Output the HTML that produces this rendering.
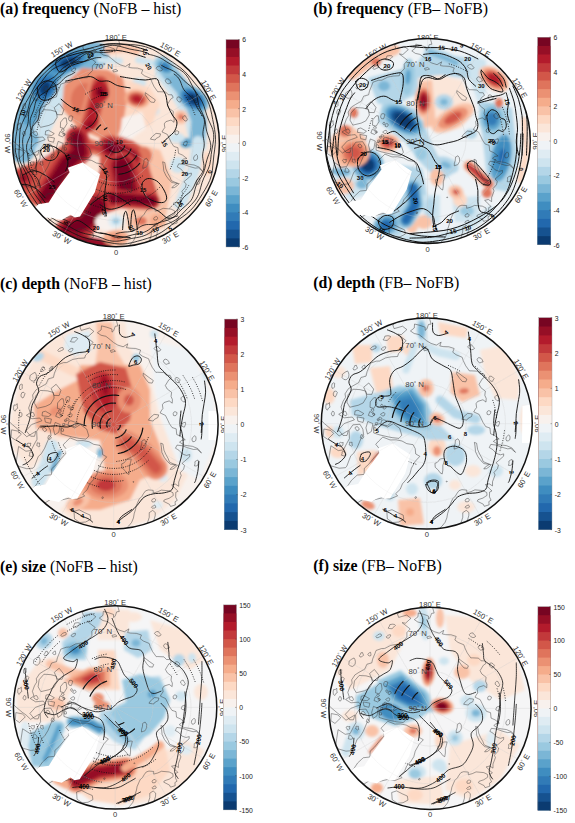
<!DOCTYPE html>
<html><head><meta charset="utf-8"><title>figure</title>
<style>html,body{margin:0;padding:0;background:#fff}body{width:575px;height:823px;overflow:hidden;font-family:"Liberation Sans",sans-serif}svg{display:block}</style>
</head><body>
<svg width="575" height="823" viewBox="0 0 575 823">
<defs>
<path id="coast" d="M0.094 1.078 0.091 1.041 0.114 1.001 0.145 0.971 0.173 0.936 0.190 0.894 0.197 0.854 0.210 0.813 0.216 0.780 0.233 0.740 0.245 0.713 0.271 0.687 0.287 0.660 0.306 0.635 0.333 0.626 0.379 0.630 0.379 0.656 0.419 0.645 0.456 0.628 0.532 0.635 0.568 0.653 0.571 0.680 0.532 0.706 0.486 0.721 0.478 0.735 0.535 0.764 0.545 0.784 0.591 0.770 0.588 0.739 0.609 0.726 0.594 0.695 0.595 0.649 0.617 0.639 0.596 0.617 0.555 0.579 0.591 0.570 0.623 0.591 0.623 0.551 0.647 0.487 0.637 0.463 0.670 0.427 0.679 0.392 0.656 0.371 0.694 0.339 0.728 0.309 0.729 0.287 0.697 0.296 0.658 0.282 0.625 0.246 0.592 0.227 0.607 0.197 0.659 0.204 0.712 0.224 0.766 0.239 0.798 0.236 0.841 0.273 0.807 0.231 0.755 0.209 0.680 0.199 0.631 0.169 0.654 0.151 0.686 0.146 0.643 0.113 0.604 0.096 0.599 0.042 0.559 0.029 0.534 -0.009 0.517 -0.045 0.496 -0.087 0.445 -0.111 0.456 -0.131 0.472 -0.153 0.467 -0.189 0.482 -0.210 0.532 -0.226 0.561 -0.204 0.563 -0.239 0.550 -0.268 0.555 -0.308 0.513 -0.340 0.495 -0.373 0.528 -0.427 0.553 -0.444 0.541 -0.470 0.505 -0.471 0.480 -0.497 0.420 -0.500 0.404 -0.499 0.369 -0.548 0.345 -0.598 0.335 -0.629 0.277 -0.653 0.246 -0.677 0.259 -0.712 0.209 -0.728 0.155 -0.730 0.123 -0.736 0.136 -0.772 0.091 -0.744 0.040 -0.760 0.000 -0.784 -0.043 -0.820 -0.074 -0.844 -0.120 -0.854 -0.155 -0.878 -0.119 -0.906 -0.116 -0.944 -0.065 -0.931 -0.016 -0.914 -0.015 -0.884 0.000 -0.896 0.016 -0.940 0.041 -0.943 0.026 -0.996 0.018 -1.030 0.073 -1.042 0.153 -1.090M0.540 0.430 0.566 0.427 0.593 0.408 0.611 0.389 0.541 0.379 0.514 0.353 0.485 0.315 0.462 0.267 0.457 0.213 0.451 0.178 0.472 0.186 0.482 0.246 0.501 0.289 0.522 0.326 0.535 0.361 0.595 0.386 0.555 0.411 0.540 0.430M0.080 0.414 0.077 0.377 0.099 0.368 0.109 0.357 0.123 0.337 0.147 0.331 0.169 0.332 0.162 0.365 0.152 0.397 0.152 0.441 0.146 0.478 0.125 0.465 0.110 0.442 0.080 0.414M0.259 0.242 0.260 0.218 0.269 0.188 0.271 0.157 0.295 0.144 0.310 0.165 0.310 0.201 0.294 0.230 0.259 0.242M0.379 -0.033 0.333 -0.041 0.345 -0.061 0.387 -0.097 0.431 -0.092 0.424 -0.067 0.389 -0.048 0.379 -0.033M0.369 -0.396 0.336 -0.400 0.311 -0.429 0.283 -0.470 0.284 -0.491 0.339 -0.450 0.380 -0.421 0.369 -0.396M0.018 -0.701 -0.024 -0.690 -0.031 -0.708 0.000 -0.716 0.018 -0.701M-0.276 -1.066 -0.278 -0.968 -0.322 -0.935 -0.310 -0.900 -0.230 -0.923 -0.189 -0.891 -0.242 -0.843 -0.276 -0.848 -0.244 -0.823 -0.196 -0.786 -0.229 -0.749 -0.228 -0.703 -0.268 -0.664 -0.277 -0.636 -0.336 -0.633 -0.390 -0.623 -0.447 -0.593 -0.479 -0.592 -0.534 -0.573 -0.544 -0.544 -0.566 -0.492 -0.576 -0.450 -0.624 -0.437 -0.646 -0.388 -0.702 -0.357 -0.743 -0.331 -0.775 -0.282 -0.770 -0.250 -0.793 -0.212 -0.813 -0.158 -0.798 -0.112 -0.835 -0.088 -0.782 -0.055 -0.706 -0.062 -0.686 -0.036 -0.784 0.000 -0.809 0.028 -0.838 0.059 -0.794 0.112 -0.757 0.113 -0.743 0.065 -0.831 0.117 -0.874 0.076 -0.913 0.048 -0.970 0.000 -1.007 -0.035 -1.042 -0.073 -1.097 -0.086M-0.550 -0.385 -0.504 -0.327 -0.521 -0.277 -0.570 -0.278 -0.598 -0.345 -0.550 -0.385M-0.632 -0.322 -0.577 -0.307 -0.569 -0.253 -0.603 -0.196 -0.649 -0.174 -0.730 -0.155 -0.757 -0.203 -0.747 -0.272 -0.700 -0.326 -0.632 -0.322M-0.482 -0.246 -0.474 -0.191 -0.502 -0.144 -0.538 -0.154 -0.536 -0.206 -0.503 -0.245 -0.482 -0.246M-0.652 -0.127 -0.597 -0.095 -0.622 -0.076 -0.685 -0.084 -0.680 -0.120 -0.652 -0.127M-0.661 -0.064 -0.595 -0.052 -0.604 -0.011 -0.653 -0.023 -0.661 -0.064M-0.559 -0.020 -0.511 0.000 -0.525 0.074 -0.562 0.099 -0.577 0.040 -0.559 -0.020M-0.540 -0.115 -0.492 -0.087 -0.518 -0.064 -0.554 -0.078 -0.540 -0.115M-0.409 -0.036 -0.336 -0.012 -0.373 0.020 -0.437 0.008 -0.428 -0.030 -0.409 -0.036M-0.503 0.018 -0.448 0.000 -0.372 0.033 -0.317 0.000 -0.257 0.045 -0.237 0.110 -0.264 0.140 -0.329 0.133 -0.393 0.120 -0.454 0.105 -0.503 0.089 -0.503 0.018M-0.771 0.418 -0.831 0.423 -0.903 0.402 -0.934 0.377 -0.923 0.300 -0.909 0.210 -0.839 0.256 -0.790 0.249 -0.760 0.190 -0.733 0.142 -0.736 0.064 -0.701 0.012 -0.634 0.006 -0.606 0.053 -0.599 0.106 -0.625 0.144 -0.660 0.227 -0.692 0.280 -0.721 0.306 -0.758 0.403 -0.771 0.418M-0.912 0.064 -0.883 0.093 -0.940 0.149 -0.981 0.121 -0.976 0.051 -0.912 0.064M-1.081 0.210 -1.004 0.213 -0.994 0.285 -1.017 0.370 -1.021 0.412M-0.751 0.805 -0.706 0.770 -0.649 0.746 -0.600 0.715 -0.558 0.715 -0.507 0.724 -0.423 0.704 -0.348 0.714 -0.277 0.685 -0.296 0.665 -0.252 0.623 -0.231 0.571 -0.191 0.526 -0.160 0.478 -0.146 0.423 -0.109 0.357 -0.066 0.310 -0.105 0.288 -0.110 0.237 -0.130 0.200 -0.190 0.190 -0.235 0.165 -0.290 0.154 -0.348 0.155 -0.417 0.128 -0.456 0.166 -0.484 0.196 -0.455 0.232 -0.454 0.273 -0.501 0.325 -0.550 0.385 -0.592 0.423 -0.594 0.481 -0.660 0.488 -0.715 0.539 -0.759 0.604 -0.786 0.660 -0.818 0.737M-0.374 0.903 -0.379 0.832 -0.330 0.816 -0.274 0.845 -0.224 0.867 -0.218 0.907 -0.267 0.933 -0.323 0.938 -0.374 0.903M0.322 1.053 0.309 0.979 0.324 0.942 0.341 0.888 0.341 0.844 0.374 0.822 0.399 0.843 0.398 0.873 0.383 0.924 0.380 0.973 0.403 1.024M-0.780 -0.079 -0.766 -0.074 -0.757 -0.089 -0.763 -0.103 -0.769 -0.115 -0.781 -0.116 -0.794 -0.110 -0.800 -0.094 -0.788 -0.084 -0.780 -0.079M-0.450 -0.218 -0.431 -0.215 -0.424 -0.232 -0.421 -0.242 -0.417 -0.259 -0.433 -0.267 -0.450 -0.264 -0.456 -0.249 -0.459 -0.234 -0.450 -0.218M-0.419 -0.073 -0.407 -0.072 -0.400 -0.082 -0.397 -0.094 -0.405 -0.105 -0.418 -0.102 -0.426 -0.097 -0.439 -0.089 -0.429 -0.078 -0.419 -0.073M-0.438 -0.040 -0.431 -0.042 -0.424 -0.046 -0.427 -0.053 -0.433 -0.057 -0.441 -0.061 -0.453 -0.059 -0.455 -0.049 -0.450 -0.041 -0.438 -0.040M-0.406 -0.139 -0.396 -0.138 -0.388 -0.146 -0.384 -0.157 -0.390 -0.167 -0.399 -0.172 -0.406 -0.162 -0.413 -0.156 -0.416 -0.144 -0.406 -0.139M-0.431 -0.159 -0.421 -0.159 -0.416 -0.166 -0.416 -0.173 -0.420 -0.178 -0.425 -0.185 -0.432 -0.181 -0.438 -0.174 -0.435 -0.166 -0.431 -0.159M-0.610 0.144 -0.603 0.136 -0.596 0.125 -0.605 0.115 -0.612 0.103 -0.623 0.107 -0.626 0.119 -0.630 0.132 -0.619 0.139 -0.610 0.144M-0.462 -0.028 -0.454 -0.026 -0.454 -0.034 -0.452 -0.041 -0.458 -0.043 -0.463 -0.044 -0.471 -0.044 -0.469 -0.035 -0.468 -0.029 -0.462 -0.028M-0.805 0.212 -0.795 0.204 -0.795 0.193 -0.792 0.179 -0.808 0.181 -0.819 0.178 -0.831 0.187 -0.822 0.200 -0.817 0.212 -0.805 0.212M-1.007 0.155 -0.996 0.147 -0.990 0.134 -0.998 0.123 -1.005 0.109 -1.020 0.110 -1.029 0.124 -1.024 0.138 -1.020 0.151 -1.007 0.155M-1.027 0.192 -1.018 0.188 -1.010 0.181 -1.017 0.174 -1.026 0.170 -1.036 0.172 -1.040 0.179 -1.043 0.186 -1.037 0.192 -1.027 0.192M-0.787 -0.419 -0.765 -0.415 -0.741 -0.435 -0.738 -0.464 -0.742 -0.482 -0.751 -0.499 -0.773 -0.488 -0.799 -0.469 -0.803 -0.435 -0.787 -0.419M-0.973 -0.382 -0.958 -0.376 -0.936 -0.406 -0.919 -0.445 -0.931 -0.460 -0.942 -0.467 -0.959 -0.451 -0.975 -0.425 -0.988 -0.387 -0.973 -0.382M-0.877 -0.259 -0.867 -0.253 -0.856 -0.272 -0.848 -0.296 -0.857 -0.306 -0.865 -0.308 -0.878 -0.305 -0.887 -0.282 -0.884 -0.264 -0.877 -0.259M-0.943 -0.127 -0.931 -0.148 -0.917 -0.156 -0.922 -0.175 -0.922 -0.199 -0.938 -0.186 -0.953 -0.187 -0.958 -0.163 -0.956 -0.140 -0.943 -0.127M-0.893 -0.072 -0.883 -0.075 -0.877 -0.088 -0.877 -0.103 -0.883 -0.114 -0.893 -0.118 -0.900 -0.105 -0.907 -0.091 -0.899 -0.082 -0.893 -0.072M-0.898 -0.336 -0.887 -0.334 -0.874 -0.347 -0.875 -0.365 -0.873 -0.382 -0.884 -0.386 -0.897 -0.377 -0.901 -0.360 -0.901 -0.349 -0.898 -0.336M-1.002 -0.220 -0.992 -0.217 -0.984 -0.240 -0.982 -0.260 -0.982 -0.279 -0.992 -0.282 -1.004 -0.269 -1.011 -0.246 -1.009 -0.227 -1.002 -0.220M-0.505 -0.077 -0.497 -0.078 -0.493 -0.085 -0.493 -0.092 -0.498 -0.097 -0.506 -0.103 -0.511 -0.095 -0.512 -0.089 -0.511 -0.083 -0.505 -0.077M-0.517 -0.115 -0.509 -0.117 -0.502 -0.123 -0.501 -0.132 -0.509 -0.136 -0.515 -0.140 -0.524 -0.138 -0.528 -0.129 -0.524 -0.121 -0.517 -0.115M-0.488 0.065 -0.480 0.065 -0.478 0.053 -0.481 0.042 -0.488 0.038 -0.496 0.033 -0.502 0.042 -0.501 0.056 -0.495 0.066 -0.488 0.065M-0.477 0.016 -0.472 0.007 -0.470 0.002 -0.465 -0.008 -0.474 -0.009 -0.480 -0.009 -0.488 -0.007 -0.488 0.002 -0.486 0.012 -0.477 0.016M-0.661 0.068 -0.646 0.062 -0.640 0.048 -0.651 0.039 -0.657 0.029 -0.670 0.031 -0.680 0.038 -0.677 0.050 -0.671 0.058 -0.661 0.068M-0.715 0.214 -0.705 0.207 -0.709 0.193 -0.708 0.177 -0.721 0.178 -0.731 0.175 -0.732 0.188 -0.736 0.201 -0.725 0.207 -0.715 0.214M-0.782 0.306 -0.767 0.301 -0.767 0.284 -0.779 0.274 -0.790 0.261 -0.803 0.268 -0.803 0.284 -0.809 0.300 -0.793 0.304 -0.782 0.306M-0.692 -0.508 -0.677 -0.511 -0.666 -0.517 -0.656 -0.527 -0.663 -0.538 -0.667 -0.552 -0.683 -0.550 -0.689 -0.534 -0.699 -0.521 -0.692 -0.508M-0.608 -0.523 -0.598 -0.519 -0.585 -0.522 -0.584 -0.535 -0.586 -0.543 -0.588 -0.555 -0.600 -0.550 -0.608 -0.544 -0.615 -0.533 -0.608 -0.523M-0.429 -0.700 -0.421 -0.696 -0.407 -0.695 -0.395 -0.708 -0.390 -0.718 -0.390 -0.728 -0.405 -0.728 -0.420 -0.719 -0.433 -0.708 -0.429 -0.700M-0.415 -0.794 -0.398 -0.790 -0.376 -0.788 -0.357 -0.806 -0.342 -0.821 -0.350 -0.830 -0.368 -0.833 -0.397 -0.829 -0.403 -0.810 -0.415 -0.794M-0.528 -0.700 -0.515 -0.700 -0.500 -0.707 -0.481 -0.716 -0.481 -0.728 -0.485 -0.736 -0.498 -0.736 -0.517 -0.728 -0.535 -0.710 -0.528 -0.700M0.584 -0.122 0.576 -0.117 0.570 -0.105 0.573 -0.087 0.586 -0.084 0.596 -0.086 0.603 -0.095 0.608 -0.113 0.594 -0.121 0.584 -0.122M0.671 -0.017 0.662 -0.015 0.655 -0.004 0.651 0.014 0.665 0.022 0.678 0.025 0.684 0.009 0.690 -0.004 0.686 -0.022 0.671 -0.017M0.657 -0.267 0.647 -0.257 0.644 -0.240 0.657 -0.228 0.668 -0.216 0.683 -0.218 0.690 -0.234 0.679 -0.251 0.671 -0.267 0.657 -0.267M0.596 -0.449 0.589 -0.438 0.590 -0.420 0.604 -0.404 0.621 -0.399 0.629 -0.413 0.638 -0.426 0.623 -0.442 0.610 -0.449 0.596 -0.449M0.482 -0.618 0.476 -0.605 0.486 -0.587 0.503 -0.575 0.517 -0.581 0.534 -0.585 0.526 -0.604 0.513 -0.620 0.493 -0.626 0.482 -0.618M0.397 -0.740 0.387 -0.727 0.403 -0.710 0.425 -0.700 0.443 -0.704 0.453 -0.716 0.434 -0.732 0.425 -0.747 0.408 -0.745 0.397 -0.740M0.776 0.106 0.765 0.119 0.753 0.128 0.750 0.148 0.758 0.165 0.773 0.163 0.786 0.154 0.789 0.135 0.787 0.117 0.776 0.106M0.808 0.340 0.793 0.346 0.778 0.356 0.779 0.376 0.774 0.396 0.788 0.397 0.803 0.393 0.810 0.373 0.813 0.356 0.808 0.340M0.401 0.716 0.393 0.708 0.381 0.710 0.370 0.716 0.364 0.728 0.369 0.741 0.384 0.741 0.396 0.738 0.402 0.727 0.401 0.716M0.400 0.780 0.394 0.770 0.382 0.778 0.372 0.781 0.362 0.792 0.370 0.801 0.382 0.800 0.393 0.799 0.405 0.791 0.400 0.780M0.575 0.872 0.562 0.866 0.547 0.869 0.527 0.874 0.527 0.893 0.533 0.908 0.552 0.911 0.568 0.901 0.583 0.887 0.575 0.872M0.624 0.847 0.613 0.845 0.604 0.842 0.598 0.849 0.594 0.860 0.603 0.871 0.615 0.878 0.621 0.867 0.626 0.860 0.624 0.847M-0.099 0.702 -0.098 0.695 -0.103 0.694 -0.107 0.693 -0.112 0.697 -0.113 0.704 -0.110 0.708 -0.105 0.710 -0.101 0.706 -0.099 0.702M0.194 0.549 0.192 0.546 0.188 0.544 0.186 0.547 0.185 0.550 0.187 0.553 0.189 0.555 0.191 0.554 0.193 0.552 0.194 0.549" fill="none" stroke="#333" stroke-width="0.0045" stroke-linejoin="round"/>
<filter id="bla" x="-20%" y="-20%" width="140%" height="140%"><feGaussianBlur stdDeviation="1.8"/></filter>
<filter id="blb" x="-20%" y="-20%" width="140%" height="140%"><feGaussianBlur stdDeviation="1.7"/></filter>
<filter id="blc" x="-20%" y="-20%" width="140%" height="140%"><feGaussianBlur stdDeviation="1.7"/></filter>
<filter id="bld" x="-20%" y="-20%" width="140%" height="140%"><feGaussianBlur stdDeviation="1.7"/></filter>
<filter id="ble" x="-20%" y="-20%" width="140%" height="140%"><feGaussianBlur stdDeviation="1.7"/></filter>
<filter id="blf" x="-20%" y="-20%" width="140%" height="140%"><feGaussianBlur stdDeviation="1.7"/></filter>
</defs>
<rect width="575" height="823" fill="#fff"/>
<text x="0" y="13.9" font-family="Liberation Serif, serif" font-size="15.8" fill="#000"><tspan font-weight="bold">(a) frequency</tspan> (NoFB – hist)</text>
<text x="313.2" y="14.4" font-family="Liberation Serif, serif" font-size="15.8" fill="#000"><tspan font-weight="bold">(b) frequency</tspan> (FB– NoFB)</text>
<text x="0" y="288.6" font-family="Liberation Serif, serif" font-size="15.8" fill="#000"><tspan font-weight="bold">(c) depth</tspan> (NoFB – hist)</text>
<text x="313.2" y="287.8" font-family="Liberation Serif, serif" font-size="15.8" fill="#000"><tspan font-weight="bold">(d) depth</tspan> (FB– NoFB)</text>
<text x="0" y="571.6" font-family="Liberation Serif, serif" font-size="15.8" fill="#000"><tspan font-weight="bold">(e) size</tspan> (NoFB – hist)</text>
<text x="313.2" y="571" font-family="Liberation Serif, serif" font-size="15.8" fill="#000"><tspan font-weight="bold">(f) size</tspan> (FB– NoFB)</text>
<!-- panel a -->
<g font-family="Liberation Sans, sans-serif" font-size="7.6" fill="#333" text-anchor="middle">
<text transform="translate(116 37.2) rotate(0)" y="2.7">180<tspan dy="-2.2" font-size="5">°</tspan><tspan dy="2.2"> </tspan>E</text>
<text transform="translate(170.3 49.3) rotate(30)" y="2.7">150<tspan dy="-2.2" font-size="5">°</tspan><tspan dy="2.2"> </tspan>E</text>
<text transform="translate(208.6 90) rotate(60)" y="2.7">120<tspan dy="-2.2" font-size="5">°</tspan><tspan dy="2.2"> </tspan>E</text>
<text transform="translate(224.4 143.4) rotate(-90)" y="2.7">90<tspan dy="-2.2" font-size="5">°</tspan><tspan dy="2.2"> </tspan>E</text>
<text transform="translate(211.2 198.4) rotate(-60)" y="2.7">60<tspan dy="-2.2" font-size="5">°</tspan><tspan dy="2.2"> </tspan>E</text>
<text transform="translate(170.3 237.5) rotate(-30)" y="2.7">30<tspan dy="-2.2" font-size="5">°</tspan><tspan dy="2.2"> </tspan>E</text>
<text transform="translate(116 252) rotate(0)" y="2.7">0</text>
<text transform="translate(61.7 237.5) rotate(30)" y="2.7">30<tspan dy="-2.2" font-size="5">°</tspan><tspan dy="2.2"> </tspan>W</text>
<text transform="translate(20.8 198.4) rotate(60)" y="2.7">60<tspan dy="-2.2" font-size="5">°</tspan><tspan dy="2.2"> </tspan>W</text>
<text transform="translate(7.6 143.4) rotate(90)" y="2.7">90<tspan dy="-2.2" font-size="5">°</tspan><tspan dy="2.2"> </tspan>W</text>
<text transform="translate(23.4 90) rotate(300)" y="2.7">120<tspan dy="-2.2" font-size="5">°</tspan><tspan dy="2.2"> </tspan>W</text>
<text transform="translate(61.7 49.3) rotate(330)" y="2.7">150<tspan dy="-2.2" font-size="5">°</tspan><tspan dy="2.2"> </tspan>W</text>
</g>
<clipPath id="cpa"><circle cx="116" cy="143.4" r="103.4"/></clipPath>
<g clip-path="url(#cpa)">
<rect x="10.6" y="38" width="210.8" height="210.8" fill="#fbe6d9"/>
<g filter="url(#bla)">
<polygon points="14,150 40,152 52,128 62,108 78,88 104,62 100,48 60,60 30,95 14,130" fill="#cee4ef"/>
<path d="M22 150 L21 122 L33 94 L51 70 L72 57 L96 55" fill="none" stroke="#7bb6d6" stroke-width="26" stroke-linecap="round" stroke-linejoin="round"/>
<path d="M30 118 L42 90 L60 68 L82 56" fill="none" stroke="#5aa2cb" stroke-width="16" stroke-linecap="round" stroke-linejoin="round"/>
<ellipse cx="68" cy="62" rx="19.5" ry="9.2" transform="rotate(-22 68 62)" fill="#3f8dc0"/>
<ellipse cx="68" cy="62" rx="15.8" ry="7.4" transform="rotate(-22 68 62)" fill="#317bb7"/>
<ellipse cx="68" cy="62" rx="12" ry="5.6" transform="rotate(-22 68 62)" fill="#2268ad"/>
<ellipse cx="68" cy="62" rx="8.2" ry="3.9" transform="rotate(-22 68 62)" fill="#0b3b71"/>
<ellipse cx="45" cy="88" rx="11.5" ry="16.1" transform="rotate(30 45 88)" fill="#3f8dc0"/>
<ellipse cx="45" cy="88" rx="9.3" ry="13" transform="rotate(30 45 88)" fill="#317bb7"/>
<ellipse cx="45" cy="88" rx="7.1" ry="9.9" transform="rotate(30 45 88)" fill="#2268ad"/>
<ellipse cx="45" cy="88" rx="4.8" ry="6.8" transform="rotate(30 45 88)" fill="#0b3b71"/>
<ellipse cx="31" cy="140" rx="8" ry="9" transform="rotate(0 31 140)" fill="#7bb6d6"/>
<ellipse cx="50" cy="160" rx="14" ry="7" transform="rotate(-20 50 160)" fill="#eff3f6"/>
<path d="M100 60 L120 61" fill="none" stroke="#cee4ef" stroke-width="6" stroke-linecap="round" stroke-linejoin="round"/>
<path d="M138 60 L158 64" fill="none" stroke="#cee4ef" stroke-width="6" stroke-linecap="round" stroke-linejoin="round"/>
<polygon points="155,55 175,65 198,95 208,125 206,150 190,150 185,120 170,95 155,75" fill="#cee4ef"/>
<path d="M162 64 L174 78 L190 97 L199 120 L197 142" fill="none" stroke="#7bb6d6" stroke-width="15" stroke-linecap="round" stroke-linejoin="round"/>
<ellipse cx="193" cy="99" rx="17.2" ry="11.5" transform="rotate(35 193 99)" fill="#7bb6d6"/>
<ellipse cx="193" cy="99" rx="13.9" ry="9.3" transform="rotate(35 193 99)" fill="#3f8dc0"/>
<ellipse cx="193" cy="99" rx="10.6" ry="7.1" transform="rotate(35 193 99)" fill="#2268ad"/>
<ellipse cx="193" cy="99" rx="7.2" ry="4.8" transform="rotate(35 193 99)" fill="#0b3b71"/>
<ellipse cx="165" cy="67" rx="11.5" ry="8" transform="rotate(35 165 67)" fill="#9ac9e0"/>
<ellipse cx="165" cy="67" rx="8.2" ry="5.7" transform="rotate(35 165 67)" fill="#5aa2cb"/>
<ellipse cx="165" cy="67" rx="4.8" ry="3.4" transform="rotate(35 165 67)" fill="#317bb7"/>
<path d="M198 142 L194 170 L182 200" fill="none" stroke="#cee4ef" stroke-width="12" stroke-linecap="round" stroke-linejoin="round"/>
<ellipse cx="186" cy="143" rx="6" ry="5" transform="rotate(0 186 143)" fill="#5aa2cb"/>
<ellipse cx="139" cy="83" rx="7" ry="5" transform="rotate(0 139 83)" fill="#cee4ef"/>
<ellipse cx="150" cy="113" rx="10" ry="5" transform="rotate(-20 150 113)" fill="#cee4ef"/>
<ellipse cx="128" cy="128" rx="6" ry="4" transform="rotate(-30 128 128)" fill="#cee4ef"/>
<ellipse cx="177" cy="138" rx="8" ry="5" transform="rotate(0 177 138)" fill="#cee4ef"/>
<ellipse cx="178" cy="165" rx="8" ry="8" transform="rotate(0 178 165)" fill="#cee4ef"/>
<ellipse cx="190" cy="176" rx="6" ry="6" transform="rotate(0 190 176)" fill="#cee4ef"/>
<ellipse cx="179" cy="205" rx="6" ry="4" transform="rotate(0 179 205)" fill="#cee4ef"/>
<polygon points="122,78 150,88 160,104 152,124 134,134 122,128" fill="#fdd9c4"/>
<polygon points="64,84 82,68 108,70 123,78 127,100 123,124 117,138 100,138 78,128 62,108" fill="#eb9173"/>
<ellipse cx="86" cy="100" rx="15" ry="17" transform="rotate(0 86 100)" fill="#df745c"/>
<polygon points="122,140 160,150 172,180 166,215 150,236 128,218 122,180" fill="#f9c2a7"/>
<path d="M108 50 L125 48 L136 51" fill="none" stroke="#f9c2a7" stroke-width="8" stroke-linecap="round" stroke-linejoin="round"/>
<ellipse cx="207" cy="164" rx="5" ry="12" transform="rotate(0 207 164)" fill="#fdd9c4"/>
<polygon points="100,138 125,136 146,150 150,170 158,195 150,210 120,208 100,216 92,236 70,240 54,228 76,212 92,192 100,170" fill="#d25749"/>
<polygon points="14,170 40,160 62,146 76,130 92,140 84,158 66,170 52,198 36,206 20,196" fill="#d25749"/>
<polygon points="122,118 142,112 146,128 130,140 120,136" fill="#f8f1ed"/>
<ellipse cx="144" cy="156" rx="8" ry="9" transform="rotate(0 144 156)" fill="#df745c"/>
<path d="M100 84 L96 100 L90 122" fill="none" stroke="#eb9173" stroke-width="23" stroke-linecap="round" stroke-linejoin="round"/>
<path d="M100 84 L96 100 L90 122" fill="none" stroke="#d25749" stroke-width="16.3" stroke-linecap="round" stroke-linejoin="round"/>
<path d="M100 84 L96 100 L90 122" fill="none" stroke="#b31b2c" stroke-width="9.7" stroke-linecap="round" stroke-linejoin="round"/>
<ellipse cx="100" cy="92" rx="9.2" ry="10.3" transform="rotate(0 100 92)" fill="#b31b2c"/>
<ellipse cx="100" cy="92" rx="3.9" ry="4.3" transform="rotate(0 100 92)" fill="#770522"/>
<ellipse cx="90" cy="124" rx="10.3" ry="6.9" transform="rotate(-40 90 124)" fill="#b31b2c"/>
<ellipse cx="90" cy="124" rx="4.3" ry="2.9" transform="rotate(-40 90 124)" fill="#960f26"/>
<ellipse cx="137" cy="99" rx="12.6" ry="9.2" transform="rotate(10 137 99)" fill="#f5ac8b"/>
<ellipse cx="137" cy="99" rx="9" ry="6.5" transform="rotate(10 137 99)" fill="#d25749"/>
<ellipse cx="137" cy="99" rx="5.3" ry="3.9" transform="rotate(10 137 99)" fill="#b31b2c"/>
<ellipse cx="181" cy="117" rx="6.9" ry="6.9" transform="rotate(0 181 117)" fill="#f9c2a7"/>
<ellipse cx="181" cy="117" rx="2.9" ry="2.9" transform="rotate(0 181 117)" fill="#df745c"/>
<path d="M84 144 L102 150" fill="none" stroke="#df745c" stroke-width="13.8" stroke-linecap="round" stroke-linejoin="round"/>
<path d="M84 144 L102 150" fill="none" stroke="#c2393b" stroke-width="5.8" stroke-linecap="round" stroke-linejoin="round"/>
<path d="M77 138 L80 152 L66 164 L56 180 L46 196" fill="none" stroke="#c2393b" stroke-width="23" stroke-linecap="round" stroke-linejoin="round"/>
<path d="M77 138 L80 152 L66 164 L56 180 L46 196" fill="none" stroke="#960f26" stroke-width="16.3" stroke-linecap="round" stroke-linejoin="round"/>
<path d="M77 138 L80 152 L66 164 L56 180 L46 196" fill="none" stroke="#770522" stroke-width="9.7" stroke-linecap="round" stroke-linejoin="round"/>
<ellipse cx="24" cy="178" rx="9.2" ry="10.3" transform="rotate(0 24 178)" fill="#c2393b"/>
<ellipse cx="24" cy="178" rx="3.9" ry="4.3" transform="rotate(0 24 178)" fill="#960f26"/>
<path d="M110 147 L130 158" fill="none" stroke="#c2393b" stroke-width="23" stroke-linecap="round" stroke-linejoin="round"/>
<path d="M110 147 L130 158" fill="none" stroke="#960f26" stroke-width="16.3" stroke-linecap="round" stroke-linejoin="round"/>
<path d="M110 147 L130 158" fill="none" stroke="#770522" stroke-width="9.7" stroke-linecap="round" stroke-linejoin="round"/>
<path d="M122 166 L127 190" fill="none" stroke="#c2393b" stroke-width="29.9" stroke-linecap="round" stroke-linejoin="round"/>
<path d="M122 166 L127 190" fill="none" stroke="#960f26" stroke-width="21.2" stroke-linecap="round" stroke-linejoin="round"/>
<path d="M122 166 L127 190" fill="none" stroke="#770522" stroke-width="12.6" stroke-linecap="round" stroke-linejoin="round"/>
<path d="M88 201 L120 198 L152 201" fill="none" stroke="#c2393b" stroke-width="16.1" stroke-linecap="round" stroke-linejoin="round"/>
<path d="M88 201 L120 198 L152 201" fill="none" stroke="#960f26" stroke-width="11.4" stroke-linecap="round" stroke-linejoin="round"/>
<path d="M88 201 L120 198 L152 201" fill="none" stroke="#770522" stroke-width="6.8" stroke-linecap="round" stroke-linejoin="round"/>
<path d="M98 205 L86 222 L68 231" fill="none" stroke="#c2393b" stroke-width="25.3" stroke-linecap="round" stroke-linejoin="round"/>
<path d="M98 205 L86 222 L68 231" fill="none" stroke="#960f26" stroke-width="18" stroke-linecap="round" stroke-linejoin="round"/>
<path d="M98 205 L86 222 L68 231" fill="none" stroke="#770522" stroke-width="10.6" stroke-linecap="round" stroke-linejoin="round"/>
<path d="M70 236 L90 243 L106 246" fill="none" stroke="#960f26" stroke-width="11" stroke-linecap="round" stroke-linejoin="round"/>
<ellipse cx="116" cy="238" rx="12.6" ry="8" transform="rotate(0 116 238)" fill="#f5ac8b"/>
<ellipse cx="116" cy="238" rx="5.3" ry="3.4" transform="rotate(0 116 238)" fill="#df745c"/>
<ellipse cx="141" cy="221" rx="13.8" ry="10.3" transform="rotate(0 141 221)" fill="#f9c2a7"/>
<ellipse cx="141" cy="221" rx="5.8" ry="4.3" transform="rotate(0 141 221)" fill="#df745c"/>
<ellipse cx="158" cy="221" rx="8" ry="7" transform="rotate(0 158 221)" fill="#f5ac8b"/>
<ellipse cx="108" cy="222" rx="13" ry="9" transform="rotate(0 108 222)" fill="#f8f1ed"/>
<ellipse cx="116" cy="221" rx="8" ry="6.9" transform="rotate(0 116 221)" fill="#dfecf3"/>
<ellipse cx="116" cy="221" rx="3.4" ry="2.9" transform="rotate(0 116 221)" fill="#9ac9e0"/>
</g>
<g stroke="#d0d0d0" stroke-width="0.3" opacity="0.55"><line x1="116" y1="145.5" x2="116" y2="246.8"/><line x1="117" y1="145.2" x2="167.7" y2="232.9"/><line x1="117.8" y1="144.4" x2="205.5" y2="195.1"/><line x1="118.1" y1="143.4" x2="219.4" y2="143.4"/><line x1="117.8" y1="142.4" x2="205.5" y2="91.7"/><line x1="117" y1="141.6" x2="167.7" y2="53.9"/><line x1="116" y1="141.3" x2="116" y2="40"/><line x1="115" y1="141.6" x2="64.3" y2="53.9"/><line x1="114.2" y1="142.4" x2="26.5" y2="91.7"/><line x1="113.9" y1="143.4" x2="12.6" y2="143.4"/><line x1="114.2" y1="144.4" x2="26.5" y2="195.1"/><line x1="115" y1="145.2" x2="64.3" y2="232.9"/><circle cx="116" cy="143.4" r="38.6" fill="none"/><circle cx="116" cy="143.4" r="77.1" fill="none"/></g>
<g font-family="Liberation Sans, sans-serif" font-size="7.8" fill="#444" text-anchor="end">
<text x="113" y="146.2">90<tspan dy="-2.2" font-size="5">°</tspan><tspan dy="2.2"> N</tspan></text>
<text x="113" y="107.6">80<tspan dy="-2.2" font-size="5">°</tspan><tspan dy="2.2"> N</tspan></text>
<text x="113" y="69.1">70<tspan dy="-2.2" font-size="5">°</tspan><tspan dy="2.2"> N</tspan></text>
</g>
<use href="#coast" transform="translate(116 143.4) scale(103.4)"/>
<path d="M56.6 60.7 C58.4 58.8 63 57.7 67.9 56.2 C72.8 54.7 81.8 52.1 86 51.7 C90.1 51.3 92.8 52.4 92.8 53.9 C92.8 55.4 89.4 58.8 86 60.7 C82.6 62.6 76.5 63.4 72.4 65.2 C68.3 67.1 63.7 71.7 61.1 72 C58.4 72.4 57.3 69.4 56.6 67.5 C55.8 65.6 54.7 62.6 56.6 60.7Z" fill="none" stroke="#111" stroke-width="1" stroke-linecap="round" stroke-linejoin="round"/>
<path d="M37.3 87.9 C38.1 84.9 42.4 81.8 45.2 81.1 C48.1 80.3 52.4 81.5 54.3 83.3 C56.2 85.2 57.3 89.8 56.6 92.4 C55.8 95 52.4 98.1 49.8 99.2 C47.1 100.3 42.8 101.1 40.7 99.2 C38.7 97.3 36.6 90.9 37.3 87.9Z" fill="none" stroke="#111" stroke-width="1" stroke-linecap="round" stroke-linejoin="round"/>
<path d="M61.1 99.2 C62.2 100.1 65.4 103.1 67.9 104.8 C70.3 106.5 73.2 108.4 75.8 109.4 C78.4 110.3 81.3 110.7 83.7 110.5 C86.2 110.3 88.2 107.5 90.5 108.2 C92.8 109 96.9 112.4 97.3 115 C97.7 117.7 94.6 121.8 92.8 124.1 C90.9 126.3 87.1 127.8 86 128.6" fill="none" stroke="#111" stroke-width="1" stroke-linecap="round" stroke-linejoin="round"/>
<path d="M65.6 81.1 C67.5 80.7 72.8 79.6 76.9 78.8 C81.1 78.1 86.7 76.2 90.5 76.6 C94.3 76.9 96.5 80.3 99.5 81.1 C102.6 81.8 105.6 80.3 108.6 81.1 C111.6 81.8 114.1 84.5 117.6 85.6 C121.2 86.7 128 87.5 130.1 87.9" fill="none" stroke="#111" stroke-width="1" stroke-linecap="round" stroke-linejoin="round"/>
<path d="M100 44.9 C102.3 44.7 109 43.8 113.6 43.8 C118.1 43.8 122.6 44.1 127.1 44.9 C131.7 45.6 137.3 47.3 140.7 48.3 C144.1 49.2 146.4 50.2 147.5 50.5" fill="none" stroke="#111" stroke-width="1" stroke-linecap="round" stroke-linejoin="round"/>
<path d="M100 50.5 C103 50.5 112.4 50 118.1 50.5 C123.8 51.1 129.4 52.8 133.9 53.9 C138.5 55.1 143.4 56.8 145.2 57.3" fill="none" stroke="#111" stroke-width="1" stroke-linecap="round" stroke-linejoin="round"/>
<path d="M120.4 76.6 C122.6 76.9 129.8 78.3 133.9 78.8 C138.1 79.4 141.5 80 145.2 80 C149 80 154.1 77.9 156.6 78.8 C159 79.8 158.4 83 160 85.6 C161.5 88.3 164.3 91.3 165.6 94.7 C166.9 98.1 166.7 102.6 167.9 106 C169 109.4 170.9 112.4 172.4 115 C173.9 117.7 176.5 119.2 176.9 121.8 C177.3 124.4 176.2 128.2 174.7 130.9 C173.2 133.5 169.8 135.8 167.9 137.6 C166 139.5 164.1 141.4 163.3 142.2" fill="none" stroke="#111" stroke-width="1" stroke-linecap="round" stroke-linejoin="round"/>
<path d="M141.9 184.3 C142.2 181.5 145.1 179.2 147.5 178.6 C150 178.1 153.9 179.2 156.6 180.9 C159.2 182.6 161.7 186 163.3 188.8 C165 191.7 166.7 195.6 166.7 197.9 C166.7 200.1 165.4 201.8 163.3 202.4 C161.3 203 157.3 202.4 154.3 201.3 C151.3 200.1 147.3 198.4 145.2 195.6 C143.2 192.8 141.5 187.1 141.9 184.3Z" fill="none" stroke="#111" stroke-width="1" stroke-linecap="round" stroke-linejoin="round"/>
<path d="M100 204.7 C101.5 205.4 105.7 208.8 109 209.2 C112.4 209.6 116.2 208.4 120.4 206.9 C124.5 205.4 129.8 200.5 133.9 200.1 C138.1 199.8 141.1 202.8 145.2 204.7 C149.4 206.5 155.1 209.2 158.8 211.4 C162.6 213.7 164.9 217.5 167.9 218.2 C170.9 219 175.4 216.3 176.9 216" fill="none" stroke="#111" stroke-width="1" stroke-linecap="round" stroke-linejoin="round"/>
<path d="M122.6 229.5 C122.8 227.3 123.2 219 123.8 216 C124.3 213 125.3 210.7 126 211.4 C126.8 212.2 127.7 217.5 128.3 220.5 C128.8 223.5 129.2 228 129.4 229.5" fill="none" stroke="#111" stroke-width="1" stroke-linecap="round" stroke-linejoin="round"/>
<path d="M130.5 229.5 C130.7 226.9 131.1 216.9 131.7 213.7 C132.2 210.5 133.2 209.2 133.9 210.3 C134.7 211.4 135.6 217.3 136.2 220.5 C136.8 223.7 137.1 228 137.3 229.5" fill="none" stroke="#111" stroke-width="1" stroke-linecap="round" stroke-linejoin="round"/>
<path d="M22.6 175.2 C24.5 174.5 30.2 170.7 33.9 170.7 C37.7 170.7 41.9 173.4 45.2 175.2 C48.6 177.1 52.8 180.9 54.3 182" fill="none" stroke="#111" stroke-width="1" stroke-linecap="round" stroke-linejoin="round"/>
<path d="M13.6 186.6 C15.5 186.2 21.1 183.9 24.9 184.3 C28.7 184.7 32.8 186.6 36.2 188.8 C39.6 191.1 43.7 196.4 45.2 197.9" fill="none" stroke="#111" stroke-width="1" stroke-linecap="round" stroke-linejoin="round"/>
<path d="M99.5 166.2 C100.7 167.7 105.4 171.5 106.3 175.2 C107.3 179 105.6 184.3 105.2 188.8 C104.8 193.3 103.9 197.9 104.1 202.4 C104.3 206.9 106 213.7 106.3 216" fill="none" stroke="#111" stroke-width="1" stroke-linecap="round" stroke-linejoin="round"/>
<path d="M90.5 204.7 C92 203.5 96.5 199.8 99.5 197.9 C102.6 196 105.2 193.3 108.6 193.3 C112 193.3 116.3 196 119.9 197.9 C123.5 199.8 128.4 203.5 130.1 204.7" fill="none" stroke="#111" stroke-width="1" stroke-linecap="round" stroke-linejoin="round"/>
<path d="M67.9 227.3 C69.4 226.2 73.9 220.9 76.9 220.5 C79.9 220.1 83 223.1 86 225 C89 226.9 91.6 230.3 95 231.8 C98.4 233.3 102.6 233.3 106.3 234.1 C110.1 234.8 113.7 235.8 117.6 236.3 C121.6 236.9 128 237.3 130.1 237.5" fill="none" stroke="#111" stroke-width="1" stroke-linecap="round" stroke-linejoin="round"/>
<path d="M56.6 148.1 C58.1 149.2 63.7 152.2 65.6 154.9 C67.5 157.5 67.9 161.3 67.9 163.9 C67.9 166.6 66 169.6 65.6 170.7" fill="none" stroke="#111" stroke-width="1" stroke-linecap="round" stroke-linejoin="round"/>
<path d="M40.7 150.4 C41.5 148.1 46.8 145.8 49.8 145.8 C52.8 145.8 58.1 148.1 58.8 150.4 C59.6 152.6 56.6 157.9 54.3 159.4 C52 160.9 47.5 160.9 45.2 159.4 C43 157.9 40 152.6 40.7 150.4Z" fill="none" stroke="#111" stroke-width="1" stroke-linecap="round" stroke-linejoin="round"/>
<path d="M150.5 48.6 C149.7 48.3 147.3 47.3 145.6 46.8 C144 46.3 142.3 45.9 140.6 45.6 C138.9 45.3 137.1 45.1 135.4 44.9 C133.7 44.8 132 44.7 130.2 44.6 C128.5 44.4 126.8 44.3 125.1 44.2 C123.4 44.1 121.7 44 120 43.9 C118.3 43.8 116.6 43.7 114.9 43.7 C113.1 43.7 111.4 43.8 109.7 43.9 C108 44 106.3 44.3 104.6 44.6 C103 44.9 101.3 45.3 99.6 45.7 C98 46.1 96.4 46.6 94.7 47 C93.1 47.5 91.4 47.9 89.8 48.3 C88.2 48.7 86.5 49.1 84.8 49.5 C83.2 49.9 81.5 50.2 79.8 50.6 C78.1 51 76.4 51.5 74.8 52 C73.2 52.6 71.5 53.2 70 53.9 C68.4 54.6 66.9 55.4 65.4 56.3 C63.9 57.2 62.5 58.2 61.1 59.2 C59.7 60.3 58.4 61.3 57 62.4 C55.7 63.5 54.3 64.6 53 65.6 C51.7 66.7 50.3 67.8 49 68.9 C47.7 70 46.4 71.2 45.2 72.3 C43.9 73.5 42.7 74.8 41.6 76.1 C40.5 77.4 39.4 78.8 38.4 80.2 C37.5 81.6 36.6 83.1 35.8 84.6 C34.9 86.1 34.1 87.6 33.3 89.2 C32.6 90.7 31.8 92.2 31 93.7 C30.2 95.2 29.3 96.6 28.5 98.1 C27.6 99.6 26.7 101 25.9 102.5 C25 104 24.2 105.4 23.4 107 C22.6 108.5 21.9 110 21.2 111.6 C20.6 113.2 20 114.9 19.6 116.5 C19.1 118.2 18.7 119.9 18.4 121.5 C18 123.2 17.8 124.9 17.5 126.6 C17.2 128.3 16.9 130 16.7 131.7 C16.4 133.4 16.1 135.1 15.9 136.8 C15.7 138.5 15.4 140.2 15.3 142 C15.2 143.7 15.1 145.4 15.2 147.2 C15.2 148.9 15.4 150.6 15.6 152.3 C15.9 154 16.3 155.7 16.8 157.4 C17.2 159.1 17.8 160.7 18.3 162.4 C18.8 164 19.4 165.6 19.9 167.2 C20.5 168.9 21 170.5 21.5 172.1 C22 173.7 22.5 175.3 23 177 C23.5 178.6 24 180.2 24.5 181.8 C25.1 183.4 25.7 185 26.4 186.6 C27.1 188.2 27.9 189.7 28.7 191.2 C29.5 192.7 30.5 194.1 31.4 195.5 C32.3 197 33.3 198.4 34.3 199.8 C35.2 201.2 36.2 202.6 37.2 204 C38.1 205.4 39.1 206.8 40.1 208.2 C41 209.7 42 211.1 43.1 212.5 C44.1 213.9 45.2 215.2 46.4 216.5 C47.5 217.8 48.8 219 50.1 220.1 C51.5 221.2 52.9 222.2 54.3 223.2 C55.8 224.1 57.3 224.9 58.9 225.8 C60.4 226.6 61.9 227.3 63.5 228.1 C65 228.9 66.5 229.7 68 230.4 C69.6 231.2 71.1 232 72.6 232.8 C74.1 233.5 75.6 234.3 77.2 235 C78.8 235.7 80.3 236.4 81.9 237 C83.6 237.5 85.2 238 86.9 238.4 C88.5 238.9 90.2 239.2 91.9 239.5 C93.5 239.8 95.2 240 96.9 240.3 C98.6 240.6 100.2 240.8 101.9 241.1 C103.6 241.4 105.3 241.8 106.9 242.1 C108.6 242.4 110.3 242.8 112 243.1 C113.7 243.4 115.4 243.7 117.1 243.8 C118.9 244 120.6 244.1 122.3 244 C124.1 244 125.8 243.8 127.5 243.6 C129.2 243.3 130.9 243 132.6 242.6 C134.3 242.2 136 241.7 137.6 241.2 C139.3 240.8 140.9 240.3 142.6 239.8 C144.2 239.3 145.9 238.8 147.5 238.3 C149.1 237.8 150.8 237.3 152.4 236.7 C154 236.1 155.6 235.4 157.1 234.7 C158.7 233.9 160.2 233.1 161.7 232.2 C163.1 231.3 164.5 230.3 165.9 229.3 C167.3 228.3 168.6 227.2 170 226.1 C171.3 225.1 172.6 224 174 223 C175.3 222 176.7 221 178.1 220 C179.4 219 180.9 218.1 182.2 217.1 C183.6 216.1 185.1 215.1 186.4 214 C187.7 212.9 189.1 211.8 190.3 210.6 C191.5 209.4 192.7 208.1 193.8 206.8 C194.9 205.5 195.9 204.1 196.9 202.6 C197.8 201.2 198.8 199.8 199.7 198.3 C200.6 196.9 201.5 195.4 202.4 193.9 C203.3 192.5 204.2 191 205.1 189.5 C205.9 188 206.8 186.5 207.6 185 C208.4 183.5 209.1 181.9 209.8 180.3 C210.4 178.7 210.9 177 211.4 175.4 C211.8 173.7 212.1 172 212.4 170.3 C212.6 168.6 212.8 166.8 212.9 165.1 C213.1 163.4 213.2 161.7 213.4 160 C213.6 158.3 213.7 156.6 213.9 154.9 C214.1 153.3 214.4 151.6 214.6 149.9 C214.8 148.2 215.1 146.5 215.2 144.8 C215.4 143.1 215.5 141.4 215.5 139.7 C215.5 138 215.4 136.3 215.3 134.6 C215.1 132.9 214.9 131.2 214.6 129.5 C214.4 127.8 214 126.1 213.7 124.4 C213.4 122.8 213 121.1 212.7 119.4 C212.4 117.7 212.1 116 211.7 114.3 C211.4 112.7 211 111 210.6 109.3 C210.2 107.6 209.7 105.9 209.1 104.3 C208.5 102.7 207.8 101.1 207 99.5 C206.2 98 205.3 96.5 204.4 95.1 C203.4 93.6 202.3 92.2 201.2 90.9 C200.2 89.5 199 88.2 197.9 86.9 C196.8 85.6 195.7 84.3 194.6 83 C193.5 81.7 192.5 80.3 191.4 79 C190.3 77.7 189.3 76.4 188.1 75.1 C187 73.8 185.8 72.6 184.6 71.4 C183.4 70.2 182.1 69.1 180.8 68 C179.4 66.9 178 65.9 176.6 65 C175.2 64 173.8 63.1 172.4 62.1 C171 61.2 169.5 60.3 168.1 59.3 C166.7 58.4 165.3 57.4 163.9 56.4 C162.5 55.4 161.1 54.4 159.7 53.5 C158.2 52.5 156.8 51.6 155.2 50.8 C153.7 49.9 151.3 48.9 150.5 48.5" fill="none" stroke="#111" stroke-width="0.8" stroke-linecap="round" stroke-linejoin="round"/>
<path d="M148.7 53.7 C147.9 53.4 145.6 52.4 144.1 51.9 C142.5 51.4 140.9 51.1 139.3 50.7 C137.7 50.4 136 50.2 134.4 49.9 C132.8 49.7 131.2 49.4 129.6 49 C128 48.6 126.4 48.1 124.8 47.7 C123.2 47.2 121.5 46.7 119.9 46.3 C118.2 45.9 116.6 45.5 114.9 45.4 C113.2 45.3 111.5 45.3 109.8 45.5 C108.2 45.8 106.5 46.2 104.9 46.7 C103.3 47.1 101.7 47.8 100.1 48.3 C98.5 48.8 96.9 49.4 95.3 49.8 C93.7 50.3 92.2 50.7 90.6 51.1 C89 51.5 87.3 51.9 85.8 52.3 C84.2 52.8 82.6 53.4 81.1 54.1 C79.6 54.7 78.2 55.6 76.8 56.4 C75.4 57.2 74 58.2 72.7 59.1 C71.3 60 70 60.9 68.5 61.7 C67.1 62.5 65.7 63.2 64.2 63.9 C62.7 64.6 61.1 65.2 59.5 65.8 C58 66.5 56.4 67.2 54.9 68 C53.4 68.8 52 69.7 50.7 70.8 C49.4 71.9 48.3 73.1 47.1 74.4 C46 75.6 45.1 77 44.1 78.3 C43.1 79.7 42.1 81.1 41.1 82.4 C40.1 83.7 39.1 85 38.1 86.3 C37 87.6 36 88.9 35 90.2 C34.1 91.6 33.1 93 32.4 94.5 C31.6 96 31 97.5 30.5 99.1 C30 100.7 29.7 102.4 29.3 104 C28.9 105.6 28.6 107.3 28.2 108.8 C27.7 110.4 27.3 112 26.7 113.5 C26.1 115 25.3 116.4 24.6 117.9 C23.9 119.4 23.1 120.9 22.5 122.5 C21.8 124 21.2 125.6 20.8 127.2 C20.3 128.8 20.1 130.4 19.9 132.1 C19.7 133.7 19.7 135.4 19.6 137 C19.6 138.7 19.6 140.4 19.5 142 C19.5 143.7 19.4 145.3 19.3 147 C19.2 148.7 19 150.4 19 152 C19 153.7 19 155.4 19.2 157.1 C19.4 158.7 19.8 160.4 20.3 162 C20.9 163.6 21.6 165.1 22.4 166.6 C23.1 168.1 24 169.6 24.8 171.1 C25.6 172.6 26.4 174 27 175.5 C27.7 177 28.2 178.5 28.7 180.1 C29.3 181.6 29.7 183.2 30.2 184.7 C30.8 186.3 31.3 187.9 32 189.4 C32.7 190.9 33.5 192.3 34.4 193.7 C35.3 195.1 36.3 196.4 37.3 197.7 C38.2 199 39.3 200.3 40.2 201.6 C41.2 203 42.1 204.4 43 205.8 C43.8 207.2 44.7 208.7 45.6 210.1 C46.5 211.5 47.4 213 48.5 214.3 C49.6 215.6 50.8 216.8 52.1 217.8 C53.4 218.9 54.8 219.8 56.3 220.6 C57.8 221.4 59.4 222 61 222.7 C62.5 223.4 64.1 224 65.6 224.7 C67.1 225.4 68.5 226.2 70 226.9 C71.4 227.7 72.8 228.6 74.3 229.4 C75.7 230.1 77.2 230.9 78.7 231.6 C80.2 232.2 81.7 232.8 83.3 233.2 C84.9 233.7 86.5 234 88.1 234.3 C89.7 234.6 91.4 234.9 92.9 235.2 C94.5 235.6 96.1 236 97.7 236.5 C99.2 237 100.8 237.6 102.3 238.2 C103.9 238.8 105.5 239.5 107.1 240 C108.8 240.4 110.4 240.9 112.1 241.1 C113.7 241.3 115.4 241.3 117.1 241.2 C118.8 241.1 120.5 240.8 122.1 240.4 C123.8 240.1 125.4 239.7 127 239.4 C128.7 239 130.3 238.7 131.9 238.4 C133.5 238.1 135.2 237.9 136.8 237.6 C138.4 237.3 140.1 237 141.7 236.5 C143.3 236 144.8 235.5 146.3 234.8 C147.8 234.1 149.3 233.2 150.7 232.3 C152.1 231.5 153.5 230.5 154.9 229.6 C156.3 228.7 157.6 227.9 159.1 227.2 C160.5 226.4 162 225.9 163.6 225.3 C165.1 224.6 166.7 224.2 168.3 223.6 C169.8 222.9 171.4 222.3 172.9 221.5 C174.4 220.8 175.8 219.9 177.1 218.8 C178.5 217.8 179.7 216.7 180.8 215.5 C182 214.3 183.1 213.1 184.3 211.9 C185.4 210.6 186.5 209.4 187.7 208.3 C188.9 207.1 190.1 205.9 191.3 204.7 C192.4 203.5 193.6 202.3 194.6 201 C195.7 199.7 196.6 198.3 197.4 196.8 C198.2 195.4 198.8 193.8 199.4 192.2 C199.9 190.6 200.3 188.9 200.7 187.3 C201.2 185.7 201.6 184 202.1 182.5 C202.6 180.9 203.2 179.4 203.8 178 C204.5 176.5 205.3 175 206 173.6 C206.7 172.1 207.5 170.6 208.2 169.1 C208.8 167.6 209.4 166 209.8 164.4 C210.2 162.8 210.4 161.2 210.7 159.5 C210.9 157.9 211 156.3 211.2 154.6 C211.4 153 211.6 151.4 211.9 149.7 C212.1 148.1 212.5 146.4 212.8 144.8 C213.1 143.1 213.4 141.4 213.6 139.8 C213.7 138.1 213.8 136.4 213.7 134.7 C213.6 133 213.2 131.4 212.8 129.7 C212.3 128.1 211.6 126.5 210.9 125 C210.3 123.4 209.5 121.9 208.8 120.4 C208.2 118.8 207.5 117.3 207 115.8 C206.4 114.2 206 112.7 205.5 111.1 C205 109.5 204.6 107.9 204.1 106.4 C203.5 104.9 202.9 103.3 202.2 101.9 C201.4 100.4 200.6 99 199.7 97.6 C198.8 96.2 197.8 94.9 196.9 93.6 C196 92.2 195 90.9 194.2 89.5 C193.4 88.1 192.6 86.6 191.9 85.1 C191.1 83.6 190.4 82 189.6 80.5 C188.8 79 188 77.5 187 76.2 C186 74.8 184.9 73.5 183.6 72.4 C182.4 71.3 180.9 70.3 179.5 69.4 C178.1 68.5 176.6 67.7 175.1 66.9 C173.7 66.1 172.2 65.3 170.8 64.4 C169.4 63.6 168 62.6 166.6 61.8 C165.2 60.9 163.9 59.9 162.4 59.1 C161 58.3 159.5 57.5 158 56.9 C156.5 56.3 154.9 55.8 153.3 55.4 C151.7 54.9 149.2 54.5 148.4 54.3" fill="none" stroke="#111" stroke-width="0.8" stroke-linecap="round" stroke-linejoin="round"/>
<path d="M112.8 51.5 C112 51.6 109.7 51.9 108.2 52.1 C106.6 52.2 105.1 52.4 103.5 52.5 C102 52.5 100.4 52.3 98.8 52.2 C97.1 52.1 95.5 51.9 93.9 51.9 C92.2 52 90.6 52.1 89 52.5 C87.5 52.9 86 53.6 84.6 54.4 C83.2 55.1 81.9 56.2 80.6 57.2 C79.3 58.1 78.1 59.2 76.7 60 C75.4 60.9 74.1 61.6 72.7 62.4 C71.3 63.1 69.9 63.7 68.5 64.5 C67.2 65.2 65.8 66 64.6 66.9 C63.3 67.9 62.2 69 61.1 70.1 C60 71.2 59 72.4 58 73.5 C56.9 74.6 55.8 75.7 54.6 76.7 C53.3 77.6 52 78.4 50.6 79.2 C49.2 80 47.7 80.7 46.3 81.6 C44.9 82.5 43.5 83.4 42.4 84.5 C41.3 85.6 40.3 86.9 39.5 88.3 C38.6 89.6 38 91.2 37.4 92.6 C36.7 94.1 36.1 95.5 35.4 97 C34.7 98.4 34 99.7 33.2 101.1 C32.5 102.5 31.6 103.8 30.9 105.2 C30.3 106.7 29.6 108.1 29.3 109.7 C28.9 111.2 28.7 112.8 28.6 114.4 C28.4 116 28.6 117.6 28.4 119.2 C28.3 120.8 28.3 122.3 27.9 123.8 C27.6 125.3 27.1 126.7 26.5 128.2 C25.9 129.7 25.1 131.1 24.6 132.6 C24 134.1 23.4 135.6 23.1 137.2 C22.7 138.7 22.6 140.3 22.6 141.9 C22.6 143.4 22.8 145 22.9 146.6 C23.1 148.2 23.2 149.7 23.3 151.3 C23.4 152.9 23.3 154.4 23.3 156 C23.4 157.6 23.3 159.3 23.4 160.8 C23.6 162.4 23.9 164 24.4 165.5 C25 167 25.8 168.4 26.6 169.8 C27.5 171.2 28.6 172.5 29.5 173.8 C30.4 175.1 31.4 176.4 32.1 177.8 C32.8 179.1 33.4 180.5 33.9 182 C34.4 183.4 34.8 185 35.3 186.5 C35.8 187.9 36.3 189.5 37 190.9 C37.6 192.3 38.5 193.6 39.4 194.8 C40.3 196.1 41.4 197.3 42.3 198.5 C43.2 199.7 44.2 201 45 202.3 C45.9 203.6 46.6 205 47.4 206.4 C48.2 207.8 48.9 209.4 49.9 210.7 C50.8 212 51.8 213.3 53 214.3 C54.2 215.3 55.7 216.2 57.1 216.9 C58.6 217.6 60.2 218.1 61.7 218.7 C63.2 219.3 64.8 219.7 66.2 220.4 C67.6 221.1 69.6 222.3 70.3 222.6" fill="none" stroke="#111" stroke-width="0.8" stroke-linecap="round" stroke-linejoin="round"/>
<path d="M100.2 232.9 C101 233 103.3 233.2 104.8 233.5 C106.3 233.9 107.8 234.5 109.3 235 C110.8 235.6 112.4 236.3 113.9 236.8 C115.5 237.2 117.1 237.7 118.7 237.8 C120.3 237.9 121.9 237.7 123.5 237.4 C125 237.1 126.6 236.6 128.1 236.1 C129.7 235.7 131.2 235.2 132.7 234.8 C134.2 234.4 135.8 234.1 137.3 233.8 C138.9 233.5 140.5 233.3 142 232.9 C143.5 232.4 145 231.9 146.4 231.2 C147.8 230.5 149.1 229.5 150.4 228.6 C151.7 227.7 152.9 226.5 154.2 225.7 C155.5 224.8 156.7 223.9 158.1 223.2 C159.5 222.5 161 222.1 162.5 221.6 C164 221.1 165.6 220.8 167.1 220.3 C168.7 219.7 170.2 219.2 171.6 218.4 C173 217.6 174.2 216.6 175.4 215.6 C176.6 214.6 177.7 213.4 178.8 212.2 C179.9 211.1 181 210 182.1 208.9 C183.3 207.8 184.6 206.9 185.7 205.8 C186.9 204.7 188.2 203.7 189.3 202.5 C190.3 201.4 191.3 200.1 192.1 198.7 C192.8 197.3 193.3 195.7 193.8 194.1 C194.3 192.6 194.6 190.9 195 189.3 C195.4 187.8 195.8 186.3 196.5 184.9 C197.1 183.5 197.9 182.2 198.7 180.8 C199.5 179.5 200.5 178.3 201.3 176.9 C202.1 175.6 202.9 174.2 203.5 172.8 C204.1 171.3 204.5 169.8 204.9 168.3 C205.3 166.8 205.5 165.2 205.9 163.7 C206.2 162.2 206.6 160.7 207.1 159.2 C207.5 157.6 208.2 156.2 208.7 154.6 C209.3 153.1 209.9 151.6 210.3 150 C210.6 148.4 210.8 146.8 210.8 145.2 C210.7 143.6 210.3 142 209.8 140.4 C209.4 138.9 208.7 137.3 208.2 135.8 C207.6 134.2 207.1 132.8 206.7 131.2 C206.3 129.7 206.1 128.2 205.9 126.7 C205.7 125.1 205.6 123.6 205.3 122 C205 120.5 204.7 119 204.2 117.5 C203.7 116 203 114.6 202.4 113.2 C201.7 111.8 200.9 110.5 200.3 109 C199.7 107.6 199.1 106.2 198.7 104.7 C198.2 103.2 198 101.6 197.7 100 C197.3 98.4 197.1 96.7 196.6 95.1 C196.1 93.6 195.5 92.1 194.7 90.7 C193.8 89.3 192.7 88.2 191.6 87 C190.4 85.9 189.1 84.9 187.8 83.9 C186.6 82.9 185.4 81.9 184.2 80.8 C183.1 79.7 182 78.5 180.9 77.4 C179.8 76.3 178.8 75.1 177.6 74.1 C176.5 73 175.2 72.1 173.8 71.3 C172.5 70.5 171 69.9 169.5 69.2 C168.1 68.6 166.6 68.1 165.2 67.4 C163.8 66.7 161.9 65.5 161.2 65.1" fill="none" stroke="#111" stroke-width="0.8" stroke-linecap="round" stroke-linejoin="round"/>
<path d="M100.9 57.6 C100.1 57.6 97.8 57.5 96.4 57.7 C94.9 57.9 93.5 58.4 92.1 58.9 C90.7 59.3 89.4 60 88 60.5 C86.5 60.9 85.1 61.3 83.6 61.5 C82.1 61.7 80.4 61.6 78.9 61.8 C77.3 62 75.6 62.1 74.2 62.7 C72.8 63.2 71.4 64 70.3 65 C69.1 66 68.2 67.4 67.2 68.7 C66.2 69.9 65.3 71.3 64.3 72.4 C63.3 73.5 62.2 74.5 61 75.4 C59.9 76.3 58.6 77 57.4 78 C56.3 78.9 55.2 79.9 54.2 81 C53.3 82.2 52.5 83.5 51.7 84.8 C50.9 86 50.3 87.4 49.3 88.5 C48.4 89.6 47.3 90.6 46.1 91.6 C44.9 92.5 43.4 93.2 42.1 94.1 C40.8 95.1 39.4 96 38.4 97.1 C37.3 98.3 36.6 99.6 36 101 C35.4 102.4 35.2 104 34.8 105.5 C34.4 107 34.2 108.6 33.8 110 C33.3 111.4 32.7 112.8 32.1 114.2 C31.6 115.6 30.9 116.9 30.5 118.4 C30.2 119.8 30 121.4 30 122.9 C30 124.4 30.3 126 30.5 127.5 C30.7 129 31 130.5 30.9 132 C30.8 133.5 30.5 134.8 30.1 136.3 C29.6 137.7 28.7 139.1 28.2 140.6 C27.6 142 27 143.5 26.7 145 C26.5 146.5 26.5 148.1 26.6 149.6 C26.8 151.1 27.3 152.5 27.5 154 C27.8 155.5 28 157 28.2 158.5 C28.3 160 28.2 161.5 28.4 163 C28.5 164.6 28.5 166.1 29 167.6 C29.5 169 30.2 170.4 31.1 171.7 C32 173 33.3 174.1 34.4 175.3 C35.4 176.4 36.6 177.5 37.4 178.7 C38.2 180 38.7 181.3 39.2 182.7 C39.7 184.1 40.2 186.3 40.4 187.1" fill="none" stroke="#111" stroke-width="0.8" stroke-linecap="round" stroke-linejoin="round"/>
<path d="M116 233.7 C116.8 233.5 119 232.8 120.5 232.6 C122.1 232.3 123.5 232.2 125.1 232 C126.6 231.9 128.1 232 129.6 231.7 C131.1 231.5 132.6 231.1 134 230.5 C135.4 229.9 136.7 229 138.1 228.2 C139.4 227.4 140.6 226.4 142 225.8 C143.4 225.2 144.7 224.9 146.2 224.6 C147.7 224.4 149.4 224.6 151 224.5 C152.6 224.4 154.3 224.4 155.8 224 C157.3 223.6 158.7 223 160 222.2 C161.3 221.5 162.5 220.4 163.7 219.5 C164.9 218.6 166.1 217.6 167.4 216.8 C168.7 216 170.1 215.3 171.4 214.5 C172.7 213.7 174.2 213 175.3 212 C176.4 211 177.4 209.7 178.2 208.4 C179 207 179.5 205.3 180.1 203.9 C180.7 202.4 181.2 200.9 182 199.6 C182.7 198.3 183.7 197.2 184.8 196.2 C185.8 195.1 187.2 194.3 188.3 193.3 C189.5 192.3 190.7 191.2 191.6 190.1 C192.6 188.9 193.3 187.5 194 186.2 C194.7 184.8 195.1 183.4 195.8 182.1 C196.5 180.7 197.3 179.4 198.2 178.2 C199.1 176.9 200.3 175.7 201.2 174.4 C202 173.1 202.9 171.7 203.4 170.3 C203.9 168.8 204 167.2 204 165.6 C203.9 164 203.4 162.3 203.2 160.7 C203 159.2 202.6 157.6 202.6 156.1 C202.6 154.6 202.8 153.1 203.1 151.7 C203.3 150.2 203.8 148.7 204 147.2 C204.2 145.8 204.3 144.2 204.2 142.8 C204.1 141.3 203.7 139.8 203.5 138.3 C203.3 136.8 202.9 135.4 202.9 133.9 C202.9 132.4 203.1 130.9 203.4 129.3 C203.6 127.7 204.2 126.1 204.3 124.5 C204.5 122.9 204.6 121.2 204.3 119.7 C204 118.2 203.3 116.8 202.5 115.4 C201.8 114.1 200.6 112.8 199.7 111.5 C198.8 110.3 197.9 109 197.2 107.7 C196.5 106.3 196 104.9 195.3 103.6 C194.7 102.2 194.2 100.8 193.3 99.5 C192.5 98.2 191.5 97.1 190.4 96 C189.3 94.9 187.9 94.1 186.9 93 C185.8 92 184.7 91 183.9 89.7 C183 88.5 182.5 87.1 181.9 85.6 C181.3 84.2 180.9 82.4 180.2 81 C179.5 79.6 178.7 78.2 177.7 77 C176.7 75.9 174.7 74.6 174.1 74.1" fill="none" stroke="#111" stroke-width="0.8" stroke-linecap="round" stroke-linejoin="round"/>
<path d="M74.9 72.3 C74.3 72.6 72.7 73.8 71.5 74.4 C70.2 75.1 68.8 75.4 67.6 76.1 C66.4 76.8 65.2 77.5 64.2 78.4 C63.2 79.3 62.4 80.5 61.4 81.5 C60.4 82.4 59.4 83.4 58.2 84.2 C57 84.9 55.6 85.4 54.2 86.1 C52.9 86.7 51.3 87.2 50.1 88.1 C49 89 48 90.1 47.3 91.3 C46.6 92.6 46.3 94.2 45.9 95.6 C45.5 97.1 45.3 98.6 44.8 99.9 C44.3 101.2 43.6 102.4 42.9 103.6 C42.2 104.8 41.3 105.9 40.7 107.2 C40.2 108.4 39.8 109.8 39.5 111.2 C39.3 112.5 39.4 114.1 39.1 115.4 C38.9 116.8 38.7 118.1 38.1 119.4 C37.5 120.6 36.4 121.7 35.5 122.9 C34.6 124.1 33.4 125.3 32.6 126.5 C31.9 127.8 31.4 129.2 31.2 130.6 C31 132 31.3 133.5 31.4 134.9 C31.5 136.4 31.8 137.8 31.8 139.2 C31.8 140.6 31.5 142 31.5 143.4 C31.4 144.8 31.1 146.2 31.3 147.6 C31.5 149 32 150.4 32.6 151.7 C33.2 153.1 34.3 154.3 34.9 155.6 C35.6 156.9 36.2 158.1 36.5 159.5 C36.8 160.8 36.5 162.2 36.4 163.7 C36.4 165.1 35.9 166.7 35.9 168.1 C36 169.5 36.5 171.6 36.6 172.3" fill="none" stroke="#111" stroke-width="0.8" stroke-linecap="round" stroke-linejoin="round"/>
<text transform="translate(90.5 55.1) rotate(-15)" font-family="Liberation Sans, sans-serif" font-weight="bold" font-size="6" text-anchor="middle" y="2.2" fill="#000">20</text>
<text transform="translate(22.6 112.8) rotate(-75)" font-family="Liberation Sans, sans-serif" font-weight="bold" font-size="6" text-anchor="middle" y="2.2" fill="#000">10</text>
<text transform="translate(75.8 109.4) rotate(20)" font-family="Liberation Sans, sans-serif" font-weight="bold" font-size="6" text-anchor="middle" y="2.2" fill="#000">15</text>
<text transform="translate(46.4 149.4) rotate(0)" font-family="Liberation Sans, sans-serif" font-weight="bold" font-size="6" text-anchor="middle" y="2.2" fill="#000">20</text>
<text transform="translate(102.9 93.5) rotate(0)" font-family="Liberation Sans, sans-serif" font-weight="bold" font-size="6" text-anchor="middle" y="2.2" fill="#000">15</text>
<text transform="translate(145.2 51.7) rotate(90)" font-family="Liberation Sans, sans-serif" font-weight="bold" font-size="6" text-anchor="middle" y="2.2" fill="#000">15</text>
<text transform="translate(148.6 66.4) rotate(60)" font-family="Liberation Sans, sans-serif" font-weight="bold" font-size="6" text-anchor="middle" y="2.2" fill="#000">20</text>
<text transform="translate(164.5 143.3) rotate(60)" font-family="Liberation Sans, sans-serif" font-weight="bold" font-size="6" text-anchor="middle" y="2.2" fill="#000">15</text>
<text transform="translate(104.5 93.5) rotate(0)" font-family="Liberation Sans, sans-serif" font-weight="bold" font-size="6" text-anchor="middle" y="2.2" fill="#000">15</text>
<text transform="translate(143 190) rotate(0)" font-family="Liberation Sans, sans-serif" font-weight="bold" font-size="6" text-anchor="middle" y="2.2" fill="#000">15</text>
<text transform="translate(155.4 229.5) rotate(-20)" font-family="Liberation Sans, sans-serif" font-weight="bold" font-size="6" text-anchor="middle" y="2.2" fill="#000">10</text>
<text transform="translate(170.1 228.4) rotate(-30)" font-family="Liberation Sans, sans-serif" font-weight="bold" font-size="6" text-anchor="middle" y="2.2" fill="#000">5</text>
<text transform="translate(184.8 174.1) rotate(0)" font-family="Liberation Sans, sans-serif" font-weight="bold" font-size="6" text-anchor="middle" y="2.2" fill="#000">20</text>
<text transform="translate(184.8 161.7) rotate(0)" font-family="Liberation Sans, sans-serif" font-weight="bold" font-size="6" text-anchor="middle" y="2.2" fill="#000">20</text>
<text transform="translate(180.3 203.5) rotate(60)" font-family="Liberation Sans, sans-serif" font-weight="bold" font-size="6" text-anchor="middle" y="2.2" fill="#000">15</text>
<text transform="translate(210.4 171.9) rotate(90)" font-family="Liberation Sans, sans-serif" font-weight="bold" font-size="6" text-anchor="middle" y="2.2" fill="#000">0</text>
<text transform="translate(131.7 228.4) rotate(60)" font-family="Liberation Sans, sans-serif" font-weight="bold" font-size="6" text-anchor="middle" y="2.2" fill="#000">20</text>
<text transform="translate(139.6 232.9) rotate(0)" font-family="Liberation Sans, sans-serif" font-weight="bold" font-size="6" text-anchor="middle" y="2.2" fill="#000">15</text>
<text transform="translate(119.2 141.3) rotate(0)" font-family="Liberation Sans, sans-serif" font-weight="bold" font-size="6" text-anchor="middle" y="2.2" fill="#000">10</text>
<text transform="translate(46.4 145.8) rotate(0)" font-family="Liberation Sans, sans-serif" font-weight="bold" font-size="6" text-anchor="middle" y="2.2" fill="#000">20</text>
<text transform="translate(96.2 227.3) rotate(0)" font-family="Liberation Sans, sans-serif" font-weight="bold" font-size="6" text-anchor="middle" y="2.2" fill="#000">20</text>
<text transform="translate(67.9 157.1) rotate(70)" font-family="Liberation Sans, sans-serif" font-weight="bold" font-size="6" text-anchor="middle" y="2.2" fill="#000">15</text>
<text transform="translate(105.2 170.7) rotate(70)" font-family="Liberation Sans, sans-serif" font-weight="bold" font-size="6" text-anchor="middle" y="2.2" fill="#000">15</text>
<text transform="translate(105.2 197.9) rotate(80)" font-family="Liberation Sans, sans-serif" font-weight="bold" font-size="6" text-anchor="middle" y="2.2" fill="#000">30</text>
<text transform="translate(104.1 211.4) rotate(80)" font-family="Liberation Sans, sans-serif" font-weight="bold" font-size="6" text-anchor="middle" y="2.2" fill="#000">25</text>
<text transform="translate(65.6 222.8) rotate(-60)" font-family="Liberation Sans, sans-serif" font-weight="bold" font-size="6" text-anchor="middle" y="2.2" fill="#000">5</text>
<text transform="translate(52 186.6) rotate(0)" font-family="Liberation Sans, sans-serif" font-weight="bold" font-size="6" text-anchor="middle" y="2.2" fill="#000">25</text>
<path d="M109.6 149.8 L110.3 150.4 L111 150.9 L111.8 151.4 L112.6 151.7 L113.5 152 L114.3 152.2 L115.2 152.4 L116.1 152.4 L117 152.3 L117.9 152.2 L118.8 152 L119.6 151.6 L120.4 151.2 L121.2 150.8 L121.9 150.2 L122.5 149.6 L123.1 148.9 L123.6 148.2 L124.1 147.4 L124.4 146.6 L124.7 145.7" fill="none" stroke="#111" stroke-width="1.1" stroke-linecap="round"/>
<path d="M105.7 155.7 L107 156.6 L108.4 157.5 L109.8 158.2 L111.4 158.7 L112.9 159.1 L114.5 159.3 L116.1 159.4 L117.8 159.3 L119.4 159 L120.9 158.6 L122.4 158.1 L123.9 157.3 L125.2 156.5 L126.5 155.5 L127.7 154.3 L128.7 153.1 L129.6 151.8 L130.4 150.4 L131 148.9" fill="none" stroke="#111" stroke-width="1.1" stroke-linecap="round"/>
<path d="M113.9 167.3 L116.4 167.4 L118.8 167.2 L121.3 166.8 L123.7 166.1 L126 165.2 L128.2 164.1 L130.2 162.7 L132.1 161.2 L133.9 159.4 L135.4 157.5 L136.8 155.4" fill="none" stroke="#111" stroke-width="1.1" stroke-linecap="round"/>
<path d="M118.7 174.3 L121.7 173.9 L124.7 173.2 L127.6 172.2 L130.3 170.9 L132.9 169.4 L135.4 167.6 L137.7 165.6 L139.7 163.3" fill="none" stroke="#111" stroke-width="1.1" stroke-linecap="round"/>
<path d="M100.6 125 L99 126.4 L97.6 128 L96.3 129.6" fill="none" stroke="#111" stroke-width="1.2" stroke-linecap="round"/>
<path d="M107 127.8 L105.7 128.7 L104.4 129.6" fill="none" stroke="#111" stroke-width="1.2" stroke-linecap="round"/>
<path d="M95 179.8 L98.8 181.7 L102.8 183.3 L106.9 184.4 L111.1 185.1 L115.4 185.4 L119.7 185.2 L123.9 184.7 L128 183.6 L132.1 182.2 L135.9 180.4 L139.6 178.2 L143 175.6" fill="none" stroke="#111" stroke-width="0.9" stroke-linecap="round" stroke-dasharray="0.1 2.3"/>
<path d="M92.5 187.5 L97.1 189.7 L101.9 191.4 L106.8 192.5 L111.8 193.2 L116.9 193.4 L121.9 193 L126.9 192.2 L131.8 190.8 L136.5 189 L141 186.7" fill="none" stroke="#111" stroke-width="0.9" stroke-linecap="round" stroke-dasharray="0.1 2.3"/>
<path d="M78.7 187.8 L83.1 191.2 L87.8 194.1 L92.7 196.5 L97.9 198.5 L103.2 200 L108.7 200.9 L114.2 201.4 L119.7 201.3 L125.2 200.7 L130.6 199.5 L135.8 197.9" fill="none" stroke="#111" stroke-width="0.9" stroke-linecap="round" stroke-dasharray="0.1 2.3"/>
<path d="M69.3 190.1 L74.3 194.6 L79.7 198.5 L85.5 201.9 L91.6 204.7 L98 206.9 L104.5 208.4" fill="none" stroke="#111" stroke-width="0.9" stroke-linecap="round" stroke-dasharray="0.1 2.3"/>
<path d="M61 192.9 L66.1 198 L71.7 202.7 L77.7 206.7 L84 210.1 L90.7 212.9" fill="none" stroke="#111" stroke-width="0.9" stroke-linecap="round" stroke-dasharray="0.1 2.3"/>
<path d="M103.1 95.1 L98.9 96.4 L94.9 98.1 L91 100.1" fill="none" stroke="#111" stroke-width="0.9" stroke-linecap="round" stroke-dasharray="0.1 2.3"/>
<path d="M101 87.4 L95.5 89.1 L90.3 91.4 L85.3 94.2" fill="none" stroke="#111" stroke-width="0.9" stroke-linecap="round" stroke-dasharray="0.1 2.3"/>
<path d="M137.2 201.7 L142.2 199.6 L147 197.1 L151.6 194.2 L155.9 190.9 L159.8 187.2" fill="none" stroke="#111" stroke-width="0.9" stroke-linecap="round" stroke-dasharray="0.1 2.3"/>
<path d="M194.9 114.7 L192.1 107.9 L188.7 101.4 L184.8 95.2" fill="none" stroke="#111" stroke-width="0.9" stroke-linecap="round" stroke-dasharray="0.1 2.3"/>
<path d="M201.6 115.6 L199 108.7 L196 102.1 L192.3 95.7" fill="none" stroke="#111" stroke-width="0.9" stroke-linecap="round" stroke-dasharray="0.1 2.3"/>
<path d="M34.2 116.8 L37 109.3 L40.5 102.1 L44.7 95.3 L49.5 88.9 L54.8 82.9 L60.7 77.5" fill="none" stroke="#111" stroke-width="0.9" stroke-linecap="round" stroke-dasharray="0.1 2.3"/>
<path d="M37.2 129.5 L39 121.6 L41.7 113.9 L45 106.5 L49.2 99.4 L54 92.9 L59.4 86.8" fill="none" stroke="#111" stroke-width="0.9" stroke-linecap="round" stroke-dasharray="0.1 2.3"/>
<path d="M39.8 187.4 L36.2 180.6 L33.3 173.5 L31 166.2 L29.3 158.7 L28.3 151.1" fill="none" stroke="#111" stroke-width="0.9" stroke-linecap="round" stroke-dasharray="0.1 2.3"/>
<path d="M170 207.7 L175.4 202.8 L180.3 197.4 L184.8 191.6 L188.7 185.4" fill="none" stroke="#111" stroke-width="0.9" stroke-linecap="round" stroke-dasharray="0.1 2.3"/>
<path d="M170.4 168.8 L172.4 163.9 L174 158.9 L175.1 153.8 L175.8 148.6" fill="none" stroke="#111" stroke-width="0.9" stroke-linecap="round" stroke-dasharray="0.1 2.3"/>
<polygon points="67.8,167.8 82.6,162.6 100,173.9 94.8,192.2 80,216.5 74.8,217.4 70.4,214.7 61.7,220 51.3,217.8 43.6,217.8 33.3,209.6 38.3,204.3 48.7,202.6 57.4,188.7 69.6,172.2" fill="#fff"/>
<g stroke="#d0d0d0" stroke-width="0.3" opacity="0.55"><line x1="116" y1="145.5" x2="116" y2="246.8"/><line x1="117" y1="145.2" x2="167.7" y2="232.9"/><line x1="117.8" y1="144.4" x2="205.5" y2="195.1"/><line x1="118.1" y1="143.4" x2="219.4" y2="143.4"/><line x1="117.8" y1="142.4" x2="205.5" y2="91.7"/><line x1="117" y1="141.6" x2="167.7" y2="53.9"/><line x1="116" y1="141.3" x2="116" y2="40"/><line x1="115" y1="141.6" x2="64.3" y2="53.9"/><line x1="114.2" y1="142.4" x2="26.5" y2="91.7"/><line x1="113.9" y1="143.4" x2="12.6" y2="143.4"/><line x1="114.2" y1="144.4" x2="26.5" y2="195.1"/><line x1="115" y1="145.2" x2="64.3" y2="232.9"/><circle cx="116" cy="143.4" r="38.6" fill="none"/><circle cx="116" cy="143.4" r="77.1" fill="none"/></g>
</g>
<circle cx="116" cy="143.4" r="103.4" fill="none" stroke="#111" stroke-width="1.5"/>
<rect x="226" y="39.6" width="13.5" height="207.4" fill="#770522"/>
<rect x="226" y="48.2" width="13.5" height="198.8" fill="#960f26"/>
<rect x="226" y="56.9" width="13.5" height="190.1" fill="#b31b2c"/>
<rect x="226" y="65.5" width="13.5" height="181.5" fill="#c2393b"/>
<rect x="226" y="74.2" width="13.5" height="172.8" fill="#d25749"/>
<rect x="226" y="82.8" width="13.5" height="164.2" fill="#df745c"/>
<rect x="226" y="91.5" width="13.5" height="155.5" fill="#eb9173"/>
<rect x="226" y="100.1" width="13.5" height="146.9" fill="#f5ac8b"/>
<rect x="226" y="108.7" width="13.5" height="138.3" fill="#f9c2a7"/>
<rect x="226" y="117.4" width="13.5" height="129.6" fill="#fdd9c4"/>
<rect x="226" y="126" width="13.5" height="121" fill="#fbe6d9"/>
<rect x="226" y="134.7" width="13.5" height="112.3" fill="#f8f1ed"/>
<rect x="226" y="143.3" width="13.5" height="103.7" fill="#eff3f6"/>
<rect x="226" y="151.9" width="13.5" height="95.1" fill="#dfecf3"/>
<rect x="226" y="160.6" width="13.5" height="86.4" fill="#cee4ef"/>
<rect x="226" y="169.2" width="13.5" height="77.8" fill="#b4d6e8"/>
<rect x="226" y="177.9" width="13.5" height="69.1" fill="#9ac9e0"/>
<rect x="226" y="186.5" width="13.5" height="60.5" fill="#7bb6d6"/>
<rect x="226" y="195.2" width="13.5" height="51.8" fill="#5aa2cb"/>
<rect x="226" y="203.8" width="13.5" height="43.2" fill="#3f8dc0"/>
<rect x="226" y="212.4" width="13.5" height="34.6" fill="#317bb7"/>
<rect x="226" y="221.1" width="13.5" height="25.9" fill="#2268ad"/>
<rect x="226" y="229.7" width="13.5" height="17.3" fill="#165290"/>
<rect x="226" y="238.4" width="13.5" height="8.6" fill="#0b3b71"/>
<rect x="226" y="39.6" width="13.5" height="207.4" fill="none" stroke="#999" stroke-width="0.4"/>
<g font-family="Liberation Sans, sans-serif" font-size="6.8" fill="#222">
<line x1="238" y1="39.6" x2="239.5" y2="39.6" stroke="#444" stroke-width="0.4"/>
<text x="242.3" y="42.4">6</text>
<line x1="238" y1="74.2" x2="239.5" y2="74.2" stroke="#444" stroke-width="0.4"/>
<text x="242.3" y="77">4</text>
<line x1="238" y1="108.7" x2="239.5" y2="108.7" stroke="#444" stroke-width="0.4"/>
<text x="242.3" y="111.5">2</text>
<line x1="238" y1="143.3" x2="239.5" y2="143.3" stroke="#444" stroke-width="0.4"/>
<text x="242.3" y="146.1">0</text>
<line x1="238" y1="177.9" x2="239.5" y2="177.9" stroke="#444" stroke-width="0.4"/>
<text x="242.3" y="180.7">-2</text>
<line x1="238" y1="212.4" x2="239.5" y2="212.4" stroke="#444" stroke-width="0.4"/>
<text x="242.3" y="215.2">-4</text>
<line x1="238" y1="247" x2="239.5" y2="247" stroke="#444" stroke-width="0.4"/>
<text x="242.3" y="249.8">-6</text>
</g>
<!-- panel b -->
<g font-family="Liberation Sans, sans-serif" font-size="7.6" fill="#333" text-anchor="middle">
<text transform="translate(427.7 37.4) rotate(0)" y="2.7">180<tspan dy="-2.2" font-size="5">°</tspan><tspan dy="2.2"> </tspan>E</text>
<text transform="translate(480.3 49.8) rotate(30)" y="2.7">150<tspan dy="-2.2" font-size="5">°</tspan><tspan dy="2.2"> </tspan>E</text>
<text transform="translate(519.9 87.8) rotate(60)" y="2.7">120<tspan dy="-2.2" font-size="5">°</tspan><tspan dy="2.2"> </tspan>E</text>
<text transform="translate(535.1 141) rotate(-90)" y="2.7">90<tspan dy="-2.2" font-size="5">°</tspan><tspan dy="2.2"> </tspan>E</text>
<text transform="translate(520.8 194.8) rotate(-60)" y="2.7">60<tspan dy="-2.2" font-size="5">°</tspan><tspan dy="2.2"> </tspan>E</text>
<text transform="translate(481.4 234.1) rotate(-30)" y="2.7">30<tspan dy="-2.2" font-size="5">°</tspan><tspan dy="2.2"> </tspan>E</text>
<text transform="translate(427.7 249) rotate(0)" y="2.7">0</text>
<text transform="translate(374.4 233.2) rotate(30)" y="2.7">30<tspan dy="-2.2" font-size="5">°</tspan><tspan dy="2.2"> </tspan>W</text>
<text transform="translate(333.1 195.6) rotate(60)" y="2.7">60<tspan dy="-2.2" font-size="5">°</tspan><tspan dy="2.2"> </tspan>W</text>
<text transform="translate(320 141) rotate(90)" y="2.7">90<tspan dy="-2.2" font-size="5">°</tspan><tspan dy="2.2"> </tspan>W</text>
<text transform="translate(337.2 88.8) rotate(300)" y="2.7">120<tspan dy="-2.2" font-size="5">°</tspan><tspan dy="2.2"> </tspan>W</text>
<text transform="translate(376.1 51.5) rotate(330)" y="2.7">150<tspan dy="-2.2" font-size="5">°</tspan><tspan dy="2.2"> </tspan>W</text>
</g>
<clipPath id="cpb"><circle cx="427.7" cy="141" r="102.6"/></clipPath>
<g clip-path="url(#cpb)">
<rect x="323.1" y="36.4" width="209.2" height="209.2" fill="#eff3f6"/>
<g filter="url(#blb)">
<polygon points="368,78 415,66 425,52 470,58 480,80 440,75 415,95 400,102 378,104" fill="#b4d6e8"/>
<polygon points="383,100 420,110 430,140 440,160 458,170 440,182 420,162 405,142 378,122" fill="#b4d6e8"/>
<polygon points="400,165 422,168 428,200 412,216 398,238 372,228 395,205" fill="#b4d6e8"/>
<polygon points="478,100 512,108 518,160 508,192 488,188 484,150" fill="#b4d6e8"/>
<path d="M400 238 L440 238 L470 226 L490 210" fill="none" stroke="#cee4ef" stroke-width="8" stroke-linecap="round" stroke-linejoin="round"/>
<polygon points="422,195 440,195 440,222 424,226" fill="#cee4ef"/>
<polygon points="452,198 480,196 478,222 455,222" fill="#cee4ef"/>
<polygon points="336,160 372,150 380,190 350,200 335,185" fill="#cee4ef"/>
<polygon points="468,55 486,60 486,92 478,102 470,80" fill="#cee4ef"/>
<polygon points="418,78 440,75 462,80 474,108 462,128 436,133 420,118" fill="#fbe6d9"/>
<path d="M352 75 L372 60 L395 50" fill="none" stroke="#f9c2a7" stroke-width="10" stroke-linecap="round" stroke-linejoin="round"/>
<polygon points="333,135 350,125 366,138 366,162 340,168 328,150" fill="#f9c2a7"/>
<ellipse cx="344" cy="186" rx="10" ry="8" transform="rotate(0 344 186)" fill="#f9c2a7"/>
<ellipse cx="437" cy="177" rx="7" ry="9" transform="rotate(0 437 177)" fill="#f9c2a7"/>
<ellipse cx="424" cy="222" rx="8" ry="7" transform="rotate(0 424 222)" fill="#f9c2a7"/>
<ellipse cx="412" cy="226" rx="6" ry="7" transform="rotate(0 412 226)" fill="#f9c2a7"/>
<ellipse cx="460" cy="200" rx="7" ry="7" transform="rotate(0 460 200)" fill="#fdd9c4"/>
<path d="M524 120 L527 150 L520 180" fill="none" stroke="#fdd9c4" stroke-width="6" stroke-linecap="round" stroke-linejoin="round"/>
<polygon points="420,82 432,80 436,125 424,128" fill="#f9c2a7"/>
<ellipse cx="408" cy="77" rx="6.5" ry="18.2" transform="rotate(5 408 77)" fill="#9ac9e0"/>
<ellipse cx="408" cy="77" rx="2.7" ry="7.6" transform="rotate(5 408 77)" fill="#5aa2cb"/>
<ellipse cx="384" cy="86" rx="6" ry="5" transform="rotate(0 384 86)" fill="#7bb6d6"/>
<path d="M430 52 L445 58 L456 63" fill="none" stroke="#b4d6e8" stroke-width="11.7" stroke-linecap="round" stroke-linejoin="round"/>
<path d="M430 52 L445 58 L456 63" fill="none" stroke="#7bb6d6" stroke-width="4.9" stroke-linecap="round" stroke-linejoin="round"/>
<ellipse cx="444" cy="102" rx="9.1" ry="7.8" transform="rotate(0 444 102)" fill="#b4d6e8"/>
<ellipse cx="444" cy="102" rx="3.8" ry="3.3" transform="rotate(0 444 102)" fill="#7bb6d6"/>
<ellipse cx="403" cy="120" rx="23.4" ry="13" transform="rotate(33 403 120)" fill="#9ac9e0"/>
<ellipse cx="403" cy="120" rx="20" ry="11.1" transform="rotate(33 403 120)" fill="#5aa2cb"/>
<ellipse cx="403" cy="120" rx="16.6" ry="9.2" transform="rotate(33 403 120)" fill="#317bb7"/>
<ellipse cx="403" cy="120" rx="13.2" ry="7.3" transform="rotate(33 403 120)" fill="#165290"/>
<ellipse cx="403" cy="120" rx="9.8" ry="5.5" transform="rotate(33 403 120)" fill="#0b3b71"/>
<ellipse cx="368" cy="165" rx="15.6" ry="15.6" transform="rotate(0 368 165)" fill="#7bb6d6"/>
<ellipse cx="368" cy="165" rx="12.6" ry="12.6" transform="rotate(0 368 165)" fill="#3f8dc0"/>
<ellipse cx="368" cy="165" rx="9.6" ry="9.6" transform="rotate(0 368 165)" fill="#2268ad"/>
<ellipse cx="368" cy="165" rx="6.6" ry="6.6" transform="rotate(0 368 165)" fill="#0b3b71"/>
<ellipse cx="341" cy="172" rx="10" ry="4" transform="rotate(5 341 172)" fill="#7bb6d6"/>
<ellipse cx="362" cy="184" rx="6" ry="5" transform="rotate(0 362 184)" fill="#7bb6d6"/>
<path d="M413 188 L415 205 L406 220" fill="none" stroke="#9ac9e0" stroke-width="16.9" stroke-linecap="round" stroke-linejoin="round"/>
<path d="M413 188 L415 205 L406 220" fill="none" stroke="#3f8dc0" stroke-width="12" stroke-linecap="round" stroke-linejoin="round"/>
<path d="M413 188 L415 205 L406 220" fill="none" stroke="#2268ad" stroke-width="7.1" stroke-linecap="round" stroke-linejoin="round"/>
<ellipse cx="386" cy="225" rx="13" ry="10.4" transform="rotate(-20 386 225)" fill="#7bb6d6"/>
<ellipse cx="386" cy="225" rx="9.2" ry="7.4" transform="rotate(-20 386 225)" fill="#3f8dc0"/>
<ellipse cx="386" cy="225" rx="5.5" ry="4.4" transform="rotate(-20 386 225)" fill="#2268ad"/>
<ellipse cx="501" cy="158" rx="10" ry="24" transform="rotate(10 501 158)" fill="#5aa2cb"/>
<ellipse cx="502" cy="156" rx="7.8" ry="18.2" transform="rotate(10 502 156)" fill="#3f8dc0"/>
<ellipse cx="502" cy="156" rx="3.3" ry="7.6" transform="rotate(10 502 156)" fill="#2268ad"/>
<ellipse cx="492" cy="119" rx="13" ry="15.6" transform="rotate(0 492 119)" fill="#9ac9e0"/>
<ellipse cx="492" cy="119" rx="9.2" ry="11.1" transform="rotate(0 492 119)" fill="#5aa2cb"/>
<ellipse cx="492" cy="119" rx="5.5" ry="6.6" transform="rotate(0 492 119)" fill="#317bb7"/>
<ellipse cx="446" cy="165" rx="13" ry="7.8" transform="rotate(20 446 165)" fill="#b4d6e8"/>
<ellipse cx="446" cy="165" rx="5.5" ry="3.3" transform="rotate(20 446 165)" fill="#7bb6d6"/>
<ellipse cx="421" cy="154" rx="6" ry="6" transform="rotate(0 421 154)" fill="#9ac9e0"/>
<ellipse cx="467" cy="211" rx="7" ry="5" transform="rotate(0 467 211)" fill="#9ac9e0"/>
<ellipse cx="471" cy="134" rx="6" ry="5" transform="rotate(0 471 134)" fill="#b4d6e8"/>
<ellipse cx="430" cy="208" rx="5" ry="10" transform="rotate(0 430 208)" fill="#b4d6e8"/>
<ellipse cx="423.6" cy="101" rx="9.1" ry="16.9" transform="rotate(0 423.6 101)" fill="#f9c2a7"/>
<ellipse cx="423.6" cy="101" rx="7.3" ry="13.6" transform="rotate(0 423.6 101)" fill="#eb9173"/>
<ellipse cx="423.6" cy="101" rx="5.6" ry="10.4" transform="rotate(0 423.6 101)" fill="#c2393b"/>
<ellipse cx="423.6" cy="101" rx="3.8" ry="7.1" transform="rotate(0 423.6 101)" fill="#960f26"/>
<ellipse cx="453" cy="118" rx="23.4" ry="10.4" transform="rotate(-30 453 118)" fill="#f9c2a7"/>
<ellipse cx="453" cy="118" rx="16.6" ry="7.4" transform="rotate(-30 453 118)" fill="#eb9173"/>
<ellipse cx="453" cy="118" rx="9.8" ry="4.4" transform="rotate(-30 453 118)" fill="#d25749"/>
<ellipse cx="494" cy="79" rx="16.9" ry="10.4" transform="rotate(35 494 79)" fill="#f9c2a7"/>
<ellipse cx="494" cy="79" rx="13.6" ry="8.4" transform="rotate(35 494 79)" fill="#eb9173"/>
<ellipse cx="494" cy="79" rx="10.4" ry="6.4" transform="rotate(35 494 79)" fill="#d25749"/>
<ellipse cx="494" cy="79" rx="7.1" ry="4.4" transform="rotate(35 494 79)" fill="#b31b2c"/>
<ellipse cx="499" cy="103" rx="4" ry="5" transform="rotate(0 499 103)" fill="#df745c"/>
<ellipse cx="376" cy="62" rx="5" ry="4" transform="rotate(0 376 62)" fill="#df745c"/>
<ellipse cx="354" cy="113" rx="4" ry="5" transform="rotate(0 354 113)" fill="#df745c"/>
<ellipse cx="354" cy="153" rx="15.6" ry="14.3" transform="rotate(0 354 153)" fill="#f5ac8b"/>
<ellipse cx="354" cy="153" rx="11.1" ry="10.2" transform="rotate(0 354 153)" fill="#df745c"/>
<ellipse cx="354" cy="153" rx="6.6" ry="6" transform="rotate(0 354 153)" fill="#d25749"/>
<ellipse cx="345" cy="131" rx="6" ry="6" transform="rotate(0 345 131)" fill="#df745c"/>
<ellipse cx="388" cy="143" rx="11.7" ry="9.1" transform="rotate(0 388 143)" fill="#f9c2a7"/>
<ellipse cx="388" cy="143" rx="8.3" ry="6.5" transform="rotate(0 388 143)" fill="#df745c"/>
<ellipse cx="388" cy="143" rx="4.9" ry="3.8" transform="rotate(0 388 143)" fill="#c2393b"/>
<path d="M469 166 L489 184" fill="none" stroke="#f9c2a7" stroke-width="11.7" stroke-linecap="round" stroke-linejoin="round"/>
<path d="M469 166 L489 184" fill="none" stroke="#df745c" stroke-width="8.3" stroke-linecap="round" stroke-linejoin="round"/>
<path d="M469 166 L489 184" fill="none" stroke="#c2393b" stroke-width="4.9" stroke-linecap="round" stroke-linejoin="round"/>
<ellipse cx="456" cy="192" rx="7.8" ry="6.5" transform="rotate(30 456 192)" fill="#f9c2a7"/>
<ellipse cx="456" cy="192" rx="3.3" ry="2.7" transform="rotate(30 456 192)" fill="#d25749"/>
<ellipse cx="487" cy="193" rx="5" ry="5" transform="rotate(0 487 193)" fill="#df745c"/>
</g>
<g stroke="#d0d0d0" stroke-width="0.3" opacity="0.55"><line x1="427.7" y1="143.1" x2="427.7" y2="243.6"/><line x1="428.7" y1="142.8" x2="479" y2="229.9"/><line x1="429.5" y1="142" x2="516.6" y2="192.3"/><line x1="429.8" y1="141" x2="530.3" y2="141"/><line x1="429.5" y1="140" x2="516.6" y2="89.7"/><line x1="428.7" y1="139.2" x2="479" y2="52.1"/><line x1="427.7" y1="138.9" x2="427.7" y2="38.4"/><line x1="426.7" y1="139.2" x2="376.4" y2="52.1"/><line x1="425.9" y1="140" x2="338.8" y2="89.7"/><line x1="425.6" y1="141" x2="325.1" y2="141"/><line x1="425.9" y1="142" x2="338.8" y2="192.3"/><line x1="426.7" y1="142.8" x2="376.4" y2="229.9"/><circle cx="427.7" cy="141" r="38.3" fill="none"/><circle cx="427.7" cy="141" r="76.5" fill="none"/></g>
<g font-family="Liberation Sans, sans-serif" font-size="7.8" fill="#444" text-anchor="end">
<text x="424.7" y="143.8">90<tspan dy="-2.2" font-size="5">°</tspan><tspan dy="2.2"> N</tspan></text>
<text x="424.7" y="105.5">80<tspan dy="-2.2" font-size="5">°</tspan><tspan dy="2.2"> N</tspan></text>
<text x="424.7" y="67.3">70<tspan dy="-2.2" font-size="5">°</tspan><tspan dy="2.2"> N</tspan></text>
</g>
<use href="#coast" transform="translate(427.7 141) scale(102.6)"/>
<path d="M445.1 74.8 C443.8 75.5 440 78.8 437.2 79.3 C434.3 79.8 430.6 77.3 428.1 77.5 C425.7 77.7 423.9 78.2 422.5 80.4 C421 82.6 420.3 87.4 419.5 90.6 C418.8 93.8 418.2 98.2 417.9 99.7" fill="none" stroke="#111" stroke-width="1" stroke-linecap="round" stroke-linejoin="round"/>
<path d="M371.6 80.4 C373.4 79.8 379.1 77.7 382.9 76.6 C386.6 75.5 391 74.1 394.2 73.6 C397.4 73.2 400.6 71.9 402.1 73.6 C403.6 75.3 403.4 80.2 403.2 83.8 C403 87.4 401.7 92.1 401 95.1 C400.2 98.2 400.2 101.2 398.7 101.9 C397.2 102.7 394.2 100.6 391.9 99.7 C389.7 98.7 387.4 96.6 385.1 96.3 C382.9 95.9 380.6 96.5 378.3 97.4 C376.1 98.3 373.6 100 371.6 101.9 C369.5 103.8 366.8 107.6 365.9 108.7" fill="none" stroke="#111" stroke-width="1" stroke-linecap="round" stroke-linejoin="round"/>
<path d="M387.4 133.6 C388.5 133.2 391.9 131 394.2 131.3 C396.4 131.7 398.3 134 401 135.9 C403.6 137.7 407 141.9 410 142.6 C413 143.4 416.8 140 419.1 140.4 C421.3 140.8 424.4 143.6 423.6 144.9 C422.8 146.2 416.1 147.7 414.5 148.3" fill="none" stroke="#111" stroke-width="1" stroke-linecap="round" stroke-linejoin="round"/>
<path d="M326.3 155.1 C327.1 149.6 328.8 131.9 330.8 122.3 C332.9 112.7 335.4 104.6 338.8 97.4 C342.1 90.2 346.7 84.8 351.2 79.3 C355.7 73.8 360.6 68.9 365.9 64.6 C371.2 60.3 377 56.1 382.9 53.3 C388.7 50.5 394.6 48.9 401 47.6 C407.4 46.3 417.9 45.7 421.3 45.4" fill="none" stroke="#111" stroke-width="1" stroke-linecap="round" stroke-linejoin="round"/>
<path d="M332 155.1 C332.6 150 333.9 133.6 335.8 124.5 C337.7 115.5 340 107.8 343.3 100.8 C346.6 93.8 351.4 88 355.7 82.7 C360.1 77.4 366.1 72.1 369.3 69.1 C372.5 66.1 374 65.3 375 64.6" fill="none" stroke="#111" stroke-width="1" stroke-linecap="round" stroke-linejoin="round"/>
<path d="M337.6 155.1 C338 150.8 338 137.9 339.9 129.1 C341.8 120.2 346.5 108 348.9 101.9 C351.4 95.9 353.7 94.4 354.6 92.9" fill="none" stroke="#111" stroke-width="1" stroke-linecap="round" stroke-linejoin="round"/>
<path d="M377.2 62.3 C378.2 60.8 382.5 58.9 385.1 58.9 C387.8 58.9 391.9 60.8 393.1 62.3 C394.2 63.8 393.2 66.7 391.9 68 C390.6 69.3 387.2 70.2 385.1 70.2 C383.1 70.2 380.8 69.3 379.5 68 C378.2 66.7 376.3 63.8 377.2 62.3Z" fill="none" stroke="#111" stroke-width="1" stroke-linecap="round" stroke-linejoin="round"/>
<path d="M355.7 81.6 C356.1 79.7 359.3 78.2 361.4 78.2 C363.5 78.2 367.4 79.9 368.2 81.6 C368.9 83.3 367.4 87 365.9 88.3 C364.4 89.7 360.8 90.6 359.1 89.5 C357.4 88.3 355.3 83.4 355.7 81.6Z" fill="none" stroke="#111" stroke-width="1" stroke-linecap="round" stroke-linejoin="round"/>
<path d="M410 46.5 C412.3 46.7 419 47.4 423.6 47.6 C428.1 47.8 433 47.4 437.1 47.6 C441.3 47.8 444.7 48.2 448.5 48.8 C452.2 49.3 456.4 50.1 459.8 51 C463.2 52 465.8 53.1 468.8 54.4 C471.8 55.7 476.4 58.2 477.9 58.9" fill="none" stroke="#111" stroke-width="1" stroke-linecap="round" stroke-linejoin="round"/>
<path d="M423.6 54.4 C425.5 54.2 431.5 53.3 434.9 53.3 C438.3 53.3 440.5 53.5 443.9 54.4 C447.3 55.4 452.2 57.4 455.2 58.9 C458.3 60.4 460.2 61.6 462 63.5 C463.9 65.3 465.4 67.6 466.6 70.2 C467.7 72.9 467.3 76.7 468.8 79.3 C470.3 81.9 474.5 85 475.6 86.1" fill="none" stroke="#111" stroke-width="1" stroke-linecap="round" stroke-linejoin="round"/>
<path d="M421.3 77 C423.2 74.6 427.3 75.5 430.4 75.9 C433.4 76.3 436.4 79.5 439.4 79.3 C442.4 79.1 445.4 75.7 448.5 74.8 C451.5 73.8 454.9 73.1 457.5 73.6 C460.2 74.2 462.8 75.7 464.3 78.2 C465.8 80.6 465.4 84.8 466.6 88.3 C467.7 91.9 469.8 96.3 471.1 99.7 C472.4 103.1 473.7 106.1 474.5 108.7 C475.2 111.3 475 112.9 475.6 115.5 C476.2 118.1 477.9 121.9 477.9 124.5 C477.9 127.2 477.5 129.4 475.6 131.3 C473.7 133.2 469.6 134.4 466.6 135.9 C463.5 137.4 460.5 139.3 457.5 140.4 C454.5 141.5 451.9 141.9 448.5 142.6 C445.1 143.4 440.5 144.9 437.1 144.9 C433.8 144.9 430.7 143.8 428.1 142.6 C425.5 141.5 422.8 140.4 421.3 138.1 C419.8 135.9 419.8 132.8 419 129.1 C418.3 125.3 417.2 120 416.8 115.5 C416.4 111 416.4 106.1 416.8 101.9 C417.2 97.8 418.3 94.8 419 90.6 C419.8 86.5 419.4 79.5 421.3 77Z" fill="none" stroke="#111" stroke-width="1" stroke-linecap="round" stroke-linejoin="round"/>
<path d="M481.3 70.2 C482.2 70.4 485.8 76.3 488.1 78.2 C490.3 80.1 492.8 80.2 494.8 81.6 C496.9 82.9 499.2 84.4 500.5 86.1 C501.8 87.8 503.5 91 502.8 91.7 C502 92.5 498.2 91.4 496 90.6 C493.7 89.9 491.4 89.5 489.2 87.2 C486.9 85 483.7 79.9 482.4 77 C481.1 74.2 480.3 70.1 481.3 70.2Z" fill="none" stroke="#111" stroke-width="1" stroke-linecap="round" stroke-linejoin="round"/>
<path d="M493.7 73.6 C494.7 74.6 497.9 77.2 499.4 79.3 C500.9 81.4 502.2 85 502.8 86.1" fill="none" stroke="#111" stroke-width="1" stroke-linecap="round" stroke-linejoin="round"/>
<path d="M498.2 72.5 C499.2 73.6 502.6 76.8 503.9 79.3 C505.2 81.7 505.8 85.9 506.2 87.2" fill="none" stroke="#111" stroke-width="1" stroke-linecap="round" stroke-linejoin="round"/>
<path d="M477.9 101.9 C479.8 101.2 485.4 98.5 489.2 97.4 C493 96.3 497.9 95.9 500.5 95.1 C503.1 94.4 504.3 93.3 505 92.9" fill="none" stroke="#111" stroke-width="1" stroke-linecap="round" stroke-linejoin="round"/>
<path d="M477.9 103.1 C479.4 102.7 483.9 101.5 486.9 100.8 C489.9 100 494.5 98.9 496 98.5" fill="none" stroke="#111" stroke-width="1" stroke-linecap="round" stroke-linejoin="round"/>
<path d="M506.2 92.9 C506.5 94.4 508.2 98.5 508.4 101.9 C508.6 105.3 507.1 109.8 507.3 113.2 C507.5 116.6 509.2 120.8 509.5 122.3" fill="none" stroke="#111" stroke-width="1" stroke-linecap="round" stroke-linejoin="round"/>
<path d="M486.9 115.5 C487.5 113 489.8 110.4 491.4 109.8 C493.1 109.3 495.6 110.8 497.1 112.1 C498.6 113.4 499.2 116.4 500.5 117.8 C501.8 119.1 504.1 118.5 505 120 C506 121.5 506.5 124.9 506.2 126.8 C505.8 128.7 504.1 130.8 502.8 131.3 C501.4 131.9 499.7 129.8 498.2 130.2 C496.7 130.6 495.2 133.4 493.7 133.6 C492.2 133.8 490.1 132.8 489.2 131.3 C488.2 129.8 488.4 127.2 488.1 124.5 C487.7 121.9 486.4 117.9 486.9 115.5Z" fill="none" stroke="#111" stroke-width="1" stroke-linecap="round" stroke-linejoin="round"/>
<path d="M509.5 88.3 C510.3 90.6 512.9 97.4 514.1 101.9 C515.2 106.4 515.8 111 516.3 115.5 C516.9 120 517.5 124.5 517.5 129.1 C517.5 133.6 516.1 138.3 516.3 142.6 C516.5 147 518.2 153 518.6 155.1" fill="none" stroke="#111" stroke-width="1" stroke-linecap="round" stroke-linejoin="round"/>
<path d="M512.9 86.1 C513.9 88.3 517.1 94.8 518.6 99.7 C520.1 104.6 521.3 110.2 522 115.5 C522.6 120.8 522.4 124.7 522.4 131.3 C522.4 137.9 522.1 151.1 522 155.1" fill="none" stroke="#111" stroke-width="1" stroke-linecap="round" stroke-linejoin="round"/>
<path d="M516.3 85 C517.5 87.4 521.4 94.6 523.1 99.7 C524.8 104.8 525.8 110.2 526.5 115.5 C527.2 120.8 527.2 124.7 527.2 131.3 C527.2 137.9 526.6 151.1 526.5 155.1" fill="none" stroke="#111" stroke-width="1" stroke-linecap="round" stroke-linejoin="round"/>
<path d="M324 125 C324.2 128.8 324 140.1 325.2 147.6 C326.3 155.2 328 162.7 330.8 170.2 C333.7 177.8 337.6 185.7 342.1 192.9 C346.7 200 352 207.2 358 213.2 C364 219.3 371.2 224.9 378.3 229.1 C385.5 233.2 393.4 235.9 401 238.1 C408.5 240.4 416.2 241.9 423.6 242.6 C431 243.4 441.5 242.6 445.1 242.6" fill="none" stroke="#111" stroke-width="1" stroke-linecap="round" stroke-linejoin="round"/>
<path d="M329.7 125 C329.9 128.8 329.7 140.1 330.8 147.6 C332 155.2 333.9 163.5 336.5 170.2 C339.1 177 342.7 182.3 346.7 188.3 C350.6 194.4 354.6 200.8 360.2 206.4 C365.9 212.1 373.8 218.1 380.6 222.3 C387.4 226.4 394.2 229.1 401 231.3 C407.8 233.6 414 234.9 421.3 235.9 C428.7 236.8 441.1 236.8 445.1 237" fill="none" stroke="#111" stroke-width="1" stroke-linecap="round" stroke-linejoin="round"/>
<path d="M335.4 136.3 C335.7 140.1 336.1 152.1 337.6 158.9 C339.1 165.7 341.8 171.4 344.4 177 C347.1 182.7 352 190.2 353.5 192.9" fill="none" stroke="#111" stroke-width="1" stroke-linecap="round" stroke-linejoin="round"/>
<path d="M358 158.9 C359.3 155.9 364 152.9 367 152.1 C370.1 151.4 373.8 152.5 376.1 154.4 C378.3 156.3 380.6 160.4 380.6 163.5 C380.6 166.5 378.3 170.4 376.1 172.5 C373.8 174.6 369.9 176.3 367 175.9 C364.2 175.5 360.6 173.1 359.1 170.2 C357.6 167.4 356.7 162 358 158.9Z" fill="none" stroke="#111" stroke-width="1" stroke-linecap="round" stroke-linejoin="round"/>
<path d="M378.3 147.6 C380.2 148 385.9 148.8 389.7 149.9 C393.4 151 397.6 152.9 401 154.4 C404.4 155.9 407.4 157.4 410 158.9 C412.7 160.4 414.9 160.8 416.8 163.5 C418.7 166.1 420.2 171.4 421.3 174.8 C422.5 178.2 423.2 182.3 423.6 183.8" fill="none" stroke="#111" stroke-width="1" stroke-linecap="round" stroke-linejoin="round"/>
<path d="M394.2 211 C396.1 209.5 402.1 204.9 405.5 201.9 C408.9 198.9 411.9 195.5 414.5 192.9 C417.2 190.2 420.2 187.2 421.3 186.1" fill="none" stroke="#111" stroke-width="1" stroke-linecap="round" stroke-linejoin="round"/>
<path d="M389.7 222.3 C391.5 221.2 397.2 217.4 401 215.5 C404.7 213.6 408.5 212.1 412.3 211 C416.1 209.8 420.2 208 423.6 208.7 C427 209.5 430.8 212.9 432.6 215.5 C434.5 218.1 434.2 221.9 434.9 224.5 C435.7 227.2 436.8 230.2 437.2 231.3" fill="none" stroke="#111" stroke-width="1" stroke-linecap="round" stroke-linejoin="round"/>
<path d="M378.3 221.2 C378.7 218.9 382.7 216.1 385.1 215.5 C387.6 214.9 391.9 215.9 393.1 217.8 C394.2 219.6 393.6 224.9 391.9 226.8 C390.2 228.7 385.1 230 382.9 229.1 C380.6 228.1 378 223.4 378.3 221.2Z" fill="none" stroke="#111" stroke-width="1" stroke-linecap="round" stroke-linejoin="round"/>
<path d="M410 233.6 C412.3 233.4 419 232.8 423.6 232.5 C428.1 232.1 432.6 231.9 437.1 231.3 C441.7 230.8 446.2 230.2 450.7 229.1 C455.2 227.9 459.8 226.4 464.3 224.5 C468.8 222.7 473.7 220 477.9 217.8 C482 215.5 485.4 213.6 489.2 211 C493 208.3 497.1 205.7 500.5 201.9 C503.9 198.2 506.9 193.6 509.5 188.3 C512.2 183.1 514.6 176.3 516.3 170.2 C518 164.2 519 158.2 519.7 152.1 C520.5 146.1 520.7 137.1 520.9 134" fill="none" stroke="#111" stroke-width="1" stroke-linecap="round" stroke-linejoin="round"/>
<path d="M410 238.1 C413.8 237.9 425.1 238.1 432.6 237 C440.2 235.9 448.5 233.4 455.2 231.3 C462 229.3 468.1 227.2 473.3 224.5 C478.6 221.9 482.8 218.9 486.9 215.5 C491.1 212.1 494.8 208.3 498.2 204.2 C501.6 200 504.8 195.9 507.3 190.6 C509.7 185.3 511.4 178.5 512.9 172.5 C514.4 166.5 515.7 160.8 516.3 154.4 C517 148 516.7 137.4 516.8 134" fill="none" stroke="#111" stroke-width="1" stroke-linecap="round" stroke-linejoin="round"/>
<path d="M410 242.6 C413.8 242.5 425.1 242.5 432.6 241.5 C440.2 240.6 448.1 239.1 455.2 237 C462.4 234.9 469.6 232.3 475.6 229.1 C481.6 225.9 486.9 221.5 491.4 217.8 C496 214 499.4 210.6 502.8 206.4 C506.2 202.3 509.2 198.2 511.8 192.9 C514.4 187.6 516.4 181.2 518.1 174.8 C519.8 168.4 521.2 161.2 522 154.4 C522.8 147.6 522.9 137.4 523.1 134" fill="none" stroke="#111" stroke-width="1" stroke-linecap="round" stroke-linejoin="round"/>
<path d="M410 143.1 C411.5 143.5 416 144.2 419 145.4 C422.1 146.5 425.5 147.2 428.1 149.9 C430.7 152.5 433 158.2 434.9 161.2 C436.8 164.2 439 164.6 439.4 168 C439.8 171.4 437.9 177.4 437.1 181.6 C436.4 185.7 435.5 189.1 434.9 192.9 C434.3 196.6 434.1 200.4 433.8 204.2 C433.4 208 432.6 211.7 432.6 215.5 C432.6 219.3 433.6 224.9 433.8 226.8" fill="none" stroke="#111" stroke-width="1" stroke-linecap="round" stroke-linejoin="round"/>
<path d="M467.7 163.5 C468.4 162 470.9 160.1 473.3 161.2 C475.8 162.3 479.6 167 482.4 170.2 C485.2 173.5 489.2 178 490.3 180.4 C491.4 182.9 490.5 184.4 489.2 185 C487.9 185.5 484.7 185.1 482.4 183.8 C480.1 182.5 477.9 179.3 475.6 177 C473.3 174.8 470.1 172.5 468.8 170.2 C467.5 168 466.9 165 467.7 163.5Z" fill="none" stroke="#111" stroke-width="1" stroke-linecap="round" stroke-linejoin="round"/>
<path d="M475.6 179.3 C476 181.2 477.5 186.8 477.9 190.6 C478.3 194.4 477.5 198.5 477.9 201.9 C478.3 205.3 478.6 209.1 480.1 211 C481.6 212.9 484.7 212.5 486.9 213.2 C489.2 214 492.6 215.1 493.7 215.5" fill="none" stroke="#111" stroke-width="1" stroke-linecap="round" stroke-linejoin="round"/>
<path d="M458.6 211 C456.9 211.7 451.3 213.6 448.5 215.5 C445.6 217.4 443.9 220.6 441.7 222.3 C439.4 224 436 225.1 434.9 225.7" fill="none" stroke="#111" stroke-width="1" stroke-linecap="round" stroke-linejoin="round"/>
<text transform="translate(333.1 101.9) rotate(-70)" font-family="Liberation Sans, sans-serif" font-weight="bold" font-size="6" text-anchor="middle" y="2.2" fill="#000">5</text>
<text transform="translate(342.1 97.4) rotate(-65)" font-family="Liberation Sans, sans-serif" font-weight="bold" font-size="6" text-anchor="middle" y="2.2" fill="#000">10</text>
<text transform="translate(398.7 101.9) rotate(0)" font-family="Liberation Sans, sans-serif" font-weight="bold" font-size="6" text-anchor="middle" y="2.2" fill="#000">15</text>
<text transform="translate(428.1 58.9) rotate(0)" font-family="Liberation Sans, sans-serif" font-weight="bold" font-size="6" text-anchor="middle" y="2.2" fill="#000">16</text>
<text transform="translate(385.1 141.5) rotate(0)" font-family="Liberation Sans, sans-serif" font-weight="bold" font-size="6" text-anchor="middle" y="2.2" fill="#000">15</text>
<text transform="translate(397.6 144.9) rotate(0)" font-family="Liberation Sans, sans-serif" font-weight="bold" font-size="6" text-anchor="middle" y="2.2" fill="#000">10</text>
<text transform="translate(386.9 66.2) rotate(0)" font-family="Liberation Sans, sans-serif" font-weight="bold" font-size="6" text-anchor="middle" y="2.2" fill="#000">20</text>
<text transform="translate(362.5 84.3) rotate(0)" font-family="Liberation Sans, sans-serif" font-weight="bold" font-size="6" text-anchor="middle" y="2.2" fill="#000">20</text>
<text transform="translate(441.7 47.6) rotate(5)" font-family="Liberation Sans, sans-serif" font-weight="bold" font-size="6" text-anchor="middle" y="2.2" fill="#000">15</text>
<text transform="translate(454.1 48.8) rotate(8)" font-family="Liberation Sans, sans-serif" font-weight="bold" font-size="6" text-anchor="middle" y="2.2" fill="#000">10</text>
<text transform="translate(462 45.4) rotate(15)" font-family="Liberation Sans, sans-serif" font-weight="bold" font-size="6" text-anchor="middle" y="2.2" fill="#000">5</text>
<text transform="translate(467.7 58.9) rotate(0)" font-family="Liberation Sans, sans-serif" font-weight="bold" font-size="6" text-anchor="middle" y="2.2" fill="#000">20</text>
<text transform="translate(481.3 86.1) rotate(0)" font-family="Liberation Sans, sans-serif" font-weight="bold" font-size="6" text-anchor="middle" y="2.2" fill="#000">30</text>
<text transform="translate(507.3 101.9) rotate(80)" font-family="Liberation Sans, sans-serif" font-weight="bold" font-size="6" text-anchor="middle" y="2.2" fill="#000">15</text>
<text transform="translate(491.4 140.4) rotate(0)" font-family="Liberation Sans, sans-serif" font-weight="bold" font-size="6" text-anchor="middle" y="2.2" fill="#000">20</text>
<text transform="translate(363.6 153.3) rotate(0)" font-family="Liberation Sans, sans-serif" font-weight="bold" font-size="6" text-anchor="middle" y="2.2" fill="#000">20</text>
<text transform="translate(360.2 178.2) rotate(0)" font-family="Liberation Sans, sans-serif" font-weight="bold" font-size="6" text-anchor="middle" y="2.2" fill="#000">30</text>
<text transform="translate(339.9 185) rotate(40)" font-family="Liberation Sans, sans-serif" font-weight="bold" font-size="6" text-anchor="middle" y="2.2" fill="#000">10</text>
<text transform="translate(385.1 142) rotate(0)" font-family="Liberation Sans, sans-serif" font-weight="bold" font-size="6" text-anchor="middle" y="2.2" fill="#000">15</text>
<text transform="translate(397.6 145.4) rotate(0)" font-family="Liberation Sans, sans-serif" font-weight="bold" font-size="6" text-anchor="middle" y="2.2" fill="#000">10</text>
<text transform="translate(415.7 200.8) rotate(80)" font-family="Liberation Sans, sans-serif" font-weight="bold" font-size="6" text-anchor="middle" y="2.2" fill="#000">20</text>
<text transform="translate(438.3 166.9) rotate(0)" font-family="Liberation Sans, sans-serif" font-weight="bold" font-size="6" text-anchor="middle" y="2.2" fill="#000">15</text>
<text transform="translate(381.7 230.2) rotate(30)" font-family="Liberation Sans, sans-serif" font-weight="bold" font-size="6" text-anchor="middle" y="2.2" fill="#000">10</text>
<text transform="translate(438.3 166.9) rotate(0)" font-family="Liberation Sans, sans-serif" font-weight="bold" font-size="6" text-anchor="middle" y="2.2" fill="#000">15</text>
<text transform="translate(449.6 221.2) rotate(0)" font-family="Liberation Sans, sans-serif" font-weight="bold" font-size="6" text-anchor="middle" y="2.2" fill="#000">20</text>
<text transform="translate(453 231.3) rotate(-10)" font-family="Liberation Sans, sans-serif" font-weight="bold" font-size="6" text-anchor="middle" y="2.2" fill="#000">15</text>
<text transform="translate(467.7 227.9) rotate(-20)" font-family="Liberation Sans, sans-serif" font-weight="bold" font-size="6" text-anchor="middle" y="2.2" fill="#000">10</text>
<text transform="translate(492.6 216.6) rotate(-40)" font-family="Liberation Sans, sans-serif" font-weight="bold" font-size="6" text-anchor="middle" y="2.2" fill="#000">5</text>
<text transform="translate(492.6 142) rotate(30)" font-family="Liberation Sans, sans-serif" font-weight="bold" font-size="6" text-anchor="middle" y="2.2" fill="#000">20</text>
<text transform="translate(521.3 169.1) rotate(90)" font-family="Liberation Sans, sans-serif" font-weight="bold" font-size="6" text-anchor="middle" y="2.2" fill="#000">0</text>
<text transform="translate(434.9 227.9) rotate(80)" font-family="Liberation Sans, sans-serif" font-weight="bold" font-size="6" text-anchor="middle" y="2.2" fill="#000">15</text>
<path d="M410.4 131 L411.3 129.5 L412.4 128.1 L413.6 126.9 L414.8 125.7 L416.2 124.6 L417.7 123.7" fill="none" stroke="#111" stroke-width="1.1" stroke-linecap="round"/>
<path d="M404.7 128.8 L406.1 126.6 L407.6 124.5 L409.3 122.6 L411.2 120.9 L413.3 119.4 L415.5 118" fill="none" stroke="#111" stroke-width="1.1" stroke-linecap="round"/>
<path d="M400 125 L401.5 122.6 L403.2 120.4 L405.1 118.4 L407.1 116.5 L409.3 114.8 L411.7 113.3" fill="none" stroke="#111" stroke-width="1.1" stroke-linecap="round"/>
<path d="M467.7 71.7 L461.5 68.5 L455.1 65.8 L448.4 63.7" fill="none" stroke="#111" stroke-width="0.9" stroke-linecap="round" stroke-dasharray="0.1 2.4"/>
<path d="M488.3 176 L491.1 170.6 L493.5 164.9 L495.3 159.1" fill="none" stroke="#111" stroke-width="0.9" stroke-linecap="round" stroke-dasharray="0.1 2.4"/>
<path d="M503.4 134.4 L502.5 127.8 L501.1 121.3 L499.1 115" fill="none" stroke="#111" stroke-width="0.9" stroke-linecap="round" stroke-dasharray="0.1 2.4"/>
<path d="M509.4 133.9 L508.5 126.8 L506.9 119.8 L504.8 113 L502 106.3" fill="none" stroke="#111" stroke-width="0.9" stroke-linecap="round" stroke-dasharray="0.1 2.4"/>
<path d="M368.6 130.6 L369.5 126.5 L370.6 122.5 L372.1 118.5" fill="none" stroke="#111" stroke-width="0.9" stroke-linecap="round" stroke-dasharray="0.1 2.4"/>
<polygon points="379.9,165.2 394.6,160.1 411.8,171.3 406.7,189.4 392,213.5 386.9,214.5 382.5,211.8 373.8,217 363.5,214.9 355.9,214.9 345.6,206.7 350.6,201.4 360.9,199.8 369.5,185.9 381.6,169.6" fill="#fff"/>
<g stroke="#d0d0d0" stroke-width="0.3" opacity="0.55"><line x1="427.7" y1="143.1" x2="427.7" y2="243.6"/><line x1="428.7" y1="142.8" x2="479" y2="229.9"/><line x1="429.5" y1="142" x2="516.6" y2="192.3"/><line x1="429.8" y1="141" x2="530.3" y2="141"/><line x1="429.5" y1="140" x2="516.6" y2="89.7"/><line x1="428.7" y1="139.2" x2="479" y2="52.1"/><line x1="427.7" y1="138.9" x2="427.7" y2="38.4"/><line x1="426.7" y1="139.2" x2="376.4" y2="52.1"/><line x1="425.9" y1="140" x2="338.8" y2="89.7"/><line x1="425.6" y1="141" x2="325.1" y2="141"/><line x1="425.9" y1="142" x2="338.8" y2="192.3"/><line x1="426.7" y1="142.8" x2="376.4" y2="229.9"/><circle cx="427.7" cy="141" r="38.3" fill="none"/><circle cx="427.7" cy="141" r="76.5" fill="none"/></g>
</g>
<circle cx="427.7" cy="141" r="102.6" fill="none" stroke="#111" stroke-width="1.5"/>
<rect x="537.6" y="37.2" width="13.1" height="207.6" fill="#770522"/>
<rect x="537.6" y="45.9" width="13.1" height="199" fill="#960f26"/>
<rect x="537.6" y="54.5" width="13.1" height="190.3" fill="#b31b2c"/>
<rect x="537.6" y="63.2" width="13.1" height="181.7" fill="#c2393b"/>
<rect x="537.6" y="71.8" width="13.1" height="173" fill="#d25749"/>
<rect x="537.6" y="80.5" width="13.1" height="164.4" fill="#df745c"/>
<rect x="537.6" y="89.1" width="13.1" height="155.7" fill="#eb9173"/>
<rect x="537.6" y="97.8" width="13.1" height="147.1" fill="#f5ac8b"/>
<rect x="537.6" y="106.4" width="13.1" height="138.4" fill="#f9c2a7"/>
<rect x="537.6" y="115.1" width="13.1" height="129.8" fill="#fdd9c4"/>
<rect x="537.6" y="123.7" width="13.1" height="121.1" fill="#fbe6d9"/>
<rect x="537.6" y="132.4" width="13.1" height="112.4" fill="#f8f1ed"/>
<rect x="537.6" y="141" width="13.1" height="103.8" fill="#eff3f6"/>
<rect x="537.6" y="149.7" width="13.1" height="95.2" fill="#dfecf3"/>
<rect x="537.6" y="158.3" width="13.1" height="86.5" fill="#cee4ef"/>
<rect x="537.6" y="166.9" width="13.1" height="77.9" fill="#b4d6e8"/>
<rect x="537.6" y="175.6" width="13.1" height="69.2" fill="#9ac9e0"/>
<rect x="537.6" y="184.2" width="13.1" height="60.6" fill="#7bb6d6"/>
<rect x="537.6" y="192.9" width="13.1" height="51.9" fill="#5aa2cb"/>
<rect x="537.6" y="201.6" width="13.1" height="43.2" fill="#3f8dc0"/>
<rect x="537.6" y="210.2" width="13.1" height="34.6" fill="#317bb7"/>
<rect x="537.6" y="218.9" width="13.1" height="25.9" fill="#2268ad"/>
<rect x="537.6" y="227.5" width="13.1" height="17.3" fill="#165290"/>
<rect x="537.6" y="236.2" width="13.1" height="8.6" fill="#0b3b71"/>
<rect x="537.6" y="37.2" width="13.1" height="207.6" fill="none" stroke="#999" stroke-width="0.4"/>
<g font-family="Liberation Sans, sans-serif" font-size="6.8" fill="#222">
<line x1="549.2" y1="37.2" x2="550.7" y2="37.2" stroke="#444" stroke-width="0.4"/>
<text x="553.5" y="40">6</text>
<line x1="549.2" y1="71.8" x2="550.7" y2="71.8" stroke="#444" stroke-width="0.4"/>
<text x="553.5" y="74.6">4</text>
<line x1="549.2" y1="106.4" x2="550.7" y2="106.4" stroke="#444" stroke-width="0.4"/>
<text x="553.5" y="109.2">2</text>
<line x1="549.2" y1="141" x2="550.7" y2="141" stroke="#444" stroke-width="0.4"/>
<text x="553.5" y="143.8">0</text>
<line x1="549.2" y1="175.6" x2="550.7" y2="175.6" stroke="#444" stroke-width="0.4"/>
<text x="553.5" y="178.4">-2</text>
<line x1="549.2" y1="210.2" x2="550.7" y2="210.2" stroke="#444" stroke-width="0.4"/>
<text x="553.5" y="213">-4</text>
<line x1="549.2" y1="244.8" x2="550.7" y2="244.8" stroke="#444" stroke-width="0.4"/>
<text x="553.5" y="247.6">-6</text>
</g>
<!-- panel c -->
<g font-family="Liberation Sans, sans-serif" font-size="7.6" fill="#333" text-anchor="middle">
<text transform="translate(113.6 316.2) rotate(0)" y="2.7">180<tspan dy="-2.2" font-size="5">°</tspan><tspan dy="2.2"> </tspan>E</text>
<text transform="translate(168.5 329.4) rotate(30)" y="2.7">150<tspan dy="-2.2" font-size="5">°</tspan><tspan dy="2.2"> </tspan>E</text>
<text transform="translate(207.1 370.5) rotate(60)" y="2.7">120<tspan dy="-2.2" font-size="5">°</tspan><tspan dy="2.2"> </tspan>E</text>
<text transform="translate(223.1 424.5) rotate(-90)" y="2.7">90<tspan dy="-2.2" font-size="5">°</tspan><tspan dy="2.2"> </tspan>E</text>
<text transform="translate(209.7 480) rotate(-60)" y="2.7">60<tspan dy="-2.2" font-size="5">°</tspan><tspan dy="2.2"> </tspan>E</text>
<text transform="translate(168.5 519.6) rotate(-30)" y="2.7">30<tspan dy="-2.2" font-size="5">°</tspan><tspan dy="2.2"> </tspan>E</text>
<text transform="translate(113.6 534.2) rotate(0)" y="2.7">0</text>
<text transform="translate(58.7 519.6) rotate(30)" y="2.7">30<tspan dy="-2.2" font-size="5">°</tspan><tspan dy="2.2"> </tspan>W</text>
<text transform="translate(17.5 480) rotate(60)" y="2.7">60<tspan dy="-2.2" font-size="5">°</tspan><tspan dy="2.2"> </tspan>W</text>
<text transform="translate(4.1 424.5) rotate(90)" y="2.7">90<tspan dy="-2.2" font-size="5">°</tspan><tspan dy="2.2"> </tspan>W</text>
<text transform="translate(20.1 370.5) rotate(300)" y="2.7">120<tspan dy="-2.2" font-size="5">°</tspan><tspan dy="2.2"> </tspan>W</text>
<text transform="translate(58.7 329.4) rotate(330)" y="2.7">150<tspan dy="-2.2" font-size="5">°</tspan><tspan dy="2.2"> </tspan>W</text>
</g>
<clipPath id="cpc"><circle cx="113.6" cy="424.5" r="104.5"/></clipPath>
<g clip-path="url(#cpc)">
<rect x="7.1" y="318" width="213" height="213" fill="#f8f1ed"/>
<g filter="url(#blc)">
<polygon points="10,424 20,380 45,345 70,330 100,322 125,322 128,345 150,380 160,420 175,450 190,470 175,500 150,520 115,530 80,525 60,510 100,470 100,440 60,440 30,470 14,450" fill="#fbe6d9"/>
<polygon points="96,322 112,322 116,350 125,365 95,365 98,345" fill="#f9c2a7"/>
<path d="M35 352 L55 362 L75 372" fill="none" stroke="#fdd9c4" stroke-width="10" stroke-linecap="round" stroke-linejoin="round"/>
<polygon points="34,405 55,392 78,380 80,365 140,365 150,390 150,420 160,445 165,470 140,480 130,500 100,510 70,510 85,480 105,470 100,440 60,436 36,428" fill="#f5ac8b"/>
<ellipse cx="204" cy="444" rx="5" ry="14" transform="rotate(0 204 444)" fill="#fbe6d9"/>
<path d="M160 402 L180 398" fill="none" stroke="#fbe6d9" stroke-width="5" stroke-linecap="round" stroke-linejoin="round"/>
<polygon points="66,335 90,330 92,350 75,356 64,348" fill="#dfecf3"/>
<ellipse cx="38.5" cy="357" rx="6" ry="4" transform="rotate(-30 38.5 357)" fill="#b4d6e8"/>
<path d="M158 366 L180 376 L202 378" fill="none" stroke="#cee4ef" stroke-width="10" stroke-linecap="round" stroke-linejoin="round"/>
<ellipse cx="181" cy="382" rx="8" ry="4" transform="rotate(15 181 382)" fill="#b4d6e8"/>
<ellipse cx="136" cy="358" rx="4" ry="4" transform="rotate(0 136 358)" fill="#9ac9e0"/>
<ellipse cx="154" cy="334" rx="4" ry="4" transform="rotate(0 154 334)" fill="#cee4ef"/>
<polygon points="150,340 190,350 214,400 216,440 200,480 180,470 165,430 155,390" fill="#eff3f6"/>
<path d="M52 446 L46 466 L38 482" fill="none" stroke="#cee4ef" stroke-width="13" stroke-linecap="round" stroke-linejoin="round"/>
<path d="M60 452 L52 470" fill="none" stroke="#5aa2cb" stroke-width="4" stroke-linecap="round" stroke-linejoin="round"/>
<ellipse cx="84" cy="444" rx="8" ry="4" transform="rotate(0 84 444)" fill="#cee4ef"/>
<ellipse cx="100" cy="453" rx="3" ry="5" transform="rotate(0 100 453)" fill="#7bb6d6"/>
<ellipse cx="186" cy="455" rx="6" ry="7" transform="rotate(0 186 455)" fill="#cee4ef"/>
<ellipse cx="163" cy="478" rx="5" ry="4" transform="rotate(0 163 478)" fill="#dfecf3"/>
<ellipse cx="158" cy="505" rx="5" ry="4" transform="rotate(0 158 505)" fill="#dfecf3"/>
<polygon points="76,374 100,362 126,368 134,395 130,420 116,434 100,430 84,412" fill="#d25749"/>
<ellipse cx="104" cy="392" rx="13" ry="21" transform="rotate(-10 104 392)" fill="#c2393b"/>
<ellipse cx="105" cy="390" rx="7" ry="16" transform="rotate(-5 105 390)" fill="#b31b2c"/>
<ellipse cx="105" cy="386" rx="3" ry="9" transform="rotate(-5 105 386)" fill="#960f26"/>
<ellipse cx="129" cy="400" rx="11.7" ry="13" transform="rotate(0 129 400)" fill="#eb9173"/>
<ellipse cx="129" cy="400" rx="4.9" ry="5.5" transform="rotate(0 129 400)" fill="#d25749"/>
<ellipse cx="56" cy="411" rx="15.6" ry="10.4" transform="rotate(-20 56 411)" fill="#f5ac8b"/>
<ellipse cx="56" cy="411" rx="6.6" ry="4.4" transform="rotate(-20 56 411)" fill="#eb9173"/>
<path d="M126 442 L142 452 L156 468" fill="none" stroke="#eb9173" stroke-width="23.4" stroke-linecap="round" stroke-linejoin="round"/>
<path d="M126 442 L142 452 L156 468" fill="none" stroke="#df745c" stroke-width="16.6" stroke-linecap="round" stroke-linejoin="round"/>
<path d="M126 442 L142 452 L156 468" fill="none" stroke="#d25749" stroke-width="9.8" stroke-linecap="round" stroke-linejoin="round"/>
<ellipse cx="106" cy="485" rx="22.1" ry="14.3" transform="rotate(0 106 485)" fill="#eb9173"/>
<ellipse cx="106" cy="485" rx="15.7" ry="10.2" transform="rotate(0 106 485)" fill="#df745c"/>
<ellipse cx="106" cy="485" rx="9.3" ry="6" transform="rotate(0 106 485)" fill="#c2393b"/>
<ellipse cx="78" cy="502" rx="13" ry="7.8" transform="rotate(-30 78 502)" fill="#f9c2a7"/>
<ellipse cx="78" cy="502" rx="5.5" ry="3.3" transform="rotate(-30 78 502)" fill="#eb9173"/>
</g>
<g stroke="#d0d0d0" stroke-width="0.3" opacity="0.55"><line x1="113.6" y1="426.6" x2="113.6" y2="529"/><line x1="114.6" y1="426.3" x2="165.8" y2="515"/><line x1="115.4" y1="425.5" x2="204.1" y2="476.8"/><line x1="115.7" y1="424.5" x2="218.1" y2="424.5"/><line x1="115.4" y1="423.5" x2="204.1" y2="372.2"/><line x1="114.6" y1="422.7" x2="165.8" y2="334"/><line x1="113.6" y1="422.4" x2="113.6" y2="320"/><line x1="112.6" y1="422.7" x2="61.3" y2="334"/><line x1="111.8" y1="423.5" x2="23.1" y2="372.2"/><line x1="111.5" y1="424.5" x2="9.1" y2="424.5"/><line x1="111.8" y1="425.5" x2="23.1" y2="476.8"/><line x1="112.6" y1="426.3" x2="61.3" y2="515"/><circle cx="113.6" cy="424.5" r="39" fill="none"/><circle cx="113.6" cy="424.5" r="78" fill="none"/></g>
<g font-family="Liberation Sans, sans-serif" font-size="7.8" fill="#444" text-anchor="end">
<text x="110.6" y="427.3">90<tspan dy="-2.2" font-size="5">°</tspan><tspan dy="2.2"> N</tspan></text>
<text x="110.6" y="388.3">80<tspan dy="-2.2" font-size="5">°</tspan><tspan dy="2.2"> N</tspan></text>
<text x="110.6" y="349.3">70<tspan dy="-2.2" font-size="5">°</tspan><tspan dy="2.2"> N</tspan></text>
</g>
<use href="#coast" transform="translate(113.6 424.5) scale(104.5)"/>
<polygon points="208.5,411 220,411 220,440 208.5,440" fill="#fff"/><path d="M119.4 325 C119.4 326.4 118.9 331.9 119.8 333.9 C120.8 336 123 337 125 337.3 C127 337.6 130.6 336 131.7 335.7" fill="none" stroke="#111" stroke-width="0.9" stroke-linecap="round" stroke-linejoin="round"/>
<path d="M154.8 333.9 C154.9 335 155.3 337.7 155.7 340.6 C156 343.6 156.5 347.7 157 351.8 C157.5 356 157.4 361.9 158.6 365.3 C159.8 368.7 162.1 369.8 164.2 372 C166.2 374.3 168.7 376.5 170.9 378.7 C173.2 381 175.6 382.8 177.6 385.5 C179.7 388.1 181.9 391.4 183.2 394.4 C184.5 397.4 185.5 400 185.5 403.4 C185.5 406.7 184 410.9 183.2 414.6 C182.5 418.3 181.6 422.2 181 425.8 C180.4 429.3 180.1 434.2 179.9 435.9" fill="none" stroke="#111" stroke-width="0.9" stroke-linecap="round" stroke-linejoin="round"/>
<path d="M204.5 381 C204.7 382.8 205.7 388.4 205.6 392.2 C205.6 395.9 204.6 399.7 204.1 403.4 C203.5 407.1 202.7 411.2 202.3 414.6 C201.9 418 202 420.6 201.8 423.6 C201.7 426.5 201.3 431 201.2 432.5" fill="none" stroke="#111" stroke-width="0.9" stroke-linecap="round" stroke-linejoin="round"/>
<path d="M181 411 C180.8 413.3 179.7 420.7 179.9 424.5 C180.1 428.2 181.6 430.1 182.1 433.4 C182.7 436.8 183.4 440.5 183.2 444.6 C183.1 448.8 181.9 454 181 458.1 C180.1 462.2 178.8 465.6 177.6 469.3 C176.5 473 175.2 477.1 174.3 480.5 C173.3 483.9 173.7 487.4 172 489.5 C170.4 491.5 167.4 492.1 164.2 492.8 C161 493.6 156.3 493.2 153 493.9 C149.6 494.7 146.6 495.4 144 497.3 C141.4 499.2 139.5 502.7 137.3 505.2 C135.1 507.6 133.2 509.6 130.6 511.9 C128 514.1 123.7 516.9 121.6 518.6 C119.6 520.3 118.8 521.4 118.2 522" fill="none" stroke="#111" stroke-width="0.9" stroke-linecap="round" stroke-linejoin="round"/>
<path d="M202.3 422.2 C202.2 424.1 202 430.6 201.8 433.4 C201.7 436.2 201.3 438.1 201.2 439" fill="none" stroke="#111" stroke-width="0.9" stroke-linecap="round" stroke-linejoin="round"/>
<path d="M198.9 461.5 C198.7 463.1 198.4 468.4 197.8 471.5 C197.2 474.7 196.1 478.6 195.6 480.5 C195 482.4 194.6 482.4 194.4 482.7" fill="none" stroke="#111" stroke-width="0.9" stroke-linecap="round" stroke-linejoin="round"/>
<path d="M48.8 454.7 C50.1 453.2 54 452.5 55.5 452.5 C57 452.5 58.1 453.2 57.8 454.7 C57.4 456.2 55 460.3 53.3 461.5 C51.6 462.6 48.4 462.6 47.7 461.5 C46.9 460.3 47.5 456.2 48.8 454.7Z" fill="none" stroke="#111" stroke-width="0.9" stroke-linecap="round" stroke-linejoin="round"/>
<path d="M32 478.3 C33.1 477.3 36.7 474.3 38.7 472.7 C40.8 471 42.8 469.3 44.3 468.2 C45.8 467.1 47.1 466.3 47.7 465.9" fill="none" stroke="#111" stroke-width="0.9" stroke-linecap="round" stroke-linejoin="round"/>
<path d="M16.3 440.2 C17.8 441.1 23 444.5 25.3 445.8 C27.5 447.1 28.4 446.3 29.8 448 C31.1 449.7 33.5 453.4 33.1 455.8 C32.7 458.3 29.2 461.1 27.5 462.6 C25.8 464.1 23.8 464.4 23 464.8" fill="none" stroke="#111" stroke-width="0.9" stroke-linecap="round" stroke-linejoin="round"/>
<path d="M70.1 509.6 C71.2 510.2 74.8 511.9 76.8 513 C78.9 514.1 80.5 515.4 82.4 516.4 C84.3 517.3 86.3 517.7 88 518.6 C89.7 519.5 91.8 521.4 92.5 522" fill="none" stroke="#111" stroke-width="0.9" stroke-linecap="round" stroke-linejoin="round"/>
<path d="M118.3 522 C118.8 521 119.4 518.4 121.6 516.4 C123.9 514.3 130 510.8 131.7 509.6" fill="none" stroke="#111" stroke-width="0.9" stroke-linecap="round" stroke-linejoin="round"/>
<path d="M74.6 331.7 C75.9 332.2 80 333.5 82.4 335 C84.8 336.5 88.2 338 89.1 340.6 C90.1 343.3 90.1 348.7 88 350.7 C86 352.8 80.5 351.8 76.8 353 C73.1 354.1 69 355.4 65.6 357.4 C62.2 359.5 59.6 362.7 56.6 365.3 C53.7 367.9 50.5 371.3 47.7 373.1 C44.9 375 41.7 374.8 39.8 376.5 C38 378.2 36.7 381 36.5 383.2 C36.3 385.5 38.7 387.7 38.7 389.9 C38.7 392.2 37.6 394 36.5 396.7 C35.4 399.3 33.1 401.9 32 405.6 C30.9 409.4 30.9 414.6 29.8 419.1 C28.6 423.6 26 430.3 25.3 432.5" fill="none" stroke="#111" stroke-width="0.9" stroke-linecap="round" stroke-linejoin="round"/>
<text transform="translate(155.7 340.6) rotate(0)" font-family="Liberation Sans, sans-serif" font-weight="bold" font-size="6" text-anchor="middle" y="2.2" fill="#000">4</text>
<text transform="translate(132.8 334.4) rotate(-40)" font-family="Liberation Sans, sans-serif" font-weight="bold" font-size="6" text-anchor="middle" y="2.2" fill="#000">4</text>
<text transform="translate(201.8 424) rotate(80)" font-family="Liberation Sans, sans-serif" font-weight="bold" font-size="6" text-anchor="middle" y="2.2" fill="#000">2</text>
<text transform="translate(118.2 521.3) rotate(0)" font-family="Liberation Sans, sans-serif" font-weight="bold" font-size="6" text-anchor="middle" y="2.2" fill="#000">4</text>
<text transform="translate(72.3 509.6) rotate(0)" font-family="Liberation Sans, sans-serif" font-weight="bold" font-size="6" text-anchor="middle" y="2.2" fill="#000">6</text>
<text transform="translate(82.4 515.9) rotate(0)" font-family="Liberation Sans, sans-serif" font-weight="bold" font-size="6" text-anchor="middle" y="2.2" fill="#000">4</text>
<text transform="translate(118.3 522) rotate(0)" font-family="Liberation Sans, sans-serif" font-weight="bold" font-size="6" text-anchor="middle" y="2.2" fill="#000">4</text>
<text transform="translate(37.6 473.8) rotate(-40)" font-family="Liberation Sans, sans-serif" font-weight="bold" font-size="6" text-anchor="middle" y="2.2" fill="#000">4</text>
<text transform="translate(49.9 459.2) rotate(0)" font-family="Liberation Sans, sans-serif" font-weight="bold" font-size="6" text-anchor="middle" y="2.2" fill="#000">4</text>
<text transform="translate(24.1 445.1) rotate(20)" font-family="Liberation Sans, sans-serif" font-weight="bold" font-size="6" text-anchor="middle" y="2.2" fill="#000">4</text>
<text transform="translate(87.6 350.7) rotate(0)" font-family="Liberation Sans, sans-serif" font-weight="bold" font-size="6" text-anchor="middle" y="2.2" fill="#000">4</text>
<path d="M128.9 366.1 C128.7 365 130.8 359.9 132.3 358.2 C133.8 356.5 136.5 355.7 138 355.9 C139.5 356.1 141.2 358 141.4 359.3 C141.6 360.6 140.4 362.9 139.1 363.8 C137.8 364.8 135.2 364.6 133.5 365 C131.8 365.3 129.1 367.2 128.9 366.1Z" fill="none" stroke="#111" stroke-width="0.9" stroke-linecap="round" stroke-linejoin="round"/>
<text transform="translate(135.7 362) rotate(0)" font-family="Liberation Sans, sans-serif" font-weight="bold" font-size="6" text-anchor="middle" y="2.2" fill="#000">6</text>
<path d="M40.7 427 C42 426.9 46 426.5 48.6 426.3 C51.3 426.1 55.2 425.9 56.6 425.8" fill="none" stroke="#111" stroke-width="1" stroke-linecap="round" stroke-linejoin="round"/>
<path d="M56.6 425.8 C58.4 426 64.5 427.3 67.9 427 C71.3 426.6 73.9 423.8 76.9 423.6 C79.9 423.4 84.5 425.5 86 425.8" fill="none" stroke="#111" stroke-width="0.9" stroke-linecap="round" stroke-linejoin="round"/>
<path d="M107.3 427.2 L107.1 426.5 L106.9 425.9 L106.8 425.2 L106.8 424.5 L106.8 423.9 L106.9 423.2 L107.1 422.5 L107.3 421.9 L107.6 421.3 L107.9 420.7 L108.3 420.2 L108.8 419.7 L109.3 419.2 L109.8 418.8 L110.4 418.5" fill="none" stroke="#111" stroke-width="1.2" stroke-linecap="round"/>
<path d="M117.7 429.9 L118.2 429.5 L118.7 429 L119.1 428.5 L119.5 427.9 L119.8 427.3 L120 426.7 L120.2 426 L120.3 425.3" fill="none" stroke="#111" stroke-width="1.2" stroke-linecap="round"/>
<path d="M100.5 428 L100.2 426.7 L100 425.4 L100 424 L100.1 422.6 L100.4 421.3 L100.8 420 L101.3 418.8 L101.9 417.6 L102.6 416.4 L103.5 415.4 L104.5 414.4 L105.5 413.6 L106.6 412.8 L107.8 412.2 L109.1 411.7 L110.4 411.3 L111.7 411" fill="none" stroke="#111" stroke-width="1.2" stroke-linecap="round"/>
<path d="M115.5 438 L116.9 437.7 L118.2 437.3 L119.5 436.8 L120.7 436.1 L121.9 435.3 L122.9 434.4 L123.9 433.4 L124.8 432.3 L125.5 431.1 L126.1 429.8" fill="none" stroke="#111" stroke-width="1.2" stroke-linecap="round"/>
<path d="M92.4 428.2 L92.2 426.1 L92.1 423.9 L92.3 421.7 L92.7 419.5 L93.3 417.4 L94.1 415.4 L95.1 413.5 L96.4 411.7 L97.7 410 L99.3 408.4 L101 407.1 L102.8 405.9 L104.8 404.9 L106.8 404.1 L108.9 403.5 L111.1 403.1 L113.3 403 L115.5 403.1" fill="none" stroke="#111" stroke-width="1.2" stroke-linecap="round"/>
<path d="M116.6 445.8 L118.8 445.4 L120.9 444.7 L122.9 443.9 L124.8 442.8 L126.7 441.6 L128.3 440.2 L129.9 438.6 L131.2 436.8" fill="none" stroke="#111" stroke-width="1.2" stroke-linecap="round"/>
<path d="M84.2 425.5 L84.3 422.6 L84.6 419.7 L85.2 416.9 L86.1 414.1 L87.3 411.5 L88.7 408.9 L90.3 406.5 L92.2 404.3 L94.3 402.3 L96.6 400.5 L99 399 L101.6 397.6 L104.4 396.6 L107.2 395.8 L110 395.3 L112.9 395.1 L115.8 395.2 L118.7 395.5" fill="none" stroke="#111" stroke-width="1.2" stroke-linecap="round"/>
<path d="M118.2 453.5 L121.1 452.9 L123.8 452.1 L126.5 450.9 L129.1 449.5 L131.5 447.8 L133.7 445.9 L135.7 443.8 L137.5 441.6 L139.1 439.1 L140.4 436.5 L141.5 433.8 L142.3 431 L142.8 428.1" fill="none" stroke="#111" stroke-width="1.2" stroke-linecap="round"/>
<path d="M76.7 421.3 L77.3 417.5 L78.2 413.9 L79.4 410.3 L81 406.9 L83 403.7 L85.3 400.7 L87.8 398 L90.7 395.5 L93.7 393.3 L97 391.4 L100.4 389.9 L104 388.8 L107.7 388 L111.4 387.6 L115.2 387.5 L119 387.9 L122.7 388.6 L126.3 389.7" fill="none" stroke="#111" stroke-width="0.9" stroke-linecap="round" stroke-dasharray="0.1 2.2"/>
<path d="M72.3 409.5 L73.9 405.4 L76 401.6 L78.5 398 L81.2 394.7 L84.3 391.6 L87.7 388.9 L91.4 386.5 L95.2 384.5 L99.3 382.9 L103.5 381.7 L107.7 380.9 L112.1 380.5 L116.4 380.6 L120.7 381.1 L125 382" fill="none" stroke="#111" stroke-width="0.9" stroke-linecap="round" stroke-dasharray="0.1 2.2"/>
<path d="M88.6 381.2 L93.1 378.9 L97.9 377 L102.8 375.7 L107.8 374.8 L112.9 374.5 L118 374.7" fill="none" stroke="#111" stroke-width="0.9" stroke-linecap="round" stroke-dasharray="0.1 2.2"/>
<path d="M86.3 377.3 L90.9 375 L95.6 373.1 L100.4 371.6 L105.4 370.6 L110.4 370.1 L115.5 370" fill="none" stroke="#111" stroke-width="0.9" stroke-linecap="round" stroke-dasharray="0.1 2.2"/>
<path d="M116.8 461.4 L120.6 460.8 L124.3 459.9 L127.9 458.6 L131.3 457 L134.6 455 L137.6 452.7 L140.4 450 L142.9 447.1 L145 444 L146.9 440.7 L148.4 437.2" fill="none" stroke="#111" stroke-width="0.9" stroke-linecap="round" stroke-dasharray="0.1 2.2"/>
<path d="M98.6 465.8 L102.7 467.1 L107 468 L111.4 468.4 L115.8 468.4 L120.2 468 L124.5 467.1 L128.6 465.8 L132.7 464.1 L136.5 462 L140.2 459.6 L143.5 456.8 L146.6 453.6 L149.3 450.2 L151.7 446.5" fill="none" stroke="#111" stroke-width="0.9" stroke-linecap="round" stroke-dasharray="0.1 2.2"/>
<path d="M92.5 469.8 L97.2 471.7 L102.1 473.2 L107.1 474.1 L112.1 474.5 L117.2 474.4 L122.3 473.7 L127.2 472.6 L132.1 471 L136.7 468.9 L141.1 466.3 L145.2 463.3 L149 459.9" fill="none" stroke="#111" stroke-width="0.9" stroke-linecap="round" stroke-dasharray="0.1 2.2"/>
<path d="M85.1 473.9 L90.2 476.5 L95.4 478.5 L100.9 480.1 L106.5 481.1 L112.2 481.5 L117.9 481.3 L123.5 480.6" fill="none" stroke="#111" stroke-width="0.9" stroke-linecap="round" stroke-dasharray="0.1 2.2"/>
<path d="M79.7 478.8 L84.5 481.5 L89.6 483.8 L94.9 485.7 L100.3 487.1" fill="none" stroke="#111" stroke-width="0.9" stroke-linecap="round" stroke-dasharray="0.1 2.2"/>
<path d="M69.3 416.7 L70.1 412.9 L71.3 409.1 L72.8 405.5 L74.6 402 L76.7 398.7" fill="none" stroke="#111" stroke-width="0.9" stroke-linecap="round" stroke-dasharray="0.1 2.2"/>
<path d="M62.4 415.5 L63.4 411 L64.7 406.7 L66.5 402.5 L68.6 398.5" fill="none" stroke="#111" stroke-width="0.9" stroke-linecap="round" stroke-dasharray="0.1 2.2"/>
<path d="M63.4 453.5 L61.5 449.9 L59.8 446.2 L58.4 442.4" fill="none" stroke="#111" stroke-width="0.9" stroke-linecap="round" stroke-dasharray="0.1 2.2"/>
<path d="M59.3 458.4 L56.8 454.1 L54.7 449.5 L52.9 444.8 L51.5 440" fill="none" stroke="#111" stroke-width="0.9" stroke-linecap="round" stroke-dasharray="0.1 2.2"/>
<path d="M34.1 382.2 L37.3 376.8 L40.8 371.6 L44.7 366.6" fill="none" stroke="#111" stroke-width="0.9" stroke-linecap="round" stroke-dasharray="0.1 2.4"/>
<path d="M39.4 385.1 L43.7 377.9 L48.6 371.3 L54.2 365.1" fill="none" stroke="#111" stroke-width="0.9" stroke-linecap="round" stroke-dasharray="0.1 2.4"/>
<path d="M19 432.8 L18.6 424.5 L19 416.2 L20 408" fill="none" stroke="#111" stroke-width="0.9" stroke-linecap="round" stroke-dasharray="0.1 2.4"/>
<path d="M40.8 485.6 L35.8 479 L31.3 472 L27.5 464.6 L24.3 457" fill="none" stroke="#111" stroke-width="0.9" stroke-linecap="round" stroke-dasharray="0.1 2.4"/>
<path d="M194.4 398.2 L191.5 390.4 L187.7 382.9 L183.2 375.7" fill="none" stroke="#111" stroke-width="0.9" stroke-linecap="round" stroke-dasharray="0.1 2.4"/>
<path d="M202.5 400.7 L199.7 392 L196.1 383.7 L191.6 375.7" fill="none" stroke="#111" stroke-width="0.9" stroke-linecap="round" stroke-dasharray="0.1 2.4"/>
<path d="M186.9 397.8 L184.3 391.5 L181.1 385.5 L177.5 379.8" fill="none" stroke="#111" stroke-width="0.9" stroke-linecap="round" stroke-dasharray="0.1 2.4"/>
<polygon points="64.9,449.2 79.8,443.9 97.4,455.3 92.2,473.8 77.2,498.4 72,499.3 67.5,496.6 58.7,501.9 48.2,499.7 40.5,499.7 30,491.4 35.1,486.1 45.6,484.4 54.3,470.3 66.7,453.7" fill="#fff"/>
<g stroke="#d0d0d0" stroke-width="0.3" opacity="0.55"><line x1="113.6" y1="426.6" x2="113.6" y2="529"/><line x1="114.6" y1="426.3" x2="165.8" y2="515"/><line x1="115.4" y1="425.5" x2="204.1" y2="476.8"/><line x1="115.7" y1="424.5" x2="218.1" y2="424.5"/><line x1="115.4" y1="423.5" x2="204.1" y2="372.2"/><line x1="114.6" y1="422.7" x2="165.8" y2="334"/><line x1="113.6" y1="422.4" x2="113.6" y2="320"/><line x1="112.6" y1="422.7" x2="61.3" y2="334"/><line x1="111.8" y1="423.5" x2="23.1" y2="372.2"/><line x1="111.5" y1="424.5" x2="9.1" y2="424.5"/><line x1="111.8" y1="425.5" x2="23.1" y2="476.8"/><line x1="112.6" y1="426.3" x2="61.3" y2="515"/><circle cx="113.6" cy="424.5" r="39" fill="none"/><circle cx="113.6" cy="424.5" r="78" fill="none"/></g>
</g>
<circle cx="113.6" cy="424.5" r="104.5" fill="none" stroke="#111" stroke-width="1.5"/>
<rect x="224.5" y="319.1" width="13.2" height="210.6" fill="#770522"/>
<rect x="224.5" y="327.9" width="13.2" height="201.8" fill="#960f26"/>
<rect x="224.5" y="336.7" width="13.2" height="193.1" fill="#b31b2c"/>
<rect x="224.5" y="345.4" width="13.2" height="184.3" fill="#c2393b"/>
<rect x="224.5" y="354.2" width="13.2" height="175.5" fill="#d25749"/>
<rect x="224.5" y="363" width="13.2" height="166.7" fill="#df745c"/>
<rect x="224.5" y="371.8" width="13.2" height="158" fill="#eb9173"/>
<rect x="224.5" y="380.5" width="13.2" height="149.2" fill="#f5ac8b"/>
<rect x="224.5" y="389.3" width="13.2" height="140.4" fill="#f9c2a7"/>
<rect x="224.5" y="398.1" width="13.2" height="131.6" fill="#fdd9c4"/>
<rect x="224.5" y="406.9" width="13.2" height="122.9" fill="#fbe6d9"/>
<rect x="224.5" y="415.6" width="13.2" height="114.1" fill="#f8f1ed"/>
<rect x="224.5" y="424.4" width="13.2" height="105.3" fill="#eff3f6"/>
<rect x="224.5" y="433.2" width="13.2" height="96.5" fill="#dfecf3"/>
<rect x="224.5" y="442" width="13.2" height="87.8" fill="#cee4ef"/>
<rect x="224.5" y="450.7" width="13.2" height="79" fill="#b4d6e8"/>
<rect x="224.5" y="459.5" width="13.2" height="70.2" fill="#9ac9e0"/>
<rect x="224.5" y="468.3" width="13.2" height="61.4" fill="#7bb6d6"/>
<rect x="224.5" y="477.1" width="13.2" height="52.6" fill="#5aa2cb"/>
<rect x="224.5" y="485.8" width="13.2" height="43.9" fill="#3f8dc0"/>
<rect x="224.5" y="494.6" width="13.2" height="35.1" fill="#317bb7"/>
<rect x="224.5" y="503.4" width="13.2" height="26.3" fill="#2268ad"/>
<rect x="224.5" y="512.2" width="13.2" height="17.5" fill="#165290"/>
<rect x="224.5" y="520.9" width="13.2" height="8.8" fill="#0b3b71"/>
<rect x="224.5" y="319.1" width="13.2" height="210.6" fill="none" stroke="#999" stroke-width="0.4"/>
<g font-family="Liberation Sans, sans-serif" font-size="6.8" fill="#222">
<line x1="236.2" y1="319.1" x2="237.7" y2="319.1" stroke="#444" stroke-width="0.4"/>
<text x="240.5" y="321.9">3</text>
<line x1="236.2" y1="354.2" x2="237.7" y2="354.2" stroke="#444" stroke-width="0.4"/>
<text x="240.5" y="357">2</text>
<line x1="236.2" y1="389.3" x2="237.7" y2="389.3" stroke="#444" stroke-width="0.4"/>
<text x="240.5" y="392.1">1</text>
<line x1="236.2" y1="424.4" x2="237.7" y2="424.4" stroke="#444" stroke-width="0.4"/>
<text x="240.5" y="427.2">0</text>
<line x1="236.2" y1="459.5" x2="237.7" y2="459.5" stroke="#444" stroke-width="0.4"/>
<text x="240.5" y="462.3">-1</text>
<line x1="236.2" y1="494.6" x2="237.7" y2="494.6" stroke="#444" stroke-width="0.4"/>
<text x="240.5" y="497.4">-2</text>
<line x1="236.2" y1="529.7" x2="237.7" y2="529.7" stroke="#444" stroke-width="0.4"/>
<text x="240.5" y="532.5">-3</text>
</g>
<!-- panel d -->
<g font-family="Liberation Sans, sans-serif" font-size="7.6" fill="#333" text-anchor="middle">
<text transform="translate(426.8 315.5) rotate(0)" y="2.7">180<tspan dy="-2.2" font-size="5">°</tspan><tspan dy="2.2"> </tspan>E</text>
<text transform="translate(482.2 327.6) rotate(30)" y="2.7">150<tspan dy="-2.2" font-size="5">°</tspan><tspan dy="2.2"> </tspan>E</text>
<text transform="translate(521.2 369.1) rotate(60)" y="2.7">120<tspan dy="-2.2" font-size="5">°</tspan><tspan dy="2.2"> </tspan>E</text>
<text transform="translate(537.3 423.6) rotate(-90)" y="2.7">90<tspan dy="-2.2" font-size="5">°</tspan><tspan dy="2.2"> </tspan>E</text>
<text transform="translate(523.8 479.6) rotate(-60)" y="2.7">60<tspan dy="-2.2" font-size="5">°</tspan><tspan dy="2.2"> </tspan>E</text>
<text transform="translate(482.2 519.6) rotate(-30)" y="2.7">30<tspan dy="-2.2" font-size="5">°</tspan><tspan dy="2.2"> </tspan>E</text>
<text transform="translate(426.8 534.3) rotate(0)" y="2.7">0</text>
<text transform="translate(371.4 519.6) rotate(30)" y="2.7">30<tspan dy="-2.2" font-size="5">°</tspan><tspan dy="2.2"> </tspan>W</text>
<text transform="translate(329.8 479.6) rotate(60)" y="2.7">60<tspan dy="-2.2" font-size="5">°</tspan><tspan dy="2.2"> </tspan>W</text>
<text transform="translate(316.3 423.6) rotate(90)" y="2.7">90<tspan dy="-2.2" font-size="5">°</tspan><tspan dy="2.2"> </tspan>W</text>
<text transform="translate(332.4 369.1) rotate(300)" y="2.7">120<tspan dy="-2.2" font-size="5">°</tspan><tspan dy="2.2"> </tspan>W</text>
<text transform="translate(371.4 327.6) rotate(330)" y="2.7">150<tspan dy="-2.2" font-size="5">°</tspan><tspan dy="2.2"> </tspan>W</text>
</g>
<clipPath id="cpd"><circle cx="426.8" cy="423.6" r="105.5"/></clipPath>
<g clip-path="url(#cpd)">
<rect x="319.3" y="316.1" width="215" height="215" fill="#eff3f6"/>
<g filter="url(#bld)">
<polygon points="352,345 372,345 372,362 355,364" fill="#fdd9c4"/>
<polygon points="386,336 404,336 402,352 388,352" fill="#fdd9c4"/>
<polygon points="370,368 390,366 394,395 376,392" fill="#fdd9c4"/>
<ellipse cx="410" cy="350" rx="7" ry="6" transform="rotate(0 410 350)" fill="#fdd9c4"/>
<ellipse cx="329" cy="396" rx="6" ry="8" transform="rotate(0 329 396)" fill="#fdd9c4"/>
<ellipse cx="338" cy="372" rx="8" ry="6" transform="rotate(0 338 372)" fill="#fbe6d9"/>
<polygon points="438,322 468,328 466,338 440,334" fill="#fdd9c4"/>
<polygon points="480,350 505,345 520,380 518,400 495,398 485,375" fill="#fbe6d9"/>
<polygon points="452,372 475,375 480,395 462,402 450,392" fill="#f9c2a7"/>
<polygon points="357,452 376,450 372,470 358,476" fill="#fdd9c4"/>
<ellipse cx="338" cy="452" rx="8" ry="6" transform="rotate(0 338 452)" fill="#fdd9c4"/>
<ellipse cx="330" cy="432" rx="5" ry="6" transform="rotate(0 330 432)" fill="#fdd9c4"/>
<polygon points="398,500 420,498 424,524 400,526" fill="#f9c2a7"/>
<ellipse cx="473" cy="471" rx="8" ry="6" transform="rotate(0 473 471)" fill="#fbe6d9"/>
<ellipse cx="466" cy="507" rx="9" ry="6" transform="rotate(0 466 507)" fill="#fbe6d9"/>
<ellipse cx="455" cy="485" rx="6" ry="5" transform="rotate(0 455 485)" fill="#fbe6d9"/>
<ellipse cx="437" cy="447" rx="9" ry="10" transform="rotate(0 437 447)" fill="#fdd9c4"/>
<ellipse cx="524" cy="420" rx="4" ry="14" transform="rotate(0 524 420)" fill="#fbe6d9"/>
<polygon points="350,400 380,392 400,385 425,400 440,425 455,440 430,440 400,432 375,425 352,415" fill="#b4d6e8"/>
<path d="M421 322 L424 345 L438 352 L456 356" fill="none" stroke="#cee4ef" stroke-width="8" stroke-linecap="round" stroke-linejoin="round"/>
<path d="M415 345 L406 370" fill="none" stroke="#cee4ef" stroke-width="7" stroke-linecap="round" stroke-linejoin="round"/>
<ellipse cx="421.5" cy="330" rx="4" ry="9" transform="rotate(0 421.5 330)" fill="#7bb6d6"/>
<ellipse cx="376" cy="348" rx="5" ry="4" transform="rotate(0 376 348)" fill="#b4d6e8"/>
<polygon points="386.7,390.9 412.7,384.4 428.3,403.9 430.9,429.9 407.5,428.6 391.9,413.1" fill="#9ac9e0"/>
<polygon points="391.1,394.3 412.1,389.1 424.7,404.8 426.8,425.8 407.9,424.8 395.3,412.2" fill="#5aa2cb"/>
<polygon points="395.6,397.7 411.5,393.7 421.1,405.7 422.7,421.7 408.3,420.9 398.8,411.3" fill="#3f8dc0"/>
<polygon points="400,401.1 410.9,398.4 417.5,406.6 418.6,417.5 408.8,417 402.2,410.4" fill="#317bb7"/>
<path d="M440 400 L456 414 L476 419" fill="none" stroke="#b4d6e8" stroke-width="9" stroke-linecap="round" stroke-linejoin="round"/>
<ellipse cx="356" cy="440" rx="7" ry="9" transform="rotate(0 356 440)" fill="#b4d6e8"/>
<ellipse cx="338" cy="432" rx="6" ry="6" transform="rotate(0 338 432)" fill="#cee4ef"/>
<ellipse cx="433" cy="481" rx="9" ry="8" transform="rotate(0 433 481)" fill="#b4d6e8"/>
<ellipse cx="412" cy="489" rx="6" ry="6" transform="rotate(0 412 489)" fill="#cee4ef"/>
<ellipse cx="455" cy="455" rx="10" ry="11" transform="rotate(-20 455 455)" fill="#b4d6e8"/>
<ellipse cx="476" cy="430" rx="9" ry="5" transform="rotate(0 476 430)" fill="#b4d6e8"/>
<ellipse cx="496" cy="471" rx="7" ry="6" transform="rotate(0 496 471)" fill="#cee4ef"/>
<ellipse cx="390" cy="496" rx="5" ry="5" transform="rotate(0 390 496)" fill="#cee4ef"/>
<ellipse cx="426" cy="388" rx="7.8" ry="9.1" transform="rotate(0 426 388)" fill="#f9c2a7"/>
<ellipse cx="426" cy="388" rx="3.3" ry="3.8" transform="rotate(0 426 388)" fill="#df745c"/>
<ellipse cx="437" cy="419" rx="7.8" ry="6.5" transform="rotate(20 437 419)" fill="#f9c2a7"/>
<ellipse cx="437" cy="419" rx="3.3" ry="2.7" transform="rotate(20 437 419)" fill="#d25749"/>
<ellipse cx="464" cy="391" rx="11.7" ry="6.5" transform="rotate(-10 464 391)" fill="#f9c2a7"/>
<ellipse cx="464" cy="391" rx="4.9" ry="2.7" transform="rotate(-10 464 391)" fill="#df745c"/>
<ellipse cx="437" cy="451" rx="4" ry="5" transform="rotate(0 437 451)" fill="#eb9173"/>
<path d="M372 462 L378 453" fill="none" stroke="#df745c" stroke-width="3" stroke-linecap="round" stroke-linejoin="round"/>
<ellipse cx="368" cy="505" rx="7" ry="4" transform="rotate(20 368 505)" fill="#eb9173"/>
<ellipse cx="410" cy="512" rx="4" ry="4" transform="rotate(0 410 512)" fill="#f5ac8b"/>
</g>
<g stroke="#d0d0d0" stroke-width="0.3" opacity="0.55"><line x1="426.8" y1="425.7" x2="426.8" y2="529.1"/><line x1="427.9" y1="425.4" x2="479.6" y2="515"/><line x1="428.6" y1="424.7" x2="518.2" y2="476.4"/><line x1="428.9" y1="423.6" x2="532.3" y2="423.6"/><line x1="428.6" y1="422.5" x2="518.2" y2="370.9"/><line x1="427.9" y1="421.8" x2="479.6" y2="332.2"/><line x1="426.8" y1="421.5" x2="426.8" y2="318.1"/><line x1="425.7" y1="421.8" x2="374.1" y2="332.2"/><line x1="425" y1="422.5" x2="335.4" y2="370.8"/><line x1="424.7" y1="423.6" x2="321.3" y2="423.6"/><line x1="425" y1="424.7" x2="335.4" y2="476.4"/><line x1="425.7" y1="425.4" x2="374" y2="515"/><circle cx="426.8" cy="423.6" r="39.4" fill="none"/><circle cx="426.8" cy="423.6" r="78.7" fill="none"/></g>
<g font-family="Liberation Sans, sans-serif" font-size="7.8" fill="#444" text-anchor="end">
<text x="423.8" y="426.4">90<tspan dy="-2.2" font-size="5">°</tspan><tspan dy="2.2"> N</tspan></text>
<text x="423.8" y="387">80<tspan dy="-2.2" font-size="5">°</tspan><tspan dy="2.2"> N</tspan></text>
<text x="423.8" y="347.7">70<tspan dy="-2.2" font-size="5">°</tspan><tspan dy="2.2"> N</tspan></text>
</g>
<use href="#coast" transform="translate(426.8 423.6) scale(105.5)"/>
<polygon points="522.5,406 534,404 534,443 522,443" fill="#fff"/><path d="M432.6 323.1 C432.7 324.6 432.1 330.1 433.1 332.1 C434 334.2 436.3 335.2 438.3 335.5 C440.3 335.8 443.9 334.2 445.1 334" fill="none" stroke="#111" stroke-width="0.9" stroke-linecap="round" stroke-linejoin="round"/>
<path d="M468.4 332.1 C468.5 333.3 468.9 335.9 469.3 338.9 C469.7 342 470.1 346.1 470.6 350.2 C471.1 354.4 471 360.4 472.2 363.8 C473.4 367.2 475.8 368.3 477.9 370.6 C479.9 372.9 482.4 375.1 484.7 377.4 C486.9 379.7 489.4 381.5 491.4 384.2 C493.5 386.8 495.8 390.2 497.1 393.2 C498.4 396.3 499.4 398.9 499.4 402.3 C499.4 405.7 497.9 409.8 497.1 413.6 C496.3 417.4 495.4 421.3 494.8 424.9 C494.3 428.5 493.9 433.4 493.7 435.1" fill="none" stroke="#111" stroke-width="0.9" stroke-linecap="round" stroke-linejoin="round"/>
<path d="M423.6 346.9 C424.3 347.4 426.6 348.2 428.1 350.2 C429.6 352.3 430 356.7 432.6 359.3 C435.3 361.9 440.9 364.2 443.9 366.1 C447 368 449.2 368 450.7 370.6 C452.2 373.3 452.2 377.8 453 381.9 C453.7 386.1 454.3 391.7 455.2 395.5 C456.2 399.3 457.5 401.5 458.6 404.5 C459.8 407.6 461.3 410.6 462 413.6 C462.8 416.6 463.5 420.2 463.2 422.6 C462.8 425.1 461.8 427.9 459.8 428.3 C457.7 428.7 453.4 426 450.7 424.9 C448.1 423.8 446.6 422.6 443.9 421.5 C441.3 420.4 437 418.3 434.9 418.1 C432.8 417.9 432.2 419.3 431.5 420.4 C430.7 421.5 430.6 424.2 430.4 424.9" fill="none" stroke="#111" stroke-width="0.9" stroke-linecap="round" stroke-linejoin="round"/>
<path d="M518.6 379.7 C518.8 381.5 519.8 387.2 519.7 391 C519.7 394.7 518.7 398.5 518.1 402.3 C517.6 406.1 516.7 410.2 516.3 413.6 C516 417 516.1 419.6 515.9 422.6 C515.7 425.7 515.3 430.2 515.2 431.7" fill="none" stroke="#111" stroke-width="0.9" stroke-linecap="round" stroke-linejoin="round"/>
<path d="M494.8 410 C494.7 412.3 493.5 419.8 493.7 423.6 C493.9 427.3 495.4 429.2 496 432.6 C496.5 436 497.3 439.8 497.1 443.9 C496.9 448.1 495.8 453.4 494.8 457.5 C493.9 461.7 492.6 465.1 491.4 468.8 C490.3 472.6 489 476.7 488.1 480.1 C487.1 483.5 487.5 487.1 485.8 489.2 C484.1 491.3 481.1 491.8 477.9 492.6 C474.7 493.3 470 493 466.6 493.7 C463.2 494.5 460.2 495.2 457.5 497.1 C454.9 499 453 502.6 450.7 505 C448.5 507.5 446.6 509.5 443.9 511.8 C441.3 514.1 437 516.9 434.9 518.6 C432.8 520.3 432.1 521.4 431.5 522" fill="none" stroke="#111" stroke-width="0.9" stroke-linecap="round" stroke-linejoin="round"/>
<path d="M516.3 421.3 C516.3 423.2 516.1 429.8 515.9 432.6 C515.7 435.5 515.3 437.3 515.2 438.3" fill="none" stroke="#111" stroke-width="0.9" stroke-linecap="round" stroke-linejoin="round"/>
<path d="M512.9 460.9 C512.8 462.6 512.4 467.9 511.8 471.1 C511.2 474.3 510.1 478.3 509.5 480.1 C509 482 508.6 482 508.4 482.4" fill="none" stroke="#111" stroke-width="0.9" stroke-linecap="round" stroke-linejoin="round"/>
<path d="M410 425.8 C411.5 426 416 427 419 427 C422.1 427 425.8 427 428.1 425.8 C430.4 424.7 431.9 421.1 432.6 420.2" fill="none" stroke="#111" stroke-width="0.9" stroke-linecap="round" stroke-linejoin="round"/>
<path d="M446.2 448.5 C448.1 447 452.2 445.8 455.2 446.2 C458.3 446.6 462.4 448.5 464.3 450.7 C466.2 453 466.6 456.8 466.6 459.8 C466.6 462.8 465.2 466.4 464.3 468.8 C463.4 471.3 462.4 474.1 460.9 474.5 C459.4 474.9 456.9 472.4 455.2 471.1 C453.6 469.8 452.2 467.7 450.7 466.6 C449.2 465.4 447.3 466.2 446.2 464.3 C445.1 462.4 443.9 457.9 443.9 455.2 C443.9 452.6 444.3 450 446.2 448.5Z" fill="none" stroke="#111" stroke-width="0.9" stroke-linecap="round" stroke-linejoin="round"/>
<path d="M427 482.4 C427.5 481.1 430.7 480.3 432.6 480.1 C434.5 479.9 437.5 480.1 438.3 481.3 C439 482.4 437.5 485.2 437.1 486.9 C436.8 488.6 437 490.5 436 491.4 C435.1 492.4 432.6 493.1 431.5 492.6 C430.4 492 430 489.8 429.2 488.1 C428.5 486.4 426.4 483.7 427 482.4Z" fill="none" stroke="#111" stroke-width="0.9" stroke-linecap="round" stroke-linejoin="round"/>
<path d="M376.1 430.4 C377.2 429.2 380.6 425.1 382.9 423.6 C385.1 422.1 386.6 420.9 389.7 421.3 C392.7 421.7 397.2 424.3 401 425.8 C404.7 427.3 408.9 428.9 412.3 430.4 C415.7 431.9 419.3 433.2 421.3 434.9 C423.4 436.6 424 437.1 424.7 440.5 C425.5 443.9 426 451.3 425.9 455.2 C425.7 459.2 424.9 461.7 423.6 464.3 C422.3 466.9 419.8 468.8 417.9 471.1 C416.1 473.3 414 476 412.3 477.9 C410.6 479.8 408.5 481.6 407.8 482.4" fill="none" stroke="#111" stroke-width="0.9" stroke-linecap="round" stroke-linejoin="round"/>
<path d="M425.9 484.7 C426.2 483 429.6 481.6 431.5 481.3 C433.4 480.9 436 481.3 437.2 482.4 C438.3 483.5 438.7 486.4 438.3 488.1 C437.9 489.8 436.4 492 434.9 492.6 C433.4 493.1 430.8 492.8 429.3 491.4 C427.7 490.1 425.5 486.4 425.9 484.7Z" fill="none" stroke="#111" stroke-width="0.9" stroke-linecap="round" stroke-linejoin="round"/>
<path d="M361.4 454.1 C362.7 452.6 366.7 451.9 368.2 451.9 C369.7 451.9 370.8 452.6 370.4 454.1 C370.1 455.6 367.6 459.8 365.9 460.9 C364.2 462 361 462 360.2 460.9 C359.5 459.8 360.1 455.6 361.4 454.1Z" fill="none" stroke="#111" stroke-width="0.9" stroke-linecap="round" stroke-linejoin="round"/>
<path d="M344.4 477.9 C345.5 476.9 349.1 473.9 351.2 472.2 C353.3 470.5 355.3 468.8 356.9 467.7 C358.4 466.6 359.7 465.8 360.2 465.4" fill="none" stroke="#111" stroke-width="0.9" stroke-linecap="round" stroke-linejoin="round"/>
<path d="M328.6 439.4 C330.1 440.4 335.4 443.7 337.6 445.1 C339.9 446.4 340.8 445.6 342.1 447.3 C343.5 449 345.9 452.8 345.5 455.2 C345.2 457.7 341.6 460.5 339.9 462 C338.2 463.5 336.1 463.9 335.4 464.3" fill="none" stroke="#111" stroke-width="0.9" stroke-linecap="round" stroke-linejoin="round"/>
<path d="M382.9 509.5 C384 510.1 387.6 511.8 389.7 512.9 C391.7 514.1 393.4 515.4 395.3 516.3 C397.2 517.3 399.3 517.7 401 518.6 C402.7 519.5 404.7 521.4 405.5 522" fill="none" stroke="#111" stroke-width="0.9" stroke-linecap="round" stroke-linejoin="round"/>
<path d="M431.5 522 C432.1 521 432.6 518.4 434.9 516.3 C437.2 514.3 443.4 510.7 445.1 509.5" fill="none" stroke="#111" stroke-width="0.9" stroke-linecap="round" stroke-linejoin="round"/>
<path d="M387.4 329.9 C388.7 330.5 392.9 331.8 395.3 333.3 C397.8 334.8 401.2 336.3 402.1 338.9 C403 341.6 403 347 401 349.1 C398.9 351.2 393.4 350.2 389.7 351.4 C385.9 352.5 381.7 353.8 378.3 355.9 C375 358 372.3 361.2 369.3 363.8 C366.3 366.5 363.1 369.9 360.2 371.7 C357.4 373.6 354.2 373.4 352.3 375.1 C350.4 376.8 349.1 379.7 348.9 381.9 C348.7 384.2 351.2 386.4 351.2 388.7 C351.2 391 350.1 392.9 348.9 395.5 C347.8 398.1 345.5 400.8 344.4 404.5 C343.3 408.3 343.3 413.6 342.1 418.1 C341 422.6 338.4 429.4 337.6 431.7" fill="none" stroke="#111" stroke-width="0.9" stroke-linecap="round" stroke-linejoin="round"/>
<path d="M425.9 346.9 C425.1 347.4 423.6 348.2 421.3 350.2 C419.1 352.3 415.3 356.7 412.3 359.3 C409.3 361.9 406.3 364.2 403.2 366.1 C400.2 368 396.4 368.3 394.2 370.6 C391.9 372.9 390.2 376.3 389.7 379.7 C389.1 383.1 390.8 388.3 390.8 391 C390.8 393.6 391.4 394.6 389.7 395.5 C388 396.4 382.9 395.9 380.6 396.6 C378.3 397.4 376.7 398.3 376.1 400 C375.5 401.7 375 405.7 377.2 406.8 C379.5 407.9 384.9 406.1 389.7 406.8 C394.4 407.6 402.9 410.6 405.5 411.3" fill="none" stroke="#111" stroke-width="0.9" stroke-linecap="round" stroke-linejoin="round"/>
<text transform="translate(469.3 338.9) rotate(0)" font-family="Liberation Sans, sans-serif" font-weight="bold" font-size="6" text-anchor="middle" y="2.2" fill="#000">4</text>
<text transform="translate(446.2 332.6) rotate(-40)" font-family="Liberation Sans, sans-serif" font-weight="bold" font-size="6" text-anchor="middle" y="2.2" fill="#000">4</text>
<text transform="translate(434.9 417.4) rotate(0)" font-family="Liberation Sans, sans-serif" font-weight="bold" font-size="6" text-anchor="middle" y="2.2" fill="#000">6</text>
<text transform="translate(515.9 423.1) rotate(80)" font-family="Liberation Sans, sans-serif" font-weight="bold" font-size="6" text-anchor="middle" y="2.2" fill="#000">2</text>
<text transform="translate(431.5 521.3) rotate(0)" font-family="Liberation Sans, sans-serif" font-weight="bold" font-size="6" text-anchor="middle" y="2.2" fill="#000">4</text>
<text transform="translate(511.8 472.2) rotate(80)" font-family="Liberation Sans, sans-serif" font-weight="bold" font-size="6" text-anchor="middle" y="2.2" fill="#000">2</text>
<text transform="translate(449.6 437.1) rotate(0)" font-family="Liberation Sans, sans-serif" font-weight="bold" font-size="6" text-anchor="middle" y="2.2" fill="#000">6</text>
<text transform="translate(465.4 433.8) rotate(0)" font-family="Liberation Sans, sans-serif" font-weight="bold" font-size="6" text-anchor="middle" y="2.2" fill="#000">8</text>
<text transform="translate(433.8 491.4) rotate(0)" font-family="Liberation Sans, sans-serif" font-weight="bold" font-size="6" text-anchor="middle" y="2.2" fill="#000">6</text>
<text transform="translate(446.2 463.2) rotate(0)" font-family="Liberation Sans, sans-serif" font-weight="bold" font-size="6" text-anchor="middle" y="2.2" fill="#000">8</text>
<text transform="translate(425.2 454.1) rotate(0)" font-family="Liberation Sans, sans-serif" font-weight="bold" font-size="6" text-anchor="middle" y="2.2" fill="#000">4</text>
<text transform="translate(385.1 509.5) rotate(0)" font-family="Liberation Sans, sans-serif" font-weight="bold" font-size="6" text-anchor="middle" y="2.2" fill="#000">6</text>
<text transform="translate(395.3 515.9) rotate(0)" font-family="Liberation Sans, sans-serif" font-weight="bold" font-size="6" text-anchor="middle" y="2.2" fill="#000">4</text>
<text transform="translate(431.5 522) rotate(0)" font-family="Liberation Sans, sans-serif" font-weight="bold" font-size="6" text-anchor="middle" y="2.2" fill="#000">4</text>
<text transform="translate(350.1 473.3) rotate(-40)" font-family="Liberation Sans, sans-serif" font-weight="bold" font-size="6" text-anchor="middle" y="2.2" fill="#000">4</text>
<text transform="translate(362.5 458.6) rotate(0)" font-family="Liberation Sans, sans-serif" font-weight="bold" font-size="6" text-anchor="middle" y="2.2" fill="#000">4</text>
<text transform="translate(336.5 444.4) rotate(20)" font-family="Liberation Sans, sans-serif" font-weight="bold" font-size="6" text-anchor="middle" y="2.2" fill="#000">4</text>
<text transform="translate(377.2 430.8) rotate(0)" font-family="Liberation Sans, sans-serif" font-weight="bold" font-size="6" text-anchor="middle" y="2.2" fill="#000">5</text>
<text transform="translate(434.2 490.8) rotate(0)" font-family="Liberation Sans, sans-serif" font-weight="bold" font-size="6" text-anchor="middle" y="2.2" fill="#000">6</text>
<text transform="translate(400.5 349.1) rotate(0)" font-family="Liberation Sans, sans-serif" font-weight="bold" font-size="6" text-anchor="middle" y="2.2" fill="#000">4</text>
<text transform="translate(382.2 396.6) rotate(0)" font-family="Liberation Sans, sans-serif" font-weight="bold" font-size="6" text-anchor="middle" y="2.2" fill="#000">5</text>
<path d="M419.3 426.3 L419.1 425.6 L418.9 424.9 L418.8 424.1 L418.8 423.3 L418.9 422.6 L419 421.8 L419.2 421.1 L419.5 420.3 L419.8 419.7 L420.2 419" fill="none" stroke="#111" stroke-width="1.2" stroke-linecap="round"/>
<path d="M409.9 425.1 L409.8 423.4 L409.9 421.7 L410.2 420.1 L410.6 418.5 L411.2 416.9 L411.9 415.4 L412.8 414 L413.8 412.7" fill="none" stroke="#111" stroke-width="1.2" stroke-linecap="round"/>
<path d="M400.9 421.3 L401.3 418.8 L401.9 416.2 L402.7 413.8 L403.8 411.5 L405.1 409.2 L406.7 407.1 L408.4 405.2" fill="none" stroke="#111" stroke-width="1.2" stroke-linecap="round"/>
<path d="M392.3 417.5 L393 414.5 L393.9 411.6 L395.1 408.8 L396.5 406.1 L398.1 403.5 L400 401.1" fill="none" stroke="#111" stroke-width="1.2" stroke-linecap="round"/>
<path d="M388.7 401.6 L390.8 398.4 L393.1 395.3 L395.7 392.5" fill="none" stroke="#111" stroke-width="0.9" stroke-linecap="round" stroke-dasharray="0.1 2.2"/>
<path d="M459.7 371 L455.9 368.9 L452 367 L448 365.3" fill="none" stroke="#111" stroke-width="0.9" stroke-linecap="round" stroke-dasharray="0.1 2.4"/>
<path d="M485.9 377.4 L482.5 373.4 L478.9 369.6 L475 366.1" fill="none" stroke="#111" stroke-width="0.9" stroke-linecap="round" stroke-dasharray="0.1 2.4"/>
<path d="M496.5 417.5 L495.7 411.4 L494.4 405.5 L492.6 399.7" fill="none" stroke="#111" stroke-width="0.9" stroke-linecap="round" stroke-dasharray="0.1 2.4"/>
<path d="M500.1 450.3 L502.1 443.8 L503.6 437.1 L504.5 430.4" fill="none" stroke="#111" stroke-width="0.9" stroke-linecap="round" stroke-dasharray="0.1 2.4"/>
<path d="M415.9 464.2 L412.4 463.1 L409.1 461.7 L405.8 460" fill="none" stroke="#111" stroke-width="0.9" stroke-linecap="round" stroke-dasharray="0.1 2.4"/>
<polygon points="377.6,448.5 392.7,443.2 410.4,454.7 405.2,473.4 390.1,498.2 384.8,499.1 380.3,496.4 371.4,501.8 360.8,499.6 353,499.6 342.4,491.1 347.6,485.7 358.1,484.1 367,469.8 379.4,453" fill="#fff"/>
<g stroke="#d0d0d0" stroke-width="0.3" opacity="0.55"><line x1="426.8" y1="425.7" x2="426.8" y2="529.1"/><line x1="427.9" y1="425.4" x2="479.6" y2="515"/><line x1="428.6" y1="424.7" x2="518.2" y2="476.4"/><line x1="428.9" y1="423.6" x2="532.3" y2="423.6"/><line x1="428.6" y1="422.5" x2="518.2" y2="370.9"/><line x1="427.9" y1="421.8" x2="479.6" y2="332.2"/><line x1="426.8" y1="421.5" x2="426.8" y2="318.1"/><line x1="425.7" y1="421.8" x2="374.1" y2="332.2"/><line x1="425" y1="422.5" x2="335.4" y2="370.8"/><line x1="424.7" y1="423.6" x2="321.3" y2="423.6"/><line x1="425" y1="424.7" x2="335.4" y2="476.4"/><line x1="425.7" y1="425.4" x2="374" y2="515"/><circle cx="426.8" cy="423.6" r="39.4" fill="none"/><circle cx="426.8" cy="423.6" r="78.7" fill="none"/></g>
</g>
<circle cx="426.8" cy="423.6" r="105.5" fill="none" stroke="#111" stroke-width="1.5"/>
<rect x="538.8" y="317.7" width="13.2" height="212" fill="#770522"/>
<rect x="538.8" y="326.5" width="13.2" height="203.2" fill="#960f26"/>
<rect x="538.8" y="335.4" width="13.2" height="194.3" fill="#b31b2c"/>
<rect x="538.8" y="344.2" width="13.2" height="185.5" fill="#c2393b"/>
<rect x="538.8" y="353" width="13.2" height="176.7" fill="#d25749"/>
<rect x="538.8" y="361.9" width="13.2" height="167.8" fill="#df745c"/>
<rect x="538.8" y="370.7" width="13.2" height="159" fill="#eb9173"/>
<rect x="538.8" y="379.5" width="13.2" height="150.2" fill="#f5ac8b"/>
<rect x="538.8" y="388.4" width="13.2" height="141.3" fill="#f9c2a7"/>
<rect x="538.8" y="397.2" width="13.2" height="132.5" fill="#fdd9c4"/>
<rect x="538.8" y="406" width="13.2" height="123.7" fill="#fbe6d9"/>
<rect x="538.8" y="414.9" width="13.2" height="114.8" fill="#f8f1ed"/>
<rect x="538.8" y="423.7" width="13.2" height="106" fill="#eff3f6"/>
<rect x="538.8" y="432.5" width="13.2" height="97.2" fill="#dfecf3"/>
<rect x="538.8" y="441.4" width="13.2" height="88.3" fill="#cee4ef"/>
<rect x="538.8" y="450.2" width="13.2" height="79.5" fill="#b4d6e8"/>
<rect x="538.8" y="459" width="13.2" height="70.7" fill="#9ac9e0"/>
<rect x="538.8" y="467.9" width="13.2" height="61.8" fill="#7bb6d6"/>
<rect x="538.8" y="476.7" width="13.2" height="53" fill="#5aa2cb"/>
<rect x="538.8" y="485.5" width="13.2" height="44.2" fill="#3f8dc0"/>
<rect x="538.8" y="494.4" width="13.2" height="35.3" fill="#317bb7"/>
<rect x="538.8" y="503.2" width="13.2" height="26.5" fill="#2268ad"/>
<rect x="538.8" y="512" width="13.2" height="17.7" fill="#165290"/>
<rect x="538.8" y="520.9" width="13.2" height="8.8" fill="#0b3b71"/>
<rect x="538.8" y="317.7" width="13.2" height="212" fill="none" stroke="#999" stroke-width="0.4"/>
<g font-family="Liberation Sans, sans-serif" font-size="6.8" fill="#222">
<line x1="550.5" y1="317.7" x2="552" y2="317.7" stroke="#444" stroke-width="0.4"/>
<text x="554.8" y="320.5">3</text>
<line x1="550.5" y1="353" x2="552" y2="353" stroke="#444" stroke-width="0.4"/>
<text x="554.8" y="355.8">2</text>
<line x1="550.5" y1="388.4" x2="552" y2="388.4" stroke="#444" stroke-width="0.4"/>
<text x="554.8" y="391.2">1</text>
<line x1="550.5" y1="423.7" x2="552" y2="423.7" stroke="#444" stroke-width="0.4"/>
<text x="554.8" y="426.5">0</text>
<line x1="550.5" y1="459" x2="552" y2="459" stroke="#444" stroke-width="0.4"/>
<text x="554.8" y="461.8">-1</text>
<line x1="550.5" y1="494.4" x2="552" y2="494.4" stroke="#444" stroke-width="0.4"/>
<text x="554.8" y="497.2">-2</text>
<line x1="550.5" y1="529.7" x2="552" y2="529.7" stroke="#444" stroke-width="0.4"/>
<text x="554.8" y="532.5">-3</text>
</g>
<!-- panel e -->
<g font-family="Liberation Sans, sans-serif" font-size="7.6" fill="#333" text-anchor="middle">
<text transform="translate(115.1 602.3) rotate(0)" y="2.7">180<tspan dy="-2.2" font-size="5">°</tspan><tspan dy="2.2"> </tspan>E</text>
<text transform="translate(168.6 614.7) rotate(30)" y="2.7">150<tspan dy="-2.2" font-size="5">°</tspan><tspan dy="2.2"> </tspan>E</text>
<text transform="translate(206.2 654.8) rotate(60)" y="2.7">120<tspan dy="-2.2" font-size="5">°</tspan><tspan dy="2.2"> </tspan>E</text>
<text transform="translate(221.8 707.4) rotate(-90)" y="2.7">90<tspan dy="-2.2" font-size="5">°</tspan><tspan dy="2.2"> </tspan>E</text>
<text transform="translate(208.8 761.5) rotate(-60)" y="2.7">60<tspan dy="-2.2" font-size="5">°</tspan><tspan dy="2.2"> </tspan>E</text>
<text transform="translate(168.6 800.1) rotate(-30)" y="2.7">30<tspan dy="-2.2" font-size="5">°</tspan><tspan dy="2.2"> </tspan>E</text>
<text transform="translate(115.1 814.3) rotate(0)" y="2.7">0</text>
<text transform="translate(61.6 800.1) rotate(30)" y="2.7">30<tspan dy="-2.2" font-size="5">°</tspan><tspan dy="2.2"> </tspan>W</text>
<text transform="translate(21.4 761.5) rotate(60)" y="2.7">60<tspan dy="-2.2" font-size="5">°</tspan><tspan dy="2.2"> </tspan>W</text>
<text transform="translate(8.4 707.4) rotate(90)" y="2.7">90<tspan dy="-2.2" font-size="5">°</tspan><tspan dy="2.2"> </tspan>W</text>
<text transform="translate(24 654.8) rotate(300)" y="2.7">120<tspan dy="-2.2" font-size="5">°</tspan><tspan dy="2.2"> </tspan>W</text>
<text transform="translate(61.6 614.7) rotate(330)" y="2.7">150<tspan dy="-2.2" font-size="5">°</tspan><tspan dy="2.2"> </tspan>W</text>
</g>
<clipPath id="cpe"><circle cx="115.1" cy="707.4" r="101.7"/></clipPath>
<g clip-path="url(#cpe)">
<rect x="11.4" y="603.7" width="207.4" height="207.4" fill="#f5f5f6"/>
<g filter="url(#ble)">
<polygon points="150,760 185,740 205,750 190,780 160,800 130,805" fill="#fbe6d9"/>
<polygon points="16,690 40,660 62,655 72,690 50,722 18,722" fill="#fbe6d9"/>
<polygon points="150,620 185,630 205,660 190,670 160,650" fill="#fbe6d9"/>
<polygon points="95,608 130,610 128,640 98,640" fill="#fbe6d9"/>
<polygon points="22,690 50,680 70,700 60,720 30,722 18,708" fill="#fbe6d9"/>
<ellipse cx="109" cy="612" rx="6" ry="5" transform="rotate(0 109 612)" fill="#fdd9c4"/>
<ellipse cx="63" cy="633" rx="5" ry="5" transform="rotate(0 63 633)" fill="#f9c2a7"/>
<path d="M50 664 L70 672 L90 676" fill="none" stroke="#f9c2a7" stroke-width="8" stroke-linecap="round" stroke-linejoin="round"/>
<polygon points="98,650 115,650 120,690 100,690" fill="#fdd9c4"/>
<ellipse cx="172" cy="635" rx="9" ry="7" transform="rotate(0 172 635)" fill="#fbe6d9"/>
<ellipse cx="201" cy="692" rx="7" ry="8" transform="rotate(0 201 692)" fill="#fbe6d9"/>
<ellipse cx="133" cy="617" rx="9" ry="5" transform="rotate(0 133 617)" fill="#fbe6d9"/>
<polygon points="70,785 100,760 140,758 165,745 170,770 150,795 120,805 90,800" fill="#fdd9c4"/>
<ellipse cx="57" cy="704" rx="8" ry="6" transform="rotate(0 57 704)" fill="#f9c2a7"/>
<polygon points="84,612 104,612 100,625 88,640 86,660 64,660 62,642 78,628" fill="#b4d6e8"/>
<polygon points="125,632 148,630 152,650 138,658 124,650" fill="#b4d6e8"/>
<polygon points="140,678 160,676 170,700 160,712 140,706" fill="#b4d6e8"/>
<polygon points="100,712 125,706 150,700 150,730 135,750 115,742 100,728" fill="#b4d6e8"/>
<polygon points="122,680 140,674 160,680 170,700 164,718 150,734 132,744 114,734 106,720 114,708 126,702" fill="#9ac9e0"/>
<polygon points="26,735 56,720 64,740 50,768 32,766" fill="#9ac9e0"/>
<ellipse cx="25" cy="735" rx="5" ry="14" transform="rotate(0 25 735)" fill="#dfecf3"/>
<ellipse cx="179" cy="660" rx="6" ry="6" transform="rotate(0 179 660)" fill="#b4d6e8"/>
<ellipse cx="192" cy="658" rx="4" ry="5" transform="rotate(0 192 658)" fill="#cee4ef"/>
<ellipse cx="181" cy="696" rx="6" ry="5" transform="rotate(0 181 696)" fill="#cee4ef"/>
<ellipse cx="170" cy="731" rx="6" ry="6" transform="rotate(0 170 731)" fill="#dfecf3"/>
<ellipse cx="186" cy="750" rx="6" ry="5" transform="rotate(0 186 750)" fill="#dfecf3"/>
<ellipse cx="140" cy="700" rx="7" ry="5" transform="rotate(0 140 700)" fill="#9ac9e0"/>
<ellipse cx="75" cy="650" rx="11.7" ry="9.1" transform="rotate(0 75 650)" fill="#9ac9e0"/>
<ellipse cx="75" cy="650" rx="8.3" ry="6.5" transform="rotate(0 75 650)" fill="#7bb6d6"/>
<ellipse cx="75" cy="650" rx="4.9" ry="3.8" transform="rotate(0 75 650)" fill="#3f8dc0"/>
<ellipse cx="44" cy="641" rx="9.1" ry="7.8" transform="rotate(-40 44 641)" fill="#b4d6e8"/>
<ellipse cx="44" cy="641" rx="3.8" ry="3.3" transform="rotate(-40 44 641)" fill="#7bb6d6"/>
<ellipse cx="136" cy="643" rx="10.4" ry="9.1" transform="rotate(0 136 643)" fill="#b4d6e8"/>
<ellipse cx="136" cy="643" rx="4.4" ry="3.8" transform="rotate(0 136 643)" fill="#7bb6d6"/>
<ellipse cx="152" cy="694" rx="10.4" ry="9.1" transform="rotate(-30 152 694)" fill="#9ac9e0"/>
<ellipse cx="152" cy="694" rx="4.4" ry="3.8" transform="rotate(-30 152 694)" fill="#5aa2cb"/>
<path d="M59 727 L52 744 L45 759" fill="none" stroke="#9ac9e0" stroke-width="11.7" stroke-linecap="round" stroke-linejoin="round"/>
<path d="M59 727 L52 744 L45 759" fill="none" stroke="#5aa2cb" stroke-width="4.9" stroke-linecap="round" stroke-linejoin="round"/>
<path d="M72 722 L88 722 L100 729" fill="none" stroke="#9ac9e0" stroke-width="11.7" stroke-linecap="round" stroke-linejoin="round"/>
<path d="M72 722 L88 722 L100 729" fill="none" stroke="#5aa2cb" stroke-width="8.3" stroke-linecap="round" stroke-linejoin="round"/>
<path d="M72 722 L88 722 L100 729" fill="none" stroke="#3f8dc0" stroke-width="4.9" stroke-linecap="round" stroke-linejoin="round"/>
<path d="M108 720 L118 732 L128 740" fill="none" stroke="#b4d6e8" stroke-width="11.7" stroke-linecap="round" stroke-linejoin="round"/>
<path d="M108 720 L118 732 L128 740" fill="none" stroke="#7bb6d6" stroke-width="4.9" stroke-linecap="round" stroke-linejoin="round"/>
<polygon points="63.3,680.5 89.3,667.5 110.1,667.5 110.1,685.7 89.3,690.9" fill="#f5ac8b"/>
<polygon points="71.7,679.9 90.2,670.6 105,670.6 105,683.6 90.2,687.3" fill="#df745c"/>
<polygon points="80.2,679.3 91.1,673.8 99.8,673.8 99.8,681.5 91.1,683.6" fill="#c2393b"/>
<ellipse cx="98" cy="698" rx="6" ry="5" transform="rotate(0 98 698)" fill="#eb9173"/>
<ellipse cx="102" cy="705" rx="8" ry="4" transform="rotate(0 102 705)" fill="#eb9173"/>
<path d="M76 782 L98 772 L126 768" fill="none" stroke="#f5ac8b" stroke-width="22.1" stroke-linecap="round" stroke-linejoin="round"/>
<path d="M76 782 L98 772 L126 768" fill="none" stroke="#df745c" stroke-width="17.8" stroke-linecap="round" stroke-linejoin="round"/>
<path d="M76 782 L98 772 L126 768" fill="none" stroke="#c2393b" stroke-width="13.6" stroke-linecap="round" stroke-linejoin="round"/>
<path d="M76 782 L98 772 L126 768" fill="none" stroke="#960f26" stroke-width="9.3" stroke-linecap="round" stroke-linejoin="round"/>
<path d="M56 780 L66 785" fill="none" stroke="#f5ac8b" stroke-width="7" stroke-linecap="round" stroke-linejoin="round"/>
<path d="M125 768 L150 753 L160 745" fill="none" stroke="#f5ac8b" stroke-width="8" stroke-linecap="round" stroke-linejoin="round"/>
</g>
<g stroke="#d0d0d0" stroke-width="0.3" opacity="0.55"><line x1="115.1" y1="709.4" x2="115.1" y2="809.1"/><line x1="116.1" y1="709.2" x2="165.9" y2="795.5"/><line x1="116.9" y1="708.4" x2="203.2" y2="758.2"/><line x1="117.1" y1="707.4" x2="216.8" y2="707.4"/><line x1="116.9" y1="706.4" x2="203.2" y2="656.5"/><line x1="116.1" y1="705.6" x2="165.9" y2="619.3"/><line x1="115.1" y1="705.4" x2="115.1" y2="605.7"/><line x1="114.1" y1="705.6" x2="64.2" y2="619.3"/><line x1="113.3" y1="706.4" x2="27" y2="656.5"/><line x1="113.1" y1="707.4" x2="13.4" y2="707.4"/><line x1="113.3" y1="708.4" x2="27" y2="758.2"/><line x1="114.1" y1="709.2" x2="64.2" y2="795.5"/><circle cx="115.1" cy="707.4" r="37.9" fill="none"/><circle cx="115.1" cy="707.4" r="75.9" fill="none"/></g>
<g font-family="Liberation Sans, sans-serif" font-size="7.8" fill="#444" text-anchor="end">
<text x="112.1" y="710.2">90<tspan dy="-2.2" font-size="5">°</tspan><tspan dy="2.2"> N</tspan></text>
<text x="112.1" y="672.3">80<tspan dy="-2.2" font-size="5">°</tspan><tspan dy="2.2"> N</tspan></text>
<text x="112.1" y="634.3">70<tspan dy="-2.2" font-size="5">°</tspan><tspan dy="2.2"> N</tspan></text>
</g>
<use href="#coast" transform="translate(115.1 707.4) scale(101.7)"/>
<path d="M104.6 609.3 C105.2 610.8 108 615.3 108 618.4 C108 621.4 106.7 624.6 104.6 627.5 C102.5 630.3 98.9 633 95.5 635.4 C92.1 637.9 87.9 639.8 84.1 642.3 C80.3 644.7 76.1 647.6 72.7 650.2 C69.3 652.9 63.6 656.3 63.6 658.2 C63.6 660.1 70.4 661.4 72.7 661.6 C75 661.8 76.9 658.2 77.3 659.3 C77.7 660.5 76.5 666.2 75 668.4 C73.5 670.7 70.4 671.5 68.2 673 C65.9 674.5 63.6 675.6 61.3 677.5 C59.1 679.4 56.4 681.7 54.5 684.4 C52.6 687 51.5 690.4 50 693.5 C48.4 696.5 46.4 699.5 45.4 702.6 C44.5 705.6 43.9 709.2 44.3 711.7 C44.7 714.1 47.1 716.4 47.7 717.4" fill="none" stroke="#111" stroke-width="0.8" stroke-linecap="round" stroke-linejoin="round"/>
<path d="M24.9 668.4 C25.1 670.3 25.7 676.4 26.1 679.8 C26.4 683.2 26.8 685.9 27.2 688.9 C27.6 691.9 28.2 696.5 28.3 698" fill="none" stroke="#111" stroke-width="0.8" stroke-linecap="round" stroke-linejoin="round"/>
<path d="M61.3 707.1 C63.2 706.4 69.3 702.6 72.7 702.6 C76.1 702.6 78 705.6 81.8 707.1 C85.6 708.6 91.7 711.1 95.5 711.7 C99.3 712.2 103.1 710.7 104.6 710.5" fill="none" stroke="#111" stroke-width="0.8" stroke-linecap="round" stroke-linejoin="round"/>
<path d="M95 659.3 C96.1 658.9 99.2 657.2 101.8 657.1 C104.5 656.9 108.3 657.4 110.9 658.2 C113.6 658.9 116 659.9 117.7 661.6 C119.4 663.3 120 666.2 121.2 668.4 C122.3 670.7 122.9 673 124.6 675.3 C126.3 677.5 129.3 679.8 131.4 682.1 C133.5 684.4 136.7 686.6 137.1 688.9 C137.5 691.2 135.8 694 133.7 695.7 C131.6 697.4 127.2 698 124.6 699.2 C121.9 700.3 119.6 701.2 117.7 702.6 C115.8 703.9 114.7 706 113.2 707.1 C111.7 708.3 110.5 709.2 108.6 709.4 C106.7 709.6 104.1 708.6 101.8 708.3 C99.5 707.9 96.1 707.3 95 707.1" fill="none" stroke="#111" stroke-width="0.8" stroke-linecap="round" stroke-linejoin="round"/>
<path d="M112.1 618.4 C113 620.6 116 628.6 117.7 632 C119.4 635.4 120.4 636.2 122.3 638.8 C124.2 641.5 126.1 646.1 129.1 647.9 C132.2 649.8 138 648.7 140.5 650.2 C143 651.7 143.5 654 143.9 657.1 C144.3 660.1 142.4 664.3 142.8 668.4 C143.2 672.6 145.1 678.3 146.2 682.1 C147.3 685.9 148.3 689.3 149.6 691.2 C150.9 693.1 152.3 693.5 154.2 693.5 C156.1 693.5 159.8 691.6 161 691.2" fill="none" stroke="#111" stroke-width="0.8" stroke-linecap="round" stroke-linejoin="round"/>
<path d="M167.8 642.3 C168 644 168.6 649.7 168.9 652.5 C169.3 655.3 168.4 657.1 170.1 659.3 C171.8 661.6 176.7 663.9 179.2 666.2 C181.7 668.4 183.4 670.3 184.9 673 C186.4 675.6 188.1 678.7 188.3 682.1 C188.5 685.5 186.6 689.3 186 693.5 C185.4 697.6 185.4 702 184.9 707.1 C184.3 712.2 183 721.3 182.6 724.2" fill="none" stroke="#111" stroke-width="0.8" stroke-linecap="round" stroke-linejoin="round"/>
<path d="M201.9 661.6 C201.9 663.9 202.1 670.3 201.9 675.3 C201.8 680.2 201.2 685.9 200.8 691.2 C200.4 696.5 200.1 701.6 199.7 707.1 C199.3 712.6 198.7 721.3 198.5 724.2" fill="none" stroke="#111" stroke-width="0.8" stroke-linecap="round" stroke-linejoin="round"/>
<path d="M45.4 712.4 C46.9 712.8 51.5 715 54.5 714.7 C57.6 714.3 60.6 711.3 63.6 710.1 C66.7 709 69.7 707.1 72.7 707.8 C75.8 708.6 78 713.2 81.8 714.7 C85.6 716.2 92.1 715.8 95.5 716.9 C98.9 718.1 100.8 719.2 102.3 721.5 C103.8 723.8 104.4 727.6 104.6 730.6 C104.8 733.6 103.6 738.2 103.4 739.7" fill="none" stroke="#111" stroke-width="0.8" stroke-linecap="round" stroke-linejoin="round"/>
<path d="M104.6 714.7 C106.1 716.2 110.7 720.9 113.7 723.8 C116.7 726.6 120.5 729.5 122.8 731.7 C125.1 734 126.8 735 127.3 737.4 C127.9 739.9 127.7 743.9 126.2 746.5 C124.7 749.2 121.1 751.3 118.2 753.4 C115.4 755.4 112.6 757.2 109.1 759 C105.7 760.9 100.8 762.8 97.8 764.7 C94.7 766.6 93.2 768.5 90.9 770.4 C88.7 772.3 85.2 775.2 84.1 776.1" fill="none" stroke="#111" stroke-width="0.8" stroke-linecap="round" stroke-linejoin="round"/>
<path d="M38.6 737.4 C38.4 739.3 38.2 745.8 37.4 748.8 C36.7 751.8 34.6 754.5 34 755.6" fill="none" stroke="#111" stroke-width="0.8" stroke-linecap="round" stroke-linejoin="round"/>
<path d="M72.7 787.5 C74.6 787.3 80.3 786.4 84.1 786.4 C87.9 786.4 91.7 787.1 95.5 787.5 C99.3 787.9 103.1 788.6 106.9 788.6 C110.7 788.6 114.8 788.4 118.2 787.5 C121.7 786.5 124.5 784.5 127.3 782.9 C130.2 781.4 134 779.2 135.3 778.4" fill="none" stroke="#111" stroke-width="0.8" stroke-linecap="round" stroke-linejoin="round"/>
<path d="M118.2 803.4 C119.9 802.7 125.6 800.2 128.5 798.9 C131.3 797.5 134.2 796 135.3 795.5" fill="none" stroke="#111" stroke-width="0.8" stroke-linecap="round" stroke-linejoin="round"/>
<path d="M115.5 721.5 C116.8 723.2 121.7 728.7 123.4 731.7 C125.1 734.8 125.9 736.9 125.7 739.7 C125.5 742.5 124 746.2 122.3 748.8 C120.6 751.5 118.1 753.7 115.5 755.6 C112.8 757.5 109.8 758.7 106.4 760.2 C102.9 761.7 96.9 764 95 764.7" fill="none" stroke="#111" stroke-width="0.8" stroke-linecap="round" stroke-linejoin="round"/>
<path d="M95 787.5 C96.9 787.5 102.6 788.3 106.4 787.5 C110.2 786.7 114.5 784.7 117.7 782.9 C121 781.2 123.1 779.5 125.7 777.3 C128.4 775 130.1 771.4 133.7 769.3 C137.3 767.2 143.9 767 147.3 764.7 C150.7 762.5 152.3 759 154.2 755.6 C156.1 752.2 158.3 748 158.7 744.3 C159.1 740.5 155.7 735.9 156.4 732.9 C157.2 729.8 161.4 728.3 163.3 726 C165.2 723.8 167.2 721.9 167.8 719.2 C168.4 716.6 167.8 712.8 166.7 710.1 C165.5 707.5 161.9 704.4 161 703.3" fill="none" stroke="#111" stroke-width="0.8" stroke-linecap="round" stroke-linejoin="round"/>
<path d="M184.9 691.9 C185.1 694.2 186 701.4 186 705.6 C186 709.7 185.6 712.8 184.9 716.9 C184.1 721.1 182.4 725.5 181.5 730.6 C180.5 735.7 179.9 742.7 179.2 747.7 C178.4 752.6 177.7 756.2 176.9 760.2 C176.2 764.2 174.4 768.5 174.6 771.6 C174.8 774.6 177.5 777.3 178.1 778.4" fill="none" stroke="#111" stroke-width="0.8" stroke-linecap="round" stroke-linejoin="round"/>
<path d="M201.9 703.3 C201.8 705.9 201.4 713.2 200.8 719.2 C200.2 725.3 199.3 734 198.5 739.7 C197.8 745.4 197 749.2 196.3 753.4 C195.5 757.5 194.4 762.8 194 764.7" fill="none" stroke="#111" stroke-width="0.8" stroke-linecap="round" stroke-linejoin="round"/>
<path d="M116.6 803.4 C118.3 802.7 123.6 800.4 126.8 798.9 C130.1 797.4 133.7 795.5 135.9 794.3 C138.2 793.2 139.7 792.4 140.5 792" fill="none" stroke="#111" stroke-width="0.8" stroke-linecap="round" stroke-linejoin="round"/>
<text transform="translate(83 644.5) rotate(-35)" font-family="Liberation Sans, sans-serif" font-weight="bold" font-size="6.3" text-anchor="middle" y="2.3" fill="#000">400</text>
<text transform="translate(26.1 684.4) rotate(80)" font-family="Liberation Sans, sans-serif" font-weight="bold" font-size="6.3" text-anchor="middle" y="2.3" fill="#000">300</text>
<text transform="translate(88.7 716.2) rotate(0)" font-family="Liberation Sans, sans-serif" font-weight="bold" font-size="6.3" text-anchor="middle" y="2.3" fill="#000">300</text>
<text transform="translate(133.7 683.2) rotate(50)" font-family="Liberation Sans, sans-serif" font-weight="bold" font-size="6.3" text-anchor="middle" y="2.3" fill="#000">500</text>
<text transform="translate(124.1 640) rotate(55)" font-family="Liberation Sans, sans-serif" font-weight="bold" font-size="6.3" text-anchor="middle" y="2.3" fill="#000">400</text>
<text transform="translate(113.2 663.9) rotate(-80)" font-family="Liberation Sans, sans-serif" font-weight="bold" font-size="6.3" text-anchor="middle" y="2.3" fill="#000">480</text>
<text transform="translate(87.5 714.7) rotate(0)" font-family="Liberation Sans, sans-serif" font-weight="bold" font-size="6.3" text-anchor="middle" y="2.3" fill="#000">300</text>
<text transform="translate(122.8 731.7) rotate(30)" font-family="Liberation Sans, sans-serif" font-weight="bold" font-size="6.3" text-anchor="middle" y="2.3" fill="#000">400</text>
<text transform="translate(104.6 760.2) rotate(-25)" font-family="Liberation Sans, sans-serif" font-weight="bold" font-size="6.3" text-anchor="middle" y="2.3" fill="#000">400</text>
<text transform="translate(37.4 748.8) rotate(-80)" font-family="Liberation Sans, sans-serif" font-weight="bold" font-size="6.3" text-anchor="middle" y="2.3" fill="#000">400</text>
<text transform="translate(84.1 786.4) rotate(0)" font-family="Liberation Sans, sans-serif" font-weight="bold" font-size="6.3" text-anchor="middle" y="2.3" fill="#000">400</text>
<text transform="translate(128.5 798.9) rotate(-20)" font-family="Liberation Sans, sans-serif" font-weight="bold" font-size="6.3" text-anchor="middle" y="2.3" fill="#000">300</text>
<text transform="translate(123.4 731.7) rotate(40)" font-family="Liberation Sans, sans-serif" font-weight="bold" font-size="6.3" text-anchor="middle" y="2.3" fill="#000">400</text>
<text transform="translate(105.2 760.2) rotate(-30)" font-family="Liberation Sans, sans-serif" font-weight="bold" font-size="6.3" text-anchor="middle" y="2.3" fill="#000">400</text>
<text transform="translate(125.7 777.3) rotate(-40)" font-family="Liberation Sans, sans-serif" font-weight="bold" font-size="6.3" text-anchor="middle" y="2.3" fill="#000">400</text>
<text transform="translate(179.2 747.7) rotate(-80)" font-family="Liberation Sans, sans-serif" font-weight="bold" font-size="6.3" text-anchor="middle" y="2.3" fill="#000">300</text>
<text transform="translate(198.5 739.7) rotate(-80)" font-family="Liberation Sans, sans-serif" font-weight="bold" font-size="6.3" text-anchor="middle" y="2.3" fill="#000">200</text>
<text transform="translate(126.8 798.9) rotate(-20)" font-family="Liberation Sans, sans-serif" font-weight="bold" font-size="6.3" text-anchor="middle" y="2.3" fill="#000">300</text>
<path d="M83.1 688.9 L84.8 686.2 L86.8 683.6 L88.9 681.2 L91.3 679.1 L93.9 677.1 L96.6 675.4" fill="none" stroke="#111" stroke-width="1.2" stroke-linecap="round"/>
<path d="M90 696.2 L91.1 693.9 L92.5 691.8 L94 689.7 L95.8 687.8 L97.7 686.1 L99.7 684.6 L101.9 683.3 L104.2 682.1 L106.6 681.2" fill="none" stroke="#111" stroke-width="1.2" stroke-linecap="round"/>
<path d="M120.1 736 L122.8 735.4 L125.3 734.5 L127.8 733.5 L130.2 732.2 L132.4 730.7 L134.5 729" fill="none" stroke="#111" stroke-width="1.2" stroke-linecap="round"/>
<path d="M118.8 724.6 L120.1 724.3 L121.4 723.8 L122.7 723.3 L123.9 722.6" fill="none" stroke="#111" stroke-width="1.2" stroke-linecap="round"/>
<path d="M94.4 668.6 L97.9 666.9 L101.5 665.6 L105.2 664.5 L109 663.8" fill="none" stroke="#111" stroke-width="0.9" stroke-linecap="round" stroke-dasharray="0.1 2.3"/>
<path d="M92.3 658.5 L97.2 656.4 L102.3 654.9 L107.6 653.9" fill="none" stroke="#111" stroke-width="0.9" stroke-linecap="round" stroke-dasharray="0.1 2.3"/>
<path d="M91.9 757.2 L97 759.4 L102.4 760.9 L107.9 761.9 L113.5 762.4 L119.1 762.3 L124.7 761.6 L130.1 760.3 L135.4 758.5 L140.5 756.2 L145.3 753.4 L149.8 750 L154 746.3" fill="none" stroke="#111" stroke-width="0.9" stroke-linecap="round" stroke-dasharray="0.1 2.3"/>
<path d="M94.4 751.8 L98.9 753.7 L103.6 755 L108.4 755.9 L113.3 756.4 L118.2 756.3 L123 755.8 L127.8 754.7" fill="none" stroke="#111" stroke-width="0.9" stroke-linecap="round" stroke-dasharray="0.1 2.3"/>
<path d="M93.4 761.2 L98.1 762.9 L103 764.1 L108 765 L113.1 765.4 L118.1 765.3 L123.2 764.8" fill="none" stroke="#111" stroke-width="0.9" stroke-linecap="round" stroke-dasharray="0.1 2.3"/>
<path d="M92.5 769.4 L98 771.2 L103.6 772.4 L109.3 773.1 L115.1 773.4" fill="none" stroke="#111" stroke-width="0.9" stroke-linecap="round" stroke-dasharray="0.1 2.3"/>
<path d="M143 767.2 L147.4 764.9 L151.7 762.3 L155.7 759.4" fill="none" stroke="#111" stroke-width="0.9" stroke-linecap="round" stroke-dasharray="0.1 2.3"/>
<path d="M83 776.3 L89.1 778.8 L95.4 780.8 L101.9 782.2" fill="none" stroke="#111" stroke-width="0.9" stroke-linecap="round" stroke-dasharray="0.1 2.3"/>
<path d="M66.3 777 L72.6 781 L79.2 784.4 L86 787.3 L93.1 789.5" fill="none" stroke="#111" stroke-width="0.9" stroke-linecap="round" stroke-dasharray="0.1 2.3"/>
<path d="M42.2 661.8 L46 656.2 L50.2 651 L54.8 646.1 L59.8 641.5" fill="none" stroke="#111" stroke-width="0.9" stroke-linecap="round" stroke-dasharray="0.1 2.3"/>
<path d="M35.4 661.4 L40.2 654 L45.7 647 L51.8 640.7 L58.5 634.9" fill="none" stroke="#111" stroke-width="0.9" stroke-linecap="round" stroke-dasharray="0.1 2.3"/>
<path d="M43.2 742.5 L40.6 736.5 L38.5 730.3 L36.8 724" fill="none" stroke="#111" stroke-width="0.9" stroke-linecap="round" stroke-dasharray="0.1 2.3"/>
<path d="M37.4 748.7 L34.4 742.5 L31.9 736 L29.9 729.4 L28.4 722.7" fill="none" stroke="#111" stroke-width="0.9" stroke-linecap="round" stroke-dasharray="0.1 2.3"/>
<path d="M64.2 739.2 L61.6 734.6 L59.5 729.9" fill="none" stroke="#111" stroke-width="0.9" stroke-linecap="round" stroke-dasharray="0.1 2.3"/>
<path d="M195 681.4 L192 673.7 L188.3 666.2 L183.9 659.2" fill="none" stroke="#111" stroke-width="0.9" stroke-linecap="round" stroke-dasharray="0.1 2.3"/>
<path d="M203.5 682 L200.8 673.9 L197.3 666.1 L193.1 658.6" fill="none" stroke="#111" stroke-width="0.9" stroke-linecap="round" stroke-dasharray="0.1 2.3"/>
<path d="M176.9 674.5 L173.8 669.3 L170.3 664.3" fill="none" stroke="#111" stroke-width="0.9" stroke-linecap="round" stroke-dasharray="0.1 2.3"/>
<path d="M67.4 631.1 L75.2 626.7 L83.3 623.2 L91.8 620.5" fill="none" stroke="#111" stroke-width="0.9" stroke-linecap="round" stroke-dasharray="0.1 2.3"/>
<path d="M67.1 624.3 L73.8 620.8 L80.7 617.8 L87.8 615.4 L95.1 613.5" fill="none" stroke="#111" stroke-width="0.9" stroke-linecap="round" stroke-dasharray="0.1 2.3"/>
<polygon points="67.7,731.4 82.3,726.3 99.3,737.4 94.3,755.4 79.7,779.3 74.6,780.2 70.3,777.6 61.7,782.8 51.4,780.6 43.9,780.6 33.7,772.5 38.7,767.3 48.9,765.7 57.4,751.9 69.4,735.8" fill="#fff"/>
<g stroke="#d0d0d0" stroke-width="0.3" opacity="0.55"><line x1="115.1" y1="709.4" x2="115.1" y2="809.1"/><line x1="116.1" y1="709.2" x2="165.9" y2="795.5"/><line x1="116.9" y1="708.4" x2="203.2" y2="758.2"/><line x1="117.1" y1="707.4" x2="216.8" y2="707.4"/><line x1="116.9" y1="706.4" x2="203.2" y2="656.5"/><line x1="116.1" y1="705.6" x2="165.9" y2="619.3"/><line x1="115.1" y1="705.4" x2="115.1" y2="605.7"/><line x1="114.1" y1="705.6" x2="64.2" y2="619.3"/><line x1="113.3" y1="706.4" x2="27" y2="656.5"/><line x1="113.1" y1="707.4" x2="13.4" y2="707.4"/><line x1="113.3" y1="708.4" x2="27" y2="758.2"/><line x1="114.1" y1="709.2" x2="64.2" y2="795.5"/><circle cx="115.1" cy="707.4" r="37.9" fill="none"/><circle cx="115.1" cy="707.4" r="75.9" fill="none"/></g>
</g>
<circle cx="115.1" cy="707.4" r="101.7" fill="none" stroke="#111" stroke-width="1.5"/>
<rect x="223.5" y="604.9" width="13" height="205" fill="#770522"/>
<rect x="223.5" y="613.4" width="13" height="196.5" fill="#960f26"/>
<rect x="223.5" y="622" width="13" height="187.9" fill="#b31b2c"/>
<rect x="223.5" y="630.5" width="13" height="179.4" fill="#c2393b"/>
<rect x="223.5" y="639.1" width="13" height="170.8" fill="#d25749"/>
<rect x="223.5" y="647.6" width="13" height="162.3" fill="#df745c"/>
<rect x="223.5" y="656.1" width="13" height="153.8" fill="#eb9173"/>
<rect x="223.5" y="664.7" width="13" height="145.2" fill="#f5ac8b"/>
<rect x="223.5" y="673.2" width="13" height="136.7" fill="#f9c2a7"/>
<rect x="223.5" y="681.8" width="13" height="128.1" fill="#fdd9c4"/>
<rect x="223.5" y="690.3" width="13" height="119.6" fill="#fbe6d9"/>
<rect x="223.5" y="698.9" width="13" height="111" fill="#f8f1ed"/>
<rect x="223.5" y="707.4" width="13" height="102.5" fill="#eff3f6"/>
<rect x="223.5" y="715.9" width="13" height="94" fill="#dfecf3"/>
<rect x="223.5" y="724.5" width="13" height="85.4" fill="#cee4ef"/>
<rect x="223.5" y="733" width="13" height="76.9" fill="#b4d6e8"/>
<rect x="223.5" y="741.6" width="13" height="68.3" fill="#9ac9e0"/>
<rect x="223.5" y="750.1" width="13" height="59.8" fill="#7bb6d6"/>
<rect x="223.5" y="758.6" width="13" height="51.2" fill="#5aa2cb"/>
<rect x="223.5" y="767.2" width="13" height="42.7" fill="#3f8dc0"/>
<rect x="223.5" y="775.7" width="13" height="34.2" fill="#317bb7"/>
<rect x="223.5" y="784.3" width="13" height="25.6" fill="#2268ad"/>
<rect x="223.5" y="792.8" width="13" height="17.1" fill="#165290"/>
<rect x="223.5" y="801.4" width="13" height="8.5" fill="#0b3b71"/>
<rect x="223.5" y="604.9" width="13" height="205" fill="none" stroke="#999" stroke-width="0.4"/>
<g font-family="Liberation Sans, sans-serif" font-size="6.8" fill="#222">
<line x1="235" y1="604.9" x2="236.5" y2="604.9" stroke="#444" stroke-width="0.4"/>
<text x="239.3" y="607.7">150</text>
<line x1="235" y1="639.1" x2="236.5" y2="639.1" stroke="#444" stroke-width="0.4"/>
<text x="239.3" y="641.9">100</text>
<line x1="235" y1="673.2" x2="236.5" y2="673.2" stroke="#444" stroke-width="0.4"/>
<text x="239.3" y="676">50</text>
<line x1="235" y1="707.4" x2="236.5" y2="707.4" stroke="#444" stroke-width="0.4"/>
<text x="239.3" y="710.2">0</text>
<line x1="235" y1="741.6" x2="236.5" y2="741.6" stroke="#444" stroke-width="0.4"/>
<text x="239.3" y="744.4">-50</text>
<line x1="235" y1="775.7" x2="236.5" y2="775.7" stroke="#444" stroke-width="0.4"/>
<text x="239.3" y="778.5">-100</text>
<line x1="235" y1="809.9" x2="236.5" y2="809.9" stroke="#444" stroke-width="0.4"/>
<text x="239.3" y="812.7">-150</text>
</g>
<!-- panel f -->
<g font-family="Liberation Sans, sans-serif" font-size="7.6" fill="#333" text-anchor="middle">
<text transform="translate(430 604.4) rotate(0)" y="2.7">180<tspan dy="-2.2" font-size="5">°</tspan><tspan dy="2.2"> </tspan>E</text>
<text transform="translate(483.2 616.3) rotate(30)" y="2.7">150<tspan dy="-2.2" font-size="5">°</tspan><tspan dy="2.2"> </tspan>E</text>
<text transform="translate(520.6 656.1) rotate(60)" y="2.7">120<tspan dy="-2.2" font-size="5">°</tspan><tspan dy="2.2"> </tspan>E</text>
<text transform="translate(536.1 708.4) rotate(-90)" y="2.7">90<tspan dy="-2.2" font-size="5">°</tspan><tspan dy="2.2"> </tspan>E</text>
<text transform="translate(523.2 762.2) rotate(-60)" y="2.7">60<tspan dy="-2.2" font-size="5">°</tspan><tspan dy="2.2"> </tspan>E</text>
<text transform="translate(483.2 800.5) rotate(-30)" y="2.7">30<tspan dy="-2.2" font-size="5">°</tspan><tspan dy="2.2"> </tspan>E</text>
<text transform="translate(430 814.7) rotate(0)" y="2.7">0</text>
<text transform="translate(376.8 800.5) rotate(30)" y="2.7">30<tspan dy="-2.2" font-size="5">°</tspan><tspan dy="2.2"> </tspan>W</text>
<text transform="translate(336.8 762.2) rotate(60)" y="2.7">60<tspan dy="-2.2" font-size="5">°</tspan><tspan dy="2.2"> </tspan>W</text>
<text transform="translate(323.9 708.4) rotate(90)" y="2.7">90<tspan dy="-2.2" font-size="5">°</tspan><tspan dy="2.2"> </tspan>W</text>
<text transform="translate(339.4 656.1) rotate(300)" y="2.7">120<tspan dy="-2.2" font-size="5">°</tspan><tspan dy="2.2"> </tspan>W</text>
<text transform="translate(376.8 616.3) rotate(330)" y="2.7">150<tspan dy="-2.2" font-size="5">°</tspan><tspan dy="2.2"> </tspan>W</text>
</g>
<clipPath id="cpf"><circle cx="430" cy="708.4" r="101.1"/></clipPath>
<g clip-path="url(#cpf)">
<rect x="326.9" y="605.3" width="206.2" height="206.2" fill="#f5f5f6"/>
<g filter="url(#blf)">
<polygon points="445,615 480,618 515,650 525,690 500,700 470,680 450,650" fill="#fbe6d9"/>
<polygon points="450,745 500,730 520,745 500,780 470,800 445,790" fill="#fbe6d9"/>
<polygon points="345,640 375,615 410,608 405,640 390,670 350,690 335,670" fill="#fbe6d9"/>
<polygon points="395,780 440,776 445,805 400,803" fill="#fbe6d9"/>
<ellipse cx="399" cy="631" rx="7" ry="6" transform="rotate(0 399 631)" fill="#fdd9c4"/>
<ellipse cx="383" cy="660" rx="6" ry="8" transform="rotate(0 383 660)" fill="#f9c2a7"/>
<ellipse cx="363" cy="638" rx="9" ry="6" transform="rotate(0 363 638)" fill="#fbe6d9"/>
<ellipse cx="340" cy="668" rx="7" ry="8" transform="rotate(0 340 668)" fill="#fbe6d9"/>
<ellipse cx="440" cy="618" rx="4" ry="10" transform="rotate(0 440 618)" fill="#f9c2a7"/>
<ellipse cx="462" cy="672" rx="8" ry="7" transform="rotate(0 462 672)" fill="#f9c2a7"/>
<ellipse cx="474" cy="660" rx="7" ry="6" transform="rotate(0 474 660)" fill="#fdd9c4"/>
<ellipse cx="467" cy="624" rx="9" ry="6" transform="rotate(0 467 624)" fill="#fbe6d9"/>
<ellipse cx="496" cy="670" rx="8" ry="8" transform="rotate(0 496 670)" fill="#fbe6d9"/>
<ellipse cx="372" cy="731" rx="7" ry="6" transform="rotate(0 372 731)" fill="#f9c2a7"/>
<ellipse cx="440" cy="740" rx="5" ry="9" transform="rotate(0 440 740)" fill="#fdd9c4"/>
<ellipse cx="415" cy="795" rx="8" ry="6" transform="rotate(0 415 795)" fill="#fdd9c4"/>
<ellipse cx="464" cy="786" rx="9" ry="7" transform="rotate(0 464 786)" fill="#fdd9c4"/>
<ellipse cx="510" cy="747" rx="6" ry="7" transform="rotate(0 510 747)" fill="#fbe6d9"/>
<ellipse cx="350" cy="716" rx="8" ry="6" transform="rotate(0 350 716)" fill="#fbe6d9"/>
<polygon points="356,696 385,680 400,674 426,690 434,708 420,718 395,726 372,718 356,708" fill="#9ac9e0"/>
<ellipse cx="391" cy="712" rx="12" ry="8" transform="rotate(15 391 712)" fill="#3f8dc0"/>
<ellipse cx="379" cy="636" rx="6" ry="5" transform="rotate(0 379 636)" fill="#cee4ef"/>
<ellipse cx="444" cy="661" rx="5" ry="4" transform="rotate(0 444 661)" fill="#cee4ef"/>
<ellipse cx="480" cy="686" rx="7" ry="6" transform="rotate(0 480 686)" fill="#b4d6e8"/>
<ellipse cx="467" cy="701" rx="7" ry="6" transform="rotate(0 467 701)" fill="#cee4ef"/>
<path d="M350 740 L346 752" fill="none" stroke="#cee4ef" stroke-width="9" stroke-linecap="round" stroke-linejoin="round"/>
<ellipse cx="417" cy="772" rx="9" ry="7" transform="rotate(0 417 772)" fill="#cee4ef"/>
<ellipse cx="439" cy="765" rx="7" ry="6" transform="rotate(0 439 765)" fill="#cee4ef"/>
<ellipse cx="491" cy="740" rx="5" ry="9" transform="rotate(0 491 740)" fill="#dfecf3"/>
<ellipse cx="442" cy="768" rx="5" ry="5" transform="rotate(0 442 768)" fill="#cee4ef"/>
<ellipse cx="424" cy="622" rx="5.2" ry="18.2" transform="rotate(-5 424 622)" fill="#cee4ef"/>
<ellipse cx="424" cy="622" rx="2.2" ry="7.6" transform="rotate(-5 424 622)" fill="#9ac9e0"/>
<polygon points="377.1,680.7 400.5,670.3 429.1,693.7 434.3,711.9 410.9,711.9 390.1,701.5" fill="#9ac9e0"/>
<polygon points="382.9,683.5 401.8,675.1 424.8,694 429,708.6 410.1,708.6 393.4,700.2" fill="#5aa2cb"/>
<polygon points="388.7,686.2 403,679.9 420.6,694.2 423.7,705.4 409.4,705.4 396.6,699" fill="#317bb7"/>
<polygon points="394.4,689 404.3,684.6 416.3,694.5 418.5,702.1 408.6,702.1 399.9,697.7" fill="#2268ad"/>
<ellipse cx="476" cy="713" rx="10.4" ry="9.1" transform="rotate(0 476 713)" fill="#cee4ef"/>
<ellipse cx="476" cy="713" rx="4.4" ry="3.8" transform="rotate(0 476 713)" fill="#7bb6d6"/>
<ellipse cx="356" cy="731" rx="9.1" ry="9.1" transform="rotate(0 356 731)" fill="#cee4ef"/>
<ellipse cx="356" cy="731" rx="3.8" ry="3.8" transform="rotate(0 356 731)" fill="#7bb6d6"/>
<ellipse cx="415" cy="774" rx="6" ry="5" transform="rotate(0 415 774)" fill="#9ac9e0"/>
<ellipse cx="455" cy="738" rx="7.8" ry="7.8" transform="rotate(0 455 738)" fill="#cee4ef"/>
<ellipse cx="455" cy="738" rx="3.3" ry="3.3" transform="rotate(0 455 738)" fill="#9ac9e0"/>
<ellipse cx="410" cy="613" rx="7" ry="4" transform="rotate(0 410 613)" fill="#f5ac8b"/>
<ellipse cx="428.5" cy="672" rx="6.5" ry="14.3" transform="rotate(5 428.5 672)" fill="#f5ac8b"/>
<ellipse cx="428.5" cy="672" rx="5.2" ry="11.5" transform="rotate(5 428.5 672)" fill="#df745c"/>
<ellipse cx="428.5" cy="672" rx="4" ry="8.8" transform="rotate(5 428.5 672)" fill="#c2393b"/>
<ellipse cx="428.5" cy="672" rx="2.7" ry="6" transform="rotate(5 428.5 672)" fill="#960f26"/>
<ellipse cx="442" cy="706" rx="11.7" ry="7.8" transform="rotate(10 442 706)" fill="#f5ac8b"/>
<ellipse cx="442" cy="706" rx="9.4" ry="6.3" transform="rotate(10 442 706)" fill="#df745c"/>
<ellipse cx="442" cy="706" rx="7.2" ry="4.8" transform="rotate(10 442 706)" fill="#b31b2c"/>
<ellipse cx="442" cy="706" rx="4.9" ry="3.3" transform="rotate(10 442 706)" fill="#770522"/>
<ellipse cx="413" cy="731" rx="9.1" ry="6.5" transform="rotate(0 413 731)" fill="#f9c2a7"/>
<ellipse cx="413" cy="731" rx="3.8" ry="2.7" transform="rotate(0 413 731)" fill="#df745c"/>
<path d="M382 737 L370 752" fill="none" stroke="#eb9173" stroke-width="3" stroke-linecap="round" stroke-linejoin="round"/>
<ellipse cx="377" cy="788" rx="6" ry="5" transform="rotate(0 377 788)" fill="#f5ac8b"/>
</g>
<g stroke="#d0d0d0" stroke-width="0.3" opacity="0.55"><line x1="430" y1="710.4" x2="430" y2="809.5"/><line x1="431" y1="710.2" x2="480.6" y2="796"/><line x1="431.8" y1="709.4" x2="517.6" y2="759"/><line x1="432" y1="708.4" x2="531.1" y2="708.4"/><line x1="431.8" y1="707.4" x2="517.6" y2="657.9"/><line x1="431" y1="706.6" x2="480.6" y2="620.8"/><line x1="430" y1="706.4" x2="430" y2="607.3"/><line x1="429" y1="706.6" x2="379.4" y2="620.8"/><line x1="428.2" y1="707.4" x2="342.4" y2="657.8"/><line x1="428" y1="708.4" x2="328.9" y2="708.4"/><line x1="428.2" y1="709.4" x2="342.4" y2="759"/><line x1="429" y1="710.2" x2="379.4" y2="796"/><circle cx="430" cy="708.4" r="37.7" fill="none"/><circle cx="430" cy="708.4" r="75.4" fill="none"/></g>
<g font-family="Liberation Sans, sans-serif" font-size="7.8" fill="#444" text-anchor="end">
<text x="427" y="711.2">90<tspan dy="-2.2" font-size="5">°</tspan><tspan dy="2.2"> N</tspan></text>
<text x="427" y="673.5">80<tspan dy="-2.2" font-size="5">°</tspan><tspan dy="2.2"> N</tspan></text>
<text x="427" y="635.8">70<tspan dy="-2.2" font-size="5">°</tspan><tspan dy="2.2"> N</tspan></text>
</g>
<use href="#coast" transform="translate(430 708.4) scale(101.1)"/>
<path d="M419.5 610.8 C420.1 612.3 422.9 616.9 422.9 619.9 C422.9 622.9 421.6 626.1 419.5 628.9 C417.5 631.8 413.9 634.4 410.5 636.9 C407.1 639.3 403 641.2 399.2 643.6 C395.4 646.1 391.3 648.9 387.9 651.6 C384.5 654.2 378.8 657.6 378.8 659.5 C378.8 661.4 385.6 662.7 387.9 662.9 C390.1 663.1 392 659.5 392.4 660.6 C392.8 661.7 391.6 667.4 390.1 669.7 C388.6 671.9 385.6 672.7 383.3 674.2 C381.1 675.7 378.8 676.8 376.6 678.7 C374.3 680.6 371.7 682.9 369.8 685.5 C367.9 688.1 366.8 691.5 365.2 694.5 C363.7 697.6 361.7 700.6 360.7 703.6 C359.8 706.6 359.2 710.2 359.6 712.6 C360 715.1 362.4 717.4 363 718.3" fill="none" stroke="#111" stroke-width="0.8" stroke-linecap="round" stroke-linejoin="round"/>
<path d="M340.4 669.7 C340.6 671.5 341.1 677.6 341.5 681 C341.9 684.4 342.2 687 342.6 690 C343 693 343.6 697.6 343.8 699.1" fill="none" stroke="#111" stroke-width="0.8" stroke-linecap="round" stroke-linejoin="round"/>
<path d="M376.6 708.1 C378.4 707.4 384.5 703.6 387.9 703.6 C391.3 703.6 393.2 706.6 396.9 708.1 C400.7 709.6 406.7 712.1 410.5 712.6 C414.3 713.2 418 711.7 419.5 711.5" fill="none" stroke="#111" stroke-width="0.8" stroke-linecap="round" stroke-linejoin="round"/>
<path d="M410 660.6 C411.1 660.2 414.1 658.5 416.8 658.3 C419.4 658.2 423.2 658.7 425.8 659.5 C428.5 660.2 430.9 661.2 432.6 662.9 C434.3 664.6 434.9 667.4 436 669.7 C437.1 671.9 437.7 674.2 439.4 676.4 C441.1 678.7 444.1 681 446.2 683.2 C448.3 685.5 451.5 687.8 451.9 690 C452.2 692.3 450.5 695.1 448.5 696.8 C446.4 698.5 442.1 699.1 439.4 700.2 C436.8 701.3 434.5 702.3 432.6 703.6 C430.7 704.9 429.6 707 428.1 708.1 C426.6 709.3 425.5 710.2 423.6 710.4 C421.7 710.6 419 709.6 416.8 709.3 C414.5 708.9 411.1 708.3 410 708.1" fill="none" stroke="#111" stroke-width="0.8" stroke-linecap="round" stroke-linejoin="round"/>
<path d="M427 619.9 C427.9 622.1 430.9 630.1 432.6 633.5 C434.3 636.9 435.3 637.6 437.1 640.2 C439 642.9 440.9 647.4 443.9 649.3 C447 651.2 452.8 650.1 455.2 651.6 C457.7 653.1 458.3 655.3 458.6 658.3 C459 661.4 457.1 665.5 457.5 669.7 C457.9 673.8 459.8 679.5 460.9 683.2 C462 687 463 690.4 464.3 692.3 C465.6 694.2 466.9 694.5 468.8 694.5 C470.7 694.5 474.5 692.7 475.6 692.3" fill="none" stroke="#111" stroke-width="0.8" stroke-linecap="round" stroke-linejoin="round"/>
<path d="M482.4 643.6 C482.6 645.3 483.2 651 483.5 653.8 C483.9 656.7 483 658.3 484.7 660.6 C486.4 662.9 491.3 665.1 493.7 667.4 C496.2 669.7 497.9 671.5 499.4 674.2 C500.9 676.8 502.6 679.8 502.8 683.2 C502.9 686.6 501.1 690.4 500.5 694.5 C499.9 698.7 499.9 703 499.4 708.1 C498.8 713.2 497.5 722.3 497.1 725.1" fill="none" stroke="#111" stroke-width="0.8" stroke-linecap="round" stroke-linejoin="round"/>
<path d="M516.3 662.9 C516.3 665.1 516.5 671.5 516.3 676.4 C516.1 681.3 515.6 687 515.2 692.3 C514.8 697.6 514.4 702.7 514.1 708.1 C513.7 713.6 513.1 722.3 512.9 725.1" fill="none" stroke="#111" stroke-width="0.8" stroke-linecap="round" stroke-linejoin="round"/>
<path d="M360.7 713.4 C362.2 713.7 366.8 716 369.8 715.6 C372.8 715.2 375.8 712.2 378.8 711.1 C381.8 710 384.9 708.1 387.9 708.8 C390.9 709.6 393.2 714.1 396.9 715.6 C400.7 717.1 407.1 716.8 410.5 717.9 C413.9 719 415.8 720.1 417.3 722.4 C418.8 724.7 419.4 728.4 419.5 731.5 C419.7 734.5 418.6 739 418.4 740.5" fill="none" stroke="#111" stroke-width="0.8" stroke-linecap="round" stroke-linejoin="round"/>
<path d="M419.5 715.6 C421.1 717.1 425.6 721.8 428.6 724.7 C431.6 727.5 435.4 730.3 437.6 732.6 C439.9 734.9 441.6 735.8 442.2 738.2 C442.7 740.7 442.5 744.7 441 747.3 C439.5 749.9 436 752 433.1 754.1 C430.3 756.2 427.5 757.9 424.1 759.7 C420.7 761.6 415.8 763.5 412.8 765.4 C409.7 767.3 408.2 769.2 406 771.1 C403.7 772.9 400.3 775.8 399.2 776.7" fill="none" stroke="#111" stroke-width="0.8" stroke-linecap="round" stroke-linejoin="round"/>
<path d="M353.9 738.2 C353.7 740.1 353.6 746.5 352.8 749.6 C352.1 752.6 350 755.2 349.4 756.3" fill="none" stroke="#111" stroke-width="0.8" stroke-linecap="round" stroke-linejoin="round"/>
<path d="M387.9 788 C389.8 787.8 395.4 786.9 399.2 786.9 C403 786.9 406.7 787.6 410.5 788 C414.3 788.4 418 789.2 421.8 789.2 C425.6 789.2 429.7 789 433.1 788 C436.5 787.1 439.3 785 442.2 783.5 C445 782 448.8 779.7 450.1 779" fill="none" stroke="#111" stroke-width="0.8" stroke-linecap="round" stroke-linejoin="round"/>
<path d="M433.1 803.9 C434.8 803.1 440.5 800.7 443.3 799.3 C446.1 798 449 796.5 450.1 795.9" fill="none" stroke="#111" stroke-width="0.8" stroke-linecap="round" stroke-linejoin="round"/>
<path d="M430.4 722.4 C431.7 724.1 436.6 729.6 438.3 732.6 C440 735.6 440.7 737.7 440.5 740.5 C440.4 743.3 438.8 746.9 437.1 749.6 C435.5 752.2 433 754.5 430.4 756.3 C427.7 758.2 424.7 759.4 421.3 760.9 C417.9 762.4 411.9 764.6 410 765.4" fill="none" stroke="#111" stroke-width="0.8" stroke-linecap="round" stroke-linejoin="round"/>
<path d="M410 788 C411.9 788 417.5 788.8 421.3 788 C425.1 787.3 429.4 785.2 432.6 783.5 C435.8 781.8 437.9 780.1 440.5 777.8 C443.2 775.6 444.9 772 448.5 769.9 C452 767.8 458.6 767.7 462 765.4 C465.4 763.1 466.9 759.7 468.8 756.3 C470.7 753 473 748.8 473.3 745 C473.7 741.3 470.3 736.7 471.1 733.7 C471.8 730.7 476 729.2 477.9 726.9 C479.8 724.7 481.8 722.8 482.4 720.1 C483 717.5 482.4 713.7 481.3 711.1 C480.1 708.5 476.6 705.4 475.6 704.3" fill="none" stroke="#111" stroke-width="0.8" stroke-linecap="round" stroke-linejoin="round"/>
<path d="M499.4 693 C499.6 695.3 500.5 702.4 500.5 706.6 C500.5 710.7 500.1 713.7 499.4 717.9 C498.6 722 496.9 726.4 496 731.5 C495 736.6 494.5 743.5 493.7 748.4 C493 753.3 492.2 756.9 491.4 760.9 C490.7 764.8 489 769.2 489.2 772.2 C489.4 775.2 492 777.8 492.6 779" fill="none" stroke="#111" stroke-width="0.8" stroke-linecap="round" stroke-linejoin="round"/>
<path d="M516.3 704.3 C516.1 707 515.8 714.1 515.2 720.1 C514.6 726.2 513.7 734.9 512.9 740.5 C512.2 746.2 511.4 749.9 510.7 754.1 C509.9 758.2 508.8 763.5 508.4 765.4" fill="none" stroke="#111" stroke-width="0.8" stroke-linecap="round" stroke-linejoin="round"/>
<path d="M431.5 803.9 C433.2 803.1 438.5 800.8 441.7 799.3 C444.9 797.8 448.5 795.9 450.7 794.8 C453 793.7 454.5 792.9 455.2 792.5" fill="none" stroke="#111" stroke-width="0.8" stroke-linecap="round" stroke-linejoin="round"/>
<text transform="translate(398.1 645.9) rotate(-35)" font-family="Liberation Sans, sans-serif" font-weight="bold" font-size="6.3" text-anchor="middle" y="2.3" fill="#000">400</text>
<text transform="translate(341.5 685.5) rotate(80)" font-family="Liberation Sans, sans-serif" font-weight="bold" font-size="6.3" text-anchor="middle" y="2.3" fill="#000">300</text>
<text transform="translate(403.7 717.2) rotate(0)" font-family="Liberation Sans, sans-serif" font-weight="bold" font-size="6.3" text-anchor="middle" y="2.3" fill="#000">300</text>
<text transform="translate(448.5 684.4) rotate(50)" font-family="Liberation Sans, sans-serif" font-weight="bold" font-size="6.3" text-anchor="middle" y="2.3" fill="#000">500</text>
<text transform="translate(439 641.4) rotate(55)" font-family="Liberation Sans, sans-serif" font-weight="bold" font-size="6.3" text-anchor="middle" y="2.3" fill="#000">400</text>
<text transform="translate(428.1 665.1) rotate(-80)" font-family="Liberation Sans, sans-serif" font-weight="bold" font-size="6.3" text-anchor="middle" y="2.3" fill="#000">480</text>
<text transform="translate(402.6 715.6) rotate(0)" font-family="Liberation Sans, sans-serif" font-weight="bold" font-size="6.3" text-anchor="middle" y="2.3" fill="#000">300</text>
<text transform="translate(437.6 732.6) rotate(30)" font-family="Liberation Sans, sans-serif" font-weight="bold" font-size="6.3" text-anchor="middle" y="2.3" fill="#000">400</text>
<text transform="translate(419.5 760.9) rotate(-25)" font-family="Liberation Sans, sans-serif" font-weight="bold" font-size="6.3" text-anchor="middle" y="2.3" fill="#000">400</text>
<text transform="translate(352.8 749.6) rotate(-80)" font-family="Liberation Sans, sans-serif" font-weight="bold" font-size="6.3" text-anchor="middle" y="2.3" fill="#000">400</text>
<text transform="translate(399.2 786.9) rotate(0)" font-family="Liberation Sans, sans-serif" font-weight="bold" font-size="6.3" text-anchor="middle" y="2.3" fill="#000">400</text>
<text transform="translate(443.3 799.3) rotate(-20)" font-family="Liberation Sans, sans-serif" font-weight="bold" font-size="6.3" text-anchor="middle" y="2.3" fill="#000">300</text>
<text transform="translate(438.3 732.6) rotate(40)" font-family="Liberation Sans, sans-serif" font-weight="bold" font-size="6.3" text-anchor="middle" y="2.3" fill="#000">400</text>
<text transform="translate(420.2 760.9) rotate(-30)" font-family="Liberation Sans, sans-serif" font-weight="bold" font-size="6.3" text-anchor="middle" y="2.3" fill="#000">400</text>
<text transform="translate(440.5 777.8) rotate(-40)" font-family="Liberation Sans, sans-serif" font-weight="bold" font-size="6.3" text-anchor="middle" y="2.3" fill="#000">400</text>
<text transform="translate(493.7 748.4) rotate(-80)" font-family="Liberation Sans, sans-serif" font-weight="bold" font-size="6.3" text-anchor="middle" y="2.3" fill="#000">300</text>
<text transform="translate(512.9 740.5) rotate(-80)" font-family="Liberation Sans, sans-serif" font-weight="bold" font-size="6.3" text-anchor="middle" y="2.3" fill="#000">200</text>
<text transform="translate(441.7 799.3) rotate(-20)" font-family="Liberation Sans, sans-serif" font-weight="bold" font-size="6.3" text-anchor="middle" y="2.3" fill="#000">300</text>
<path d="M412.3 699 L413.2 697.6 L414.2 696.2 L415.2 694.9 L416.4 693.7 L417.7 692.6" fill="none" stroke="#111" stroke-width="1.2" stroke-linecap="round"/>
<path d="M401.9 695.3 L403.4 692.5 L405.1 690 L407.1 687.6 L409.3 685.4" fill="none" stroke="#111" stroke-width="1.2" stroke-linecap="round"/>
<path d="M395 693.6 L396.6 690.3 L398.5 687.2 L400.7 684.2 L403.1 681.5" fill="none" stroke="#111" stroke-width="1.2" stroke-linecap="round"/>
<path d="M481.4 647.1 L477 643.7 L472.4 640.6 L467.6 637.8" fill="none" stroke="#111" stroke-width="0.9" stroke-linecap="round" stroke-dasharray="0.1 2.4"/>
<path d="M499.3 654.2 L495.4 649.5 L491.1 645.1 L486.6 641" fill="none" stroke="#111" stroke-width="0.9" stroke-linecap="round" stroke-dasharray="0.1 2.4"/>
<path d="M499.3 698.7 L498.2 692.7 L496.6 686.8" fill="none" stroke="#111" stroke-width="0.9" stroke-linecap="round" stroke-dasharray="0.1 2.4"/>
<path d="M505.6 700.5 L504.6 693.9 L503.1 687.5" fill="none" stroke="#111" stroke-width="0.9" stroke-linecap="round" stroke-dasharray="0.1 2.4"/>
<path d="M414.5 766.4 L409.5 764.8 L404.6 762.8" fill="none" stroke="#111" stroke-width="0.9" stroke-linecap="round" stroke-dasharray="0.1 2.4"/>
<polygon points="382.9,732.3 397.3,727.2 414.3,738.2 409.3,756.1 394.8,779.9 389.8,780.8 385.4,778.2 376.9,783.3 366.7,781.2 359.2,781.2 349.1,773.1 354.1,767.9 364.2,766.3 372.7,752.7 384.6,736.6" fill="#fff"/>
<g stroke="#d0d0d0" stroke-width="0.3" opacity="0.55"><line x1="430" y1="710.4" x2="430" y2="809.5"/><line x1="431" y1="710.2" x2="480.6" y2="796"/><line x1="431.8" y1="709.4" x2="517.6" y2="759"/><line x1="432" y1="708.4" x2="531.1" y2="708.4"/><line x1="431.8" y1="707.4" x2="517.6" y2="657.9"/><line x1="431" y1="706.6" x2="480.6" y2="620.8"/><line x1="430" y1="706.4" x2="430" y2="607.3"/><line x1="429" y1="706.6" x2="379.4" y2="620.8"/><line x1="428.2" y1="707.4" x2="342.4" y2="657.8"/><line x1="428" y1="708.4" x2="328.9" y2="708.4"/><line x1="428.2" y1="709.4" x2="342.4" y2="759"/><line x1="429" y1="710.2" x2="379.4" y2="796"/><circle cx="430" cy="708.4" r="37.7" fill="none"/><circle cx="430" cy="708.4" r="75.4" fill="none"/></g>
</g>
<circle cx="430" cy="708.4" r="101.1" fill="none" stroke="#111" stroke-width="1.5"/>
<rect x="537.9" y="606.7" width="12.7" height="203.5" fill="#770522"/>
<rect x="537.9" y="615.2" width="12.7" height="195" fill="#960f26"/>
<rect x="537.9" y="623.7" width="12.7" height="186.5" fill="#b31b2c"/>
<rect x="537.9" y="632.1" width="12.7" height="178.1" fill="#c2393b"/>
<rect x="537.9" y="640.6" width="12.7" height="169.6" fill="#d25749"/>
<rect x="537.9" y="649.1" width="12.7" height="161.1" fill="#df745c"/>
<rect x="537.9" y="657.6" width="12.7" height="152.6" fill="#eb9173"/>
<rect x="537.9" y="666.1" width="12.7" height="144.1" fill="#f5ac8b"/>
<rect x="537.9" y="674.5" width="12.7" height="135.7" fill="#f9c2a7"/>
<rect x="537.9" y="683" width="12.7" height="127.2" fill="#fdd9c4"/>
<rect x="537.9" y="691.5" width="12.7" height="118.7" fill="#fbe6d9"/>
<rect x="537.9" y="700" width="12.7" height="110.2" fill="#f8f1ed"/>
<rect x="537.9" y="708.5" width="12.7" height="101.8" fill="#eff3f6"/>
<rect x="537.9" y="716.9" width="12.7" height="93.3" fill="#dfecf3"/>
<rect x="537.9" y="725.4" width="12.7" height="84.8" fill="#cee4ef"/>
<rect x="537.9" y="733.9" width="12.7" height="76.3" fill="#b4d6e8"/>
<rect x="537.9" y="742.4" width="12.7" height="67.8" fill="#9ac9e0"/>
<rect x="537.9" y="750.8" width="12.7" height="59.4" fill="#7bb6d6"/>
<rect x="537.9" y="759.3" width="12.7" height="50.9" fill="#5aa2cb"/>
<rect x="537.9" y="767.8" width="12.7" height="42.4" fill="#3f8dc0"/>
<rect x="537.9" y="776.3" width="12.7" height="33.9" fill="#317bb7"/>
<rect x="537.9" y="784.8" width="12.7" height="25.4" fill="#2268ad"/>
<rect x="537.9" y="793.2" width="12.7" height="17" fill="#165290"/>
<rect x="537.9" y="801.7" width="12.7" height="8.5" fill="#0b3b71"/>
<rect x="537.9" y="606.7" width="12.7" height="203.5" fill="none" stroke="#999" stroke-width="0.4"/>
<g font-family="Liberation Sans, sans-serif" font-size="6.8" fill="#222">
<line x1="549.1" y1="606.7" x2="550.6" y2="606.7" stroke="#444" stroke-width="0.4"/>
<text x="553.4" y="609.5">150</text>
<line x1="549.1" y1="640.6" x2="550.6" y2="640.6" stroke="#444" stroke-width="0.4"/>
<text x="553.4" y="643.4">100</text>
<line x1="549.1" y1="674.5" x2="550.6" y2="674.5" stroke="#444" stroke-width="0.4"/>
<text x="553.4" y="677.3">50</text>
<line x1="549.1" y1="708.5" x2="550.6" y2="708.5" stroke="#444" stroke-width="0.4"/>
<text x="553.4" y="711.2">0</text>
<line x1="549.1" y1="742.4" x2="550.6" y2="742.4" stroke="#444" stroke-width="0.4"/>
<text x="553.4" y="745.2">-50</text>
<line x1="549.1" y1="776.3" x2="550.6" y2="776.3" stroke="#444" stroke-width="0.4"/>
<text x="553.4" y="779.1">-100</text>
<line x1="549.1" y1="810.2" x2="550.6" y2="810.2" stroke="#444" stroke-width="0.4"/>
<text x="553.4" y="813">-150</text>
</g>
</svg>
</body></html>
